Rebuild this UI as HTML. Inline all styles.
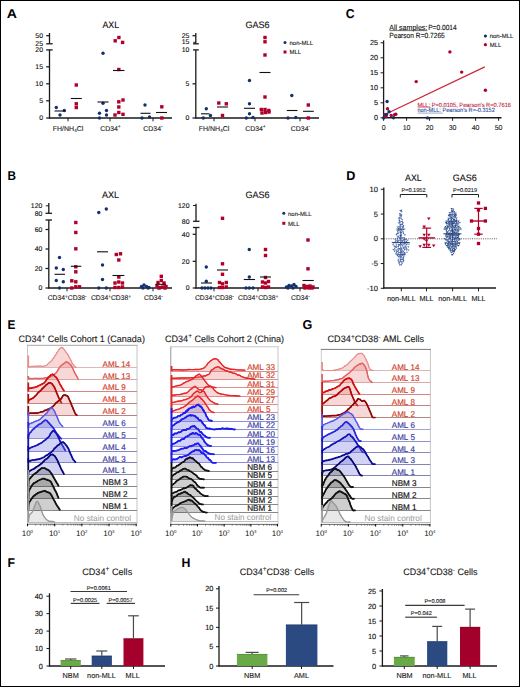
<!DOCTYPE html>
<html><head><meta charset="utf-8"><style>
html,body{margin:0;padding:0;background:#fff;}
body{width:520px;height:687px;overflow:hidden;position:relative;}
svg{position:absolute;left:0;top:0;font-family:"Liberation Sans", sans-serif;text-rendering:geometricPrecision;}
.frame{position:absolute;left:0;top:0;width:520px;height:687px;box-sizing:border-box;border:1px solid #000;border-right-width:1.5px;border-bottom-width:1.5px;}
</style></head><body>
<svg width="520" height="687" viewBox="0 0 520 687">
<text x="6.70" y="18.3" font-size="12.8" font-weight="bold" fill="#000" textLength="10.20" lengthAdjust="spacingAndGlyphs">A</text>
<text x="7.50" y="179.6" font-size="12.8" font-weight="bold" fill="#000" textLength="8.50" lengthAdjust="spacingAndGlyphs">B</text>
<text x="345.75" y="17.9" font-size="12.8" font-weight="bold" fill="#000" textLength="8.85" lengthAdjust="spacingAndGlyphs">C</text>
<text x="346.30" y="179.6" font-size="12.8" font-weight="bold" fill="#000" textLength="9.10" lengthAdjust="spacingAndGlyphs">D</text>
<text x="7.50" y="328.85" font-size="12.8" font-weight="bold" fill="#000" textLength="7.90" lengthAdjust="spacingAndGlyphs">E</text>
<text x="302.40" y="328.9" font-size="12.8" font-weight="bold" fill="#000" textLength="9.85" lengthAdjust="spacingAndGlyphs">G</text>
<text x="7.50" y="566.9" font-size="12.8" font-weight="bold" fill="#000" textLength="7.50" lengthAdjust="spacingAndGlyphs">F</text>
<text x="181.55" y="566.9" font-size="12.8" font-weight="bold" fill="#000" textLength="8.90" lengthAdjust="spacingAndGlyphs">H</text>
<line x1="49.5" y1="33" x2="49.5" y2="43.8" stroke="#1a1a1a" stroke-width="1.3"/>
<line x1="46.2" y1="43.8" x2="52.7" y2="43.8" stroke="#1a1a1a" stroke-width="1.3"/>
<line x1="49.5" y1="49.9" x2="49.5" y2="118.6" stroke="#1a1a1a" stroke-width="1.3"/>
<line x1="46.2" y1="49.9" x2="52.7" y2="49.9" stroke="#1a1a1a" stroke-width="1.3"/>
<line x1="49" y1="118" x2="172" y2="118" stroke="#1a1a1a" stroke-width="1.5"/>
<line x1="46.2" y1="35.7" x2="49.5" y2="35.7" stroke="#1a1a1a" stroke-width="1.25"/>
<text x="43.0" y="38.1" font-size="6.9" text-anchor="end" fill="#111" font-weight="normal" stroke="#111" stroke-width="0.12">50</text>
<line x1="46.2" y1="66.8" x2="49.5" y2="66.8" stroke="#1a1a1a" stroke-width="1.25"/>
<text x="43.0" y="69.2" font-size="6.9" text-anchor="end" fill="#111" font-weight="normal" stroke="#111" stroke-width="0.12">15</text>
<line x1="46.2" y1="83.8" x2="49.5" y2="83.8" stroke="#1a1a1a" stroke-width="1.25"/>
<text x="43.0" y="86.2" font-size="6.9" text-anchor="end" fill="#111" font-weight="normal" stroke="#111" stroke-width="0.12">10</text>
<line x1="46.2" y1="100.8" x2="49.5" y2="100.8" stroke="#1a1a1a" stroke-width="1.25"/>
<text x="43.0" y="103.2" font-size="6.9" text-anchor="end" fill="#111" font-weight="normal" stroke="#111" stroke-width="0.12">5</text>
<line x1="46.2" y1="118" x2="49.5" y2="118" stroke="#1a1a1a" stroke-width="1.25"/>
<text x="43.0" y="120.4" font-size="6.9" text-anchor="end" fill="#111" font-weight="normal" stroke="#111" stroke-width="0.12">0</text>
<text x="43.0" y="45.8" font-size="6.9" text-anchor="end" fill="#111" font-weight="normal" stroke="#111" stroke-width="0.12">25</text>
<text x="43.0" y="52.199999999999996" font-size="6.9" text-anchor="end" fill="#111" font-weight="normal" stroke="#111" stroke-width="0.12">20</text>
<line x1="68" y1="118" x2="68" y2="121.3" stroke="#1a1a1a" stroke-width="1"/>
<line x1="110" y1="118" x2="110" y2="121.3" stroke="#1a1a1a" stroke-width="1"/>
<line x1="153" y1="118" x2="153" y2="121.3" stroke="#1a1a1a" stroke-width="1"/>
<text x="68" y="130.5" font-size="7" text-anchor="middle" fill="#222" font-weight="normal" stroke="#222" stroke-width="0.12">FH/NH<tspan font-size="4.5" dy="1.5">4</tspan><tspan dy="-1.5">Cl</tspan></text>
<text x="100.23" y="130.50" font-size="6.9" fill="#222" stroke="#222" stroke-width="0.12" textLength="17.64" lengthAdjust="spacingAndGlyphs">CD34</text>
<text x="117.87" y="127.81" font-size="4.968" fill="#222" stroke="#222" stroke-width="0.12" textLength="2.90" lengthAdjust="spacingAndGlyphs">+</text>
<text x="143.35" y="130.50" font-size="6.9" fill="#222" stroke="#222" stroke-width="0.12" textLength="17.64" lengthAdjust="spacingAndGlyphs">CD34</text>
<text x="160.99" y="127.95" font-size="4.968" fill="#222" stroke="#222" stroke-width="0.12" textLength="1.65" lengthAdjust="spacingAndGlyphs">-</text>
<text x="102.42" y="27.8" font-size="9.4" fill="#111" font-weight="normal" stroke="#111" stroke-width="0.12" textLength="16.66" lengthAdjust="spacingAndGlyphs">AXL</text>
<circle cx="56.3" cy="107.5" r="1.7" fill="#13306e"/>
<circle cx="60" cy="115" r="1.7" fill="#13306e"/>
<circle cx="64.3" cy="110.5" r="1.7" fill="#13306e"/>
<circle cx="103" cy="53.2" r="1.7" fill="#13306e"/>
<circle cx="103" cy="103.3" r="1.7" fill="#13306e"/>
<circle cx="99.5" cy="113.3" r="1.7" fill="#13306e"/>
<circle cx="106.5" cy="110.5" r="1.7" fill="#13306e"/>
<circle cx="99.5" cy="118" r="1.7" fill="#13306e"/>
<circle cx="106.5" cy="115" r="1.7" fill="#13306e"/>
<circle cx="145" cy="105" r="1.7" fill="#13306e"/>
<circle cx="142" cy="118" r="1.7" fill="#13306e"/>
<circle cx="149.5" cy="117" r="1.7" fill="#13306e"/>
<rect x="74.60" y="83.30" width="3.4" height="3.4" fill="#b0002a"/>
<rect x="74.60" y="102.10" width="3.4" height="3.4" fill="#b0002a"/>
<rect x="74.60" y="105.80" width="3.4" height="3.4" fill="#b0002a"/>
<rect x="113.50" y="39.10" width="3.4" height="3.4" fill="#b0002a"/>
<rect x="117.20" y="35.80" width="3.4" height="3.4" fill="#b0002a"/>
<rect x="120.90" y="40.70" width="3.4" height="3.4" fill="#b0002a"/>
<rect x="117.10" y="67.80" width="3.4" height="3.4" fill="#b0002a"/>
<rect x="117.10" y="100.10" width="3.4" height="3.4" fill="#b0002a"/>
<rect x="121.30" y="98.30" width="3.4" height="3.4" fill="#b0002a"/>
<rect x="117.10" y="105.30" width="3.4" height="3.4" fill="#b0002a"/>
<rect x="113.30" y="113.30" width="3.4" height="3.4" fill="#b0002a"/>
<rect x="117.10" y="110.80" width="3.4" height="3.4" fill="#b0002a"/>
<rect x="121.30" y="112.60" width="3.4" height="3.4" fill="#b0002a"/>
<rect x="160.10" y="105.10" width="3.4" height="3.4" fill="#b0002a"/>
<rect x="160.10" y="116.30" width="3.4" height="3.4" fill="#b0002a"/>
<line x1="54.5" y1="111" x2="65.5" y2="111" stroke="#111" stroke-width="1.1"/>
<line x1="70.8" y1="98.5" x2="81.8" y2="98.5" stroke="#111" stroke-width="1.1"/>
<line x1="97.5" y1="102" x2="108.5" y2="102" stroke="#111" stroke-width="1.1"/>
<line x1="113" y1="70.5" x2="124.5" y2="70.5" stroke="#111" stroke-width="1.1"/>
<line x1="140.5" y1="113.3" x2="150.5" y2="113.3" stroke="#111" stroke-width="1.1"/>
<line x1="156" y1="112.5" x2="167" y2="112.5" stroke="#111" stroke-width="1.1"/>
<line x1="195.8" y1="33" x2="195.8" y2="43.8" stroke="#1a1a1a" stroke-width="1.3"/>
<line x1="193" y1="43.8" x2="198.8" y2="43.8" stroke="#1a1a1a" stroke-width="1.3"/>
<line x1="195.8" y1="49.9" x2="195.8" y2="118.6" stroke="#1a1a1a" stroke-width="1.3"/>
<line x1="193" y1="49.9" x2="198.8" y2="49.9" stroke="#1a1a1a" stroke-width="1.3"/>
<line x1="195.3" y1="118" x2="319" y2="118" stroke="#1a1a1a" stroke-width="1.5"/>
<line x1="192.5" y1="35.7" x2="195.8" y2="35.7" stroke="#1a1a1a" stroke-width="1.25"/>
<text x="189.3" y="38.1" font-size="6.9" text-anchor="end" fill="#111" font-weight="normal" stroke="#111" stroke-width="0.12">25</text>
<line x1="192.5" y1="83.8" x2="195.8" y2="83.8" stroke="#1a1a1a" stroke-width="1.25"/>
<text x="189.3" y="86.2" font-size="6.9" text-anchor="end" fill="#111" font-weight="normal" stroke="#111" stroke-width="0.12">5</text>
<line x1="192.5" y1="118" x2="195.8" y2="118" stroke="#1a1a1a" stroke-width="1.25"/>
<text x="189.3" y="120.4" font-size="6.9" text-anchor="end" fill="#111" font-weight="normal" stroke="#111" stroke-width="0.12">0</text>
<line x1="193.3" y1="42.3" x2="195.8" y2="42.3" stroke="#1a1a1a" stroke-width="1.0"/>
<text x="189.3" y="44.3" font-size="6.9" text-anchor="end" fill="#111" font-weight="normal" stroke="#111" stroke-width="0.12">15</text>
<text x="189.3" y="52.199999999999996" font-size="6.9" text-anchor="end" fill="#111" font-weight="normal" stroke="#111" stroke-width="0.12">10</text>
<line x1="214" y1="118" x2="214" y2="121.3" stroke="#1a1a1a" stroke-width="1"/>
<line x1="255" y1="118" x2="255" y2="121.3" stroke="#1a1a1a" stroke-width="1"/>
<line x1="300" y1="118" x2="300" y2="121.3" stroke="#1a1a1a" stroke-width="1"/>
<text x="214" y="130.5" font-size="7" text-anchor="middle" fill="#222" font-weight="normal" stroke="#222" stroke-width="0.12">FH/NH<tspan font-size="4.5" dy="1.5">4</tspan><tspan dy="-1.5">Cl</tspan></text>
<text x="245.23" y="130.50" font-size="6.9" fill="#222" stroke="#222" stroke-width="0.12" textLength="17.64" lengthAdjust="spacingAndGlyphs">CD34</text>
<text x="262.87" y="127.81" font-size="4.968" fill="#222" stroke="#222" stroke-width="0.12" textLength="2.90" lengthAdjust="spacingAndGlyphs">+</text>
<text x="290.85" y="130.50" font-size="6.9" fill="#222" stroke="#222" stroke-width="0.12" textLength="17.64" lengthAdjust="spacingAndGlyphs">CD34</text>
<text x="308.49" y="127.95" font-size="4.968" fill="#222" stroke="#222" stroke-width="0.12" textLength="1.65" lengthAdjust="spacingAndGlyphs">-</text>
<text x="245.42" y="27.8" font-size="9.4" fill="#111" font-weight="normal" stroke="#111" stroke-width="0.12" textLength="24.16" lengthAdjust="spacingAndGlyphs">GAS6</text>
<circle cx="206.3" cy="108.8" r="1.7" fill="#13306e"/>
<circle cx="203.3" cy="118" r="1.7" fill="#13306e"/>
<circle cx="210.5" cy="115.5" r="1.7" fill="#13306e"/>
<circle cx="249.5" cy="80.5" r="1.7" fill="#13306e"/>
<circle cx="249.5" cy="103.8" r="1.7" fill="#13306e"/>
<circle cx="249.5" cy="113.8" r="1.7" fill="#13306e"/>
<circle cx="246.3" cy="118" r="1.7" fill="#13306e"/>
<circle cx="253" cy="117.5" r="1.7" fill="#13306e"/>
<circle cx="291.8" cy="95.5" r="1.7" fill="#13306e"/>
<circle cx="288" cy="118" r="1.7" fill="#13306e"/>
<circle cx="295.8" cy="117.5" r="1.7" fill="#13306e"/>
<rect x="217.10" y="101.30" width="3.4" height="3.4" fill="#b0002a"/>
<rect x="224.60" y="102.10" width="3.4" height="3.4" fill="#b0002a"/>
<rect x="220.80" y="113.80" width="3.4" height="3.4" fill="#b0002a"/>
<rect x="263.30" y="35.80" width="3.4" height="3.4" fill="#b0002a"/>
<rect x="263.30" y="40.10" width="3.4" height="3.4" fill="#b0002a"/>
<rect x="263.30" y="53.30" width="3.4" height="3.4" fill="#b0002a"/>
<rect x="263.30" y="95.30" width="3.4" height="3.4" fill="#b0002a"/>
<rect x="259.60" y="107.80" width="3.4" height="3.4" fill="#b0002a"/>
<rect x="263.30" y="107.80" width="3.4" height="3.4" fill="#b0002a"/>
<rect x="267.10" y="108.80" width="3.4" height="3.4" fill="#b0002a"/>
<rect x="260.30" y="111.30" width="3.4" height="3.4" fill="#b0002a"/>
<rect x="263.80" y="110.80" width="3.4" height="3.4" fill="#b0002a"/>
<rect x="267.30" y="110.30" width="3.4" height="3.4" fill="#b0002a"/>
<rect x="306.60" y="103.30" width="3.4" height="3.4" fill="#b0002a"/>
<rect x="306.60" y="116.30" width="3.4" height="3.4" fill="#b0002a"/>
<line x1="201" y1="113.8" x2="209.5" y2="113.8" stroke="#111" stroke-width="1.1"/>
<line x1="217" y1="107" x2="228" y2="107" stroke="#111" stroke-width="1.1"/>
<line x1="244" y1="108.3" x2="255" y2="108.3" stroke="#111" stroke-width="1.1"/>
<line x1="259.5" y1="72.5" x2="270.5" y2="72.5" stroke="#111" stroke-width="1.1"/>
<line x1="286.8" y1="110.5" x2="297.5" y2="110.5" stroke="#111" stroke-width="1.1"/>
<line x1="303" y1="111.3" x2="313.8" y2="111.3" stroke="#111" stroke-width="1.1"/>
<circle cx="285" cy="42.5" r="1.5" fill="#13306e"/>
<text x="289.5" y="44.8" font-size="6.0" text-anchor="start" fill="#222" font-weight="normal" stroke="#222" stroke-width="0.12">non-MLL</text>
<rect x="283.50" y="50.50" width="3" height="3" fill="#b0002a"/>
<text x="289.5" y="54.3" font-size="6.0" text-anchor="start" fill="#222" font-weight="normal" stroke="#222" stroke-width="0.12">MLL</text>
<line x1="383.6" y1="40.4" x2="383.6" y2="118.5" stroke="#1a1a1a" stroke-width="1.3"/>
<line x1="383" y1="117.8" x2="501.5" y2="117.8" stroke="#1a1a1a" stroke-width="1.5"/>
<line x1="380.6" y1="117.8" x2="383.6" y2="117.8" stroke="#1a1a1a" stroke-width="1.0"/>
<text x="378.1" y="120.3" font-size="7.3" text-anchor="end" fill="#111" font-weight="normal" stroke="#111" stroke-width="0.12">0</text>
<line x1="380.6" y1="102.8" x2="383.6" y2="102.8" stroke="#1a1a1a" stroke-width="1.0"/>
<text x="378.1" y="105.3" font-size="7.3" text-anchor="end" fill="#111" font-weight="normal" stroke="#111" stroke-width="0.12">5</text>
<line x1="380.6" y1="87.8" x2="383.6" y2="87.8" stroke="#1a1a1a" stroke-width="1.0"/>
<text x="378.1" y="90.3" font-size="7.3" text-anchor="end" fill="#111" font-weight="normal" stroke="#111" stroke-width="0.12">10</text>
<line x1="380.6" y1="72.8" x2="383.6" y2="72.8" stroke="#1a1a1a" stroke-width="1.0"/>
<text x="378.1" y="75.3" font-size="7.3" text-anchor="end" fill="#111" font-weight="normal" stroke="#111" stroke-width="0.12">15</text>
<line x1="380.6" y1="57.8" x2="383.6" y2="57.8" stroke="#1a1a1a" stroke-width="1.0"/>
<text x="378.1" y="60.3" font-size="7.3" text-anchor="end" fill="#111" font-weight="normal" stroke="#111" stroke-width="0.12">20</text>
<line x1="380.6" y1="42.8" x2="383.6" y2="42.8" stroke="#1a1a1a" stroke-width="1.0"/>
<text x="378.1" y="45.3" font-size="7.3" text-anchor="end" fill="#111" font-weight="normal" stroke="#111" stroke-width="0.12">25</text>
<line x1="383.6" y1="117.8" x2="383.6" y2="120.8" stroke="#1a1a1a" stroke-width="1.0"/>
<text x="383.6" y="130.1" font-size="7" text-anchor="middle" fill="#222" font-weight="normal" stroke="#222" stroke-width="0.12">0</text>
<line x1="406.6" y1="117.8" x2="406.6" y2="120.8" stroke="#1a1a1a" stroke-width="1.0"/>
<text x="406.6" y="130.1" font-size="7" text-anchor="middle" fill="#222" font-weight="normal" stroke="#222" stroke-width="0.12">10</text>
<line x1="429.6" y1="117.8" x2="429.6" y2="120.8" stroke="#1a1a1a" stroke-width="1.0"/>
<text x="429.6" y="130.1" font-size="7" text-anchor="middle" fill="#222" font-weight="normal" stroke="#222" stroke-width="0.12">20</text>
<line x1="452.6" y1="117.8" x2="452.6" y2="120.8" stroke="#1a1a1a" stroke-width="1.0"/>
<text x="452.6" y="130.1" font-size="7" text-anchor="middle" fill="#222" font-weight="normal" stroke="#222" stroke-width="0.12">30</text>
<line x1="475.6" y1="117.8" x2="475.6" y2="120.8" stroke="#1a1a1a" stroke-width="1.0"/>
<text x="475.6" y="130.1" font-size="7" text-anchor="middle" fill="#222" font-weight="normal" stroke="#222" stroke-width="0.12">40</text>
<line x1="498.6" y1="117.8" x2="498.6" y2="120.8" stroke="#1a1a1a" stroke-width="1.0"/>
<text x="498.6" y="130.1" font-size="7" text-anchor="middle" fill="#222" font-weight="normal" stroke="#222" stroke-width="0.12">50</text>
<text x="389.3" y="29.7" font-size="7.4" text-anchor="start" fill="#111" font-weight="normal" stroke="#111" stroke-width="0.12" textLength="38" lengthAdjust="spacingAndGlyphs">All samples:</text>
<line x1="389.6" y1="30.6" x2="427.3" y2="30.6" stroke="#111" stroke-width="0.6"/>
<text x="428.2" y="29.7" font-size="7.4" text-anchor="start" fill="#111" font-weight="normal" stroke="#111" stroke-width="0.12" textLength="28.5" lengthAdjust="spacingAndGlyphs">P=0.0014</text>
<text x="389.3" y="37.6" font-size="7.4" text-anchor="start" fill="#111" font-weight="normal" stroke="#111" stroke-width="0.12" textLength="55.5" lengthAdjust="spacingAndGlyphs">Pearson R=0.7265</text>
<circle cx="485.4" cy="36" r="1.6" fill="#13306e"/>
<text x="489.7" y="38.3" font-size="6.0" text-anchor="start" fill="#222" font-weight="normal" stroke="#222" stroke-width="0.12">non-MLL</text>
<circle cx="485.4" cy="44.7" r="1.6" fill="#b0002a"/>
<text x="489.7" y="47" font-size="6.0" text-anchor="start" fill="#222" font-weight="normal" stroke="#222" stroke-width="0.12">MLL</text>
<line x1="385.4" y1="114.2" x2="484.8" y2="66.9" stroke="#c8283a" stroke-width="1.2"/>
<circle cx="449.9" cy="51.9" r="1.7" fill="#b0002a"/>
<circle cx="461.7" cy="72.1" r="1.7" fill="#b0002a"/>
<circle cx="416.2" cy="81.6" r="1.7" fill="#b0002a"/>
<circle cx="485.4" cy="90.3" r="1.7" fill="#b0002a"/>
<circle cx="387.5" cy="108.8" r="1.7" fill="#b0002a"/>
<circle cx="384.8" cy="114.8" r="1.7" fill="#b0002a"/>
<circle cx="386" cy="116.5" r="1.7" fill="#b0002a"/>
<circle cx="391.2" cy="115.4" r="1.7" fill="#b0002a"/>
<circle cx="394.6" cy="114.8" r="1.7" fill="#b0002a"/>
<circle cx="395.8" cy="114.2" r="1.7" fill="#b0002a"/>
<circle cx="387.1" cy="101.5" r="1.7" fill="#13306e"/>
<circle cx="389.1" cy="111.7" r="1.7" fill="#13306e"/>
<circle cx="383.65" cy="117.9" r="1.7" fill="#13306e"/>
<circle cx="393.5" cy="117.7" r="1.7" fill="#13306e"/>
<circle cx="427.5" cy="117.9" r="1.7" fill="#13306e"/>
<circle cx="386.5" cy="114.5" r="1.7" fill="#13306e"/>
<text x="417.4" y="106.6" font-size="6.0" text-anchor="start" fill="#c0283f" font-weight="normal" stroke="#c0283f" stroke-width="0.12" textLength="93.6" lengthAdjust="spacingAndGlyphs">MLL: P=0.0105,  Pearson's R=0.7616</text>
<line x1="417.7" y1="107.3" x2="431.2" y2="107.3" stroke="#c0283f" stroke-width="0.5"/>
<text x="417.4" y="112.4" font-size="6.0" text-anchor="start" fill="#3050a0" font-weight="normal" stroke="#3050a0" stroke-width="0.12" textLength="77.4" lengthAdjust="spacingAndGlyphs">non-MLL: Pearson's R=-0.3152</text>
<line x1="417.7" y1="113.1" x2="442.7" y2="113.1" stroke="#3050a0" stroke-width="0.5"/>
<line x1="48.8" y1="203" x2="48.8" y2="213.3" stroke="#1a1a1a" stroke-width="1.3"/>
<line x1="45.5" y1="213.3" x2="52" y2="213.3" stroke="#1a1a1a" stroke-width="1.3"/>
<line x1="48.8" y1="220" x2="48.8" y2="288.6" stroke="#1a1a1a" stroke-width="1.3"/>
<line x1="45.5" y1="220" x2="52" y2="220" stroke="#1a1a1a" stroke-width="1.3"/>
<line x1="48.3" y1="288" x2="172" y2="288" stroke="#1a1a1a" stroke-width="1.5"/>
<line x1="45.8" y1="205.8" x2="48.8" y2="205.8" stroke="#1a1a1a" stroke-width="1.0"/>
<text x="42.3" y="208.10000000000002" font-size="6.9" text-anchor="end" fill="#111" font-weight="normal" stroke="#111" stroke-width="0.12">120</text>
<text x="42.3" y="215.60000000000002" font-size="6.9" text-anchor="end" fill="#111" font-weight="normal" stroke="#111" stroke-width="0.12">80</text>
<line x1="45.5" y1="229.5" x2="48.8" y2="229.5" stroke="#1a1a1a" stroke-width="1.25"/>
<text x="42.3" y="231.9" font-size="6.9" text-anchor="end" fill="#111" font-weight="normal" stroke="#111" stroke-width="0.12">60</text>
<line x1="45.5" y1="249" x2="48.8" y2="249" stroke="#1a1a1a" stroke-width="1.25"/>
<text x="42.3" y="251.4" font-size="6.9" text-anchor="end" fill="#111" font-weight="normal" stroke="#111" stroke-width="0.12">40</text>
<line x1="45.5" y1="268.5" x2="48.8" y2="268.5" stroke="#1a1a1a" stroke-width="1.25"/>
<text x="42.3" y="270.9" font-size="6.9" text-anchor="end" fill="#111" font-weight="normal" stroke="#111" stroke-width="0.12">20</text>
<line x1="45.5" y1="288" x2="48.8" y2="288" stroke="#1a1a1a" stroke-width="1.25"/>
<text x="42.3" y="290.4" font-size="6.9" text-anchor="end" fill="#111" font-weight="normal" stroke="#111" stroke-width="0.12">0</text>
<line x1="67" y1="288" x2="67" y2="291.3" stroke="#1a1a1a" stroke-width="1"/>
<line x1="110" y1="288" x2="110" y2="291.3" stroke="#1a1a1a" stroke-width="1"/>
<line x1="153" y1="288" x2="153" y2="291.3" stroke="#1a1a1a" stroke-width="1"/>
<text x="47.71" y="300.30" font-size="6.75" fill="#222" stroke="#222" stroke-width="0.12" textLength="17.26" lengthAdjust="spacingAndGlyphs">CD34</text>
<text x="64.97" y="297.67" font-size="4.859999999999999" fill="#222" stroke="#222" stroke-width="0.12" textLength="2.84" lengthAdjust="spacingAndGlyphs">+</text>
<text x="67.81" y="300.30" font-size="6.75" fill="#222" stroke="#222" stroke-width="0.12" textLength="17.26" lengthAdjust="spacingAndGlyphs">CD38</text>
<text x="85.07" y="297.80" font-size="4.859999999999999" fill="#222" stroke="#222" stroke-width="0.12" textLength="1.62" lengthAdjust="spacingAndGlyphs">-</text>
<text x="90.90" y="300.30" font-size="6.75" fill="#222" stroke="#222" stroke-width="0.12" textLength="17.26" lengthAdjust="spacingAndGlyphs">CD34</text>
<text x="108.16" y="297.67" font-size="4.859999999999999" fill="#222" stroke="#222" stroke-width="0.12" textLength="2.84" lengthAdjust="spacingAndGlyphs">+</text>
<text x="111.00" y="300.30" font-size="6.75" fill="#222" stroke="#222" stroke-width="0.12" textLength="17.26" lengthAdjust="spacingAndGlyphs">CD38</text>
<text x="128.26" y="297.67" font-size="4.859999999999999" fill="#222" stroke="#222" stroke-width="0.12" textLength="2.84" lengthAdjust="spacingAndGlyphs">+</text>
<text x="144.06" y="300.30" font-size="6.75" fill="#222" stroke="#222" stroke-width="0.12" textLength="17.26" lengthAdjust="spacingAndGlyphs">CD34</text>
<text x="161.32" y="297.80" font-size="4.859999999999999" fill="#222" stroke="#222" stroke-width="0.12" textLength="1.62" lengthAdjust="spacingAndGlyphs">-</text>
<text x="102.02" y="197.8" font-size="9.4" fill="#111" font-weight="normal" stroke="#111" stroke-width="0.12" textLength="17.16" lengthAdjust="spacingAndGlyphs">AXL</text>
<circle cx="59.5" cy="257.5" r="1.7" fill="#13306e"/>
<circle cx="56.3" cy="268" r="1.7" fill="#13306e"/>
<circle cx="63.3" cy="269.5" r="1.7" fill="#13306e"/>
<circle cx="56.3" cy="280.5" r="1.7" fill="#13306e"/>
<circle cx="63.3" cy="281.8" r="1.7" fill="#13306e"/>
<circle cx="59.5" cy="288" r="1.7" fill="#13306e"/>
<circle cx="98.8" cy="212.5" r="1.7" fill="#13306e"/>
<circle cx="106.3" cy="209" r="1.7" fill="#13306e"/>
<circle cx="102.5" cy="265" r="1.7" fill="#13306e"/>
<circle cx="102.5" cy="279.5" r="1.7" fill="#13306e"/>
<circle cx="98.8" cy="288" r="1.7" fill="#13306e"/>
<circle cx="106.3" cy="288" r="1.7" fill="#13306e"/>
<circle cx="141.5" cy="286.5" r="1.7" fill="#13306e"/>
<circle cx="144" cy="285" r="1.7" fill="#13306e"/>
<circle cx="146.5" cy="286.5" r="1.7" fill="#13306e"/>
<circle cx="149" cy="287.5" r="1.7" fill="#13306e"/>
<circle cx="143" cy="288" r="1.7" fill="#13306e"/>
<circle cx="148" cy="288" r="1.7" fill="#13306e"/>
<rect x="74.10" y="220.80" width="3.4" height="3.4" fill="#b0002a"/>
<rect x="74.10" y="230.80" width="3.4" height="3.4" fill="#b0002a"/>
<rect x="74.10" y="247.10" width="3.4" height="3.4" fill="#b0002a"/>
<rect x="74.10" y="265.10" width="3.4" height="3.4" fill="#b0002a"/>
<rect x="74.10" y="270.10" width="3.4" height="3.4" fill="#b0002a"/>
<rect x="70.10" y="279.10" width="3.4" height="3.4" fill="#b0002a"/>
<rect x="74.10" y="280.10" width="3.4" height="3.4" fill="#b0002a"/>
<rect x="70.10" y="286.30" width="3.4" height="3.4" fill="#b0002a"/>
<rect x="74.10" y="285.10" width="3.4" height="3.4" fill="#b0002a"/>
<rect x="77.80" y="285.10" width="3.4" height="3.4" fill="#b0002a"/>
<rect x="114.60" y="252.80" width="3.4" height="3.4" fill="#b0002a"/>
<rect x="118.80" y="252.10" width="3.4" height="3.4" fill="#b0002a"/>
<rect x="117.10" y="258.30" width="3.4" height="3.4" fill="#b0002a"/>
<rect x="117.10" y="275.30" width="3.4" height="3.4" fill="#b0002a"/>
<rect x="113.30" y="281.30" width="3.4" height="3.4" fill="#b0002a"/>
<rect x="117.10" y="280.30" width="3.4" height="3.4" fill="#b0002a"/>
<rect x="120.80" y="281.30" width="3.4" height="3.4" fill="#b0002a"/>
<rect x="113.30" y="285.80" width="3.4" height="3.4" fill="#b0002a"/>
<rect x="117.10" y="285.80" width="3.4" height="3.4" fill="#b0002a"/>
<rect x="120.80" y="285.30" width="3.4" height="3.4" fill="#b0002a"/>
<rect x="159.60" y="274.60" width="3.4" height="3.4" fill="#b0002a"/>
<rect x="159.60" y="278.80" width="3.4" height="3.4" fill="#b0002a"/>
<rect x="156.30" y="280.80" width="3.4" height="3.4" fill="#b0002a"/>
<rect x="162.30" y="281.30" width="3.4" height="3.4" fill="#b0002a"/>
<rect x="155.30" y="284.30" width="3.4" height="3.4" fill="#b0002a"/>
<rect x="158.30" y="285.80" width="3.4" height="3.4" fill="#b0002a"/>
<rect x="161.30" y="285.30" width="3.4" height="3.4" fill="#b0002a"/>
<rect x="164.30" y="284.80" width="3.4" height="3.4" fill="#b0002a"/>
<rect x="157.30" y="286.30" width="3.4" height="3.4" fill="#b0002a"/>
<rect x="163.30" y="286.30" width="3.4" height="3.4" fill="#b0002a"/>
<line x1="54.5" y1="274.3" x2="65" y2="274.3" stroke="#111" stroke-width="1.1"/>
<line x1="70.8" y1="266.3" x2="81.3" y2="266.3" stroke="#111" stroke-width="1.1"/>
<line x1="97" y1="251.8" x2="108" y2="251.8" stroke="#111" stroke-width="1.1"/>
<line x1="112.5" y1="275.5" x2="124.3" y2="275.5" stroke="#111" stroke-width="1.1"/>
<line x1="155.5" y1="284.3" x2="166" y2="284.3" stroke="#111" stroke-width="1.1"/>
<line x1="196" y1="203.8" x2="196" y2="221.3" stroke="#1a1a1a" stroke-width="1.3"/>
<line x1="193" y1="221.3" x2="199.5" y2="221.3" stroke="#1a1a1a" stroke-width="1.3"/>
<line x1="196" y1="227.5" x2="196" y2="288.6" stroke="#1a1a1a" stroke-width="1.3"/>
<line x1="193" y1="227.5" x2="199.5" y2="227.5" stroke="#1a1a1a" stroke-width="1.3"/>
<line x1="195.5" y1="288" x2="319" y2="288" stroke="#1a1a1a" stroke-width="1.5"/>
<line x1="193" y1="205.5" x2="196" y2="205.5" stroke="#1a1a1a" stroke-width="1.0"/>
<text x="189.5" y="207.8" font-size="6.9" text-anchor="end" fill="#111" font-weight="normal" stroke="#111" stroke-width="0.12">120</text>
<text x="189.5" y="223.60000000000002" font-size="6.9" text-anchor="end" fill="#111" font-weight="normal" stroke="#111" stroke-width="0.12">80</text>
<line x1="192.7" y1="234.3" x2="196" y2="234.3" stroke="#1a1a1a" stroke-width="1.25"/>
<text x="189.5" y="236.70000000000002" font-size="6.9" text-anchor="end" fill="#111" font-weight="normal" stroke="#111" stroke-width="0.12">40</text>
<line x1="192.7" y1="261.3" x2="196" y2="261.3" stroke="#1a1a1a" stroke-width="1.25"/>
<text x="189.5" y="263.7" font-size="6.9" text-anchor="end" fill="#111" font-weight="normal" stroke="#111" stroke-width="0.12">20</text>
<line x1="192.7" y1="288" x2="196" y2="288" stroke="#1a1a1a" stroke-width="1.25"/>
<text x="189.5" y="290.4" font-size="6.9" text-anchor="end" fill="#111" font-weight="normal" stroke="#111" stroke-width="0.12">0</text>
<line x1="214" y1="288" x2="214" y2="291.3" stroke="#1a1a1a" stroke-width="1"/>
<line x1="258" y1="288" x2="258" y2="291.3" stroke="#1a1a1a" stroke-width="1"/>
<line x1="300" y1="288" x2="300" y2="291.3" stroke="#1a1a1a" stroke-width="1"/>
<text x="195.01" y="300.30" font-size="6.75" fill="#222" stroke="#222" stroke-width="0.12" textLength="17.26" lengthAdjust="spacingAndGlyphs">CD34</text>
<text x="212.27" y="297.67" font-size="4.859999999999999" fill="#222" stroke="#222" stroke-width="0.12" textLength="2.84" lengthAdjust="spacingAndGlyphs">+</text>
<text x="215.11" y="300.30" font-size="6.75" fill="#222" stroke="#222" stroke-width="0.12" textLength="17.26" lengthAdjust="spacingAndGlyphs">CD38</text>
<text x="232.37" y="297.80" font-size="4.859999999999999" fill="#222" stroke="#222" stroke-width="0.12" textLength="1.62" lengthAdjust="spacingAndGlyphs">-</text>
<text x="238.10" y="300.30" font-size="6.75" fill="#222" stroke="#222" stroke-width="0.12" textLength="17.26" lengthAdjust="spacingAndGlyphs">CD34</text>
<text x="255.36" y="297.67" font-size="4.859999999999999" fill="#222" stroke="#222" stroke-width="0.12" textLength="2.84" lengthAdjust="spacingAndGlyphs">+</text>
<text x="258.20" y="300.30" font-size="6.75" fill="#222" stroke="#222" stroke-width="0.12" textLength="17.26" lengthAdjust="spacingAndGlyphs">CD38</text>
<text x="275.46" y="297.67" font-size="4.859999999999999" fill="#222" stroke="#222" stroke-width="0.12" textLength="2.84" lengthAdjust="spacingAndGlyphs">+</text>
<text x="291.06" y="300.30" font-size="6.75" fill="#222" stroke="#222" stroke-width="0.12" textLength="17.26" lengthAdjust="spacingAndGlyphs">CD34</text>
<text x="308.32" y="297.80" font-size="4.859999999999999" fill="#222" stroke="#222" stroke-width="0.12" textLength="1.62" lengthAdjust="spacingAndGlyphs">-</text>
<text x="245.42" y="197.8" font-size="9.4" fill="#111" font-weight="normal" stroke="#111" stroke-width="0.12" textLength="24.16" lengthAdjust="spacingAndGlyphs">GAS6</text>
<circle cx="206.3" cy="267" r="1.7" fill="#13306e"/>
<circle cx="206.3" cy="281.3" r="1.7" fill="#13306e"/>
<circle cx="202" cy="288" r="1.7" fill="#13306e"/>
<circle cx="205" cy="288" r="1.7" fill="#13306e"/>
<circle cx="208" cy="288" r="1.7" fill="#13306e"/>
<circle cx="211" cy="288" r="1.7" fill="#13306e"/>
<circle cx="249.3" cy="249.5" r="1.7" fill="#13306e"/>
<circle cx="249.3" cy="277" r="1.7" fill="#13306e"/>
<circle cx="246" cy="288" r="1.7" fill="#13306e"/>
<circle cx="249.3" cy="288" r="1.7" fill="#13306e"/>
<circle cx="253" cy="288" r="1.7" fill="#13306e"/>
<circle cx="286.5" cy="287" r="1.7" fill="#13306e"/>
<circle cx="289" cy="285.5" r="1.7" fill="#13306e"/>
<circle cx="291.5" cy="286" r="1.7" fill="#13306e"/>
<circle cx="294" cy="284.5" r="1.7" fill="#13306e"/>
<circle cx="296" cy="286.5" r="1.7" fill="#13306e"/>
<circle cx="288" cy="288" r="1.7" fill="#13306e"/>
<circle cx="293" cy="288" r="1.7" fill="#13306e"/>
<rect x="220.80" y="216.60" width="3.4" height="3.4" fill="#b0002a"/>
<rect x="220.80" y="262.10" width="3.4" height="3.4" fill="#b0002a"/>
<rect x="220.80" y="272.60" width="3.4" height="3.4" fill="#b0002a"/>
<rect x="217.80" y="280.80" width="3.4" height="3.4" fill="#b0002a"/>
<rect x="220.80" y="282.10" width="3.4" height="3.4" fill="#b0002a"/>
<rect x="224.60" y="280.80" width="3.4" height="3.4" fill="#b0002a"/>
<rect x="217.80" y="285.80" width="3.4" height="3.4" fill="#b0002a"/>
<rect x="220.80" y="285.80" width="3.4" height="3.4" fill="#b0002a"/>
<rect x="224.60" y="285.30" width="3.4" height="3.4" fill="#b0002a"/>
<rect x="263.80" y="247.80" width="3.4" height="3.4" fill="#b0002a"/>
<rect x="263.80" y="253.80" width="3.4" height="3.4" fill="#b0002a"/>
<rect x="263.80" y="275.80" width="3.4" height="3.4" fill="#b0002a"/>
<rect x="260.80" y="280.30" width="3.4" height="3.4" fill="#b0002a"/>
<rect x="263.80" y="281.30" width="3.4" height="3.4" fill="#b0002a"/>
<rect x="266.80" y="279.80" width="3.4" height="3.4" fill="#b0002a"/>
<rect x="260.80" y="285.30" width="3.4" height="3.4" fill="#b0002a"/>
<rect x="263.80" y="285.80" width="3.4" height="3.4" fill="#b0002a"/>
<rect x="266.80" y="285.30" width="3.4" height="3.4" fill="#b0002a"/>
<rect x="306.30" y="238.30" width="3.4" height="3.4" fill="#b0002a"/>
<rect x="306.30" y="267.10" width="3.4" height="3.4" fill="#b0002a"/>
<rect x="302.30" y="283.80" width="3.4" height="3.4" fill="#b0002a"/>
<rect x="305.30" y="284.80" width="3.4" height="3.4" fill="#b0002a"/>
<rect x="308.30" y="284.30" width="3.4" height="3.4" fill="#b0002a"/>
<rect x="311.30" y="285.30" width="3.4" height="3.4" fill="#b0002a"/>
<rect x="303.30" y="286.30" width="3.4" height="3.4" fill="#b0002a"/>
<rect x="307.30" y="286.30" width="3.4" height="3.4" fill="#b0002a"/>
<rect x="310.30" y="286.30" width="3.4" height="3.4" fill="#b0002a"/>
<line x1="201" y1="283" x2="212" y2="283" stroke="#111" stroke-width="1.1"/>
<line x1="217" y1="270" x2="228" y2="270" stroke="#111" stroke-width="1.1"/>
<line x1="243.8" y1="279.5" x2="255" y2="279.5" stroke="#111" stroke-width="1.1"/>
<line x1="260" y1="277" x2="271" y2="277" stroke="#111" stroke-width="1.1"/>
<line x1="302.5" y1="280.5" x2="313.8" y2="280.5" stroke="#111" stroke-width="1.1"/>
<circle cx="283.8" cy="213.3" r="1.5" fill="#13306e"/>
<text x="288" y="215.6" font-size="6.0" text-anchor="start" fill="#222" font-weight="normal" stroke="#222" stroke-width="0.12">non-MLL</text>
<rect x="282.30" y="221.80" width="3" height="3" fill="#b0002a"/>
<text x="288" y="225.6" font-size="6.0" text-anchor="start" fill="#222" font-weight="normal" stroke="#222" stroke-width="0.12">MLL</text>
<line x1="383.8" y1="187.5" x2="383.8" y2="288.6" stroke="#1a1a1a" stroke-width="1.3"/>
<line x1="383.2" y1="288" x2="496" y2="288" stroke="#1a1a1a" stroke-width="1.5"/>
<line x1="380.8" y1="189.3" x2="383.8" y2="189.3" stroke="#1a1a1a" stroke-width="1.0"/>
<text x="378.0" y="191.9" font-size="7.6" text-anchor="end" fill="#111" font-weight="normal" stroke="#111" stroke-width="0.12">10</text>
<line x1="380.8" y1="214.05" x2="383.8" y2="214.05" stroke="#1a1a1a" stroke-width="1.0"/>
<text x="378.0" y="216.65" font-size="7.6" text-anchor="end" fill="#111" font-weight="normal" stroke="#111" stroke-width="0.12">5</text>
<line x1="380.8" y1="238.8" x2="383.8" y2="238.8" stroke="#1a1a1a" stroke-width="1.0"/>
<text x="378.0" y="241.4" font-size="7.6" text-anchor="end" fill="#111" font-weight="normal" stroke="#111" stroke-width="0.12">0</text>
<line x1="380.8" y1="263.55" x2="383.8" y2="263.55" stroke="#1a1a1a" stroke-width="1.0"/>
<text x="378.0" y="266.15000000000003" font-size="7.6" text-anchor="end" fill="#111" font-weight="normal" stroke="#111" stroke-width="0.12">-5</text>
<line x1="380.8" y1="288.3" x2="383.8" y2="288.3" stroke="#1a1a1a" stroke-width="1.0"/>
<text x="378.0" y="290.90000000000003" font-size="7.6" text-anchor="end" fill="#111" font-weight="normal" stroke="#111" stroke-width="0.12">-10</text>
<line x1="401.3" y1="288" x2="401.3" y2="291.3" stroke="#1a1a1a" stroke-width="1"/>
<line x1="426.5" y1="288" x2="426.5" y2="291.3" stroke="#1a1a1a" stroke-width="1"/>
<line x1="452.6" y1="288" x2="452.6" y2="291.3" stroke="#1a1a1a" stroke-width="1"/>
<line x1="478.5" y1="288" x2="478.5" y2="291.3" stroke="#1a1a1a" stroke-width="1"/>
<text x="401.3" y="300.8" font-size="7.3" text-anchor="middle" fill="#222" font-weight="normal" stroke="#222" stroke-width="0.12">non-MLL</text>
<text x="426.5" y="300.8" font-size="7.3" text-anchor="middle" fill="#222" font-weight="normal" stroke="#222" stroke-width="0.12">MLL</text>
<text x="452.6" y="300.8" font-size="7.3" text-anchor="middle" fill="#222" font-weight="normal" stroke="#222" stroke-width="0.12">non-MLL</text>
<text x="478.5" y="300.8" font-size="7.3" text-anchor="middle" fill="#222" font-weight="normal" stroke="#222" stroke-width="0.12">MLL</text>
<text x="405.12" y="180.6" font-size="9.4" fill="#111" font-weight="normal" stroke="#111" stroke-width="0.12" textLength="16.66" lengthAdjust="spacingAndGlyphs">AXL</text>
<text x="452.82" y="180.6" font-size="9.4" fill="#111" font-weight="normal" stroke="#111" stroke-width="0.12" textLength="23.96" lengthAdjust="spacingAndGlyphs">GAS6</text>
<line x1="384" y1="238.8" x2="497" y2="238.8" stroke="#555" stroke-width="0.9" stroke-dasharray="1.1,1.1"/>
<path d="M400.3 197.5 V194.5 H426.8 V197.5" fill="none" stroke="#222" stroke-width="1"/>
<text x="413.5" y="192.0" font-size="5.6" text-anchor="middle" fill="#222" font-weight="normal" stroke="#222" stroke-width="0.12">P=0.1952</text>
<path d="M452 197.5 V194.5 H478.5 V197.5" fill="none" stroke="#222" stroke-width="1"/>
<text x="465" y="192.0" font-size="5.6" text-anchor="middle" fill="#222" font-weight="normal" stroke="#222" stroke-width="0.12">P=0.0219</text>
<path d="M399.31 210.07h2.0l-1.0 1.6z M400.52 209.86h2.0l-1.0 1.6z M400.49 211.15h2.0l-1.0 1.6z M398.84 213.07h2.0l-1.0 1.6z M399.13 214.41h2.0l-1.0 1.6z M400.28 214.10h2.0l-1.0 1.6z M399.03 215.50h2.0l-1.0 1.6z M400.31 215.33h2.0l-1.0 1.6z M398.19 217.05h2.0l-1.0 1.6z M399.91 216.66h2.0l-1.0 1.6z M398.18 218.33h2.0l-1.0 1.6z M400.15 218.15h2.0l-1.0 1.6z M398.38 219.78h2.0l-1.0 1.6z M401.36 219.27h2.0l-1.0 1.6z M398.39 220.70h2.0l-1.0 1.6z M399.96 221.00h2.0l-1.0 1.6z M401.09 220.91h2.0l-1.0 1.6z M397.65 222.24h2.0l-1.0 1.6z M398.75 222.37h2.0l-1.0 1.6z M401.78 222.05h2.0l-1.0 1.6z M399.15 223.82h2.0l-1.0 1.6z M400.49 223.87h2.0l-1.0 1.6z M401.80 223.46h2.0l-1.0 1.6z M399.24 225.14h2.0l-1.0 1.6z M402.42 224.96h2.0l-1.0 1.6z M396.59 226.52h2.0l-1.0 1.6z M398.13 226.30h2.0l-1.0 1.6z M399.69 226.21h2.0l-1.0 1.6z M401.33 226.37h2.0l-1.0 1.6z M402.28 226.14h2.0l-1.0 1.6z M397.59 227.83h2.0l-1.0 1.6z M399.22 227.50h2.0l-1.0 1.6z M401.96 227.36h2.0l-1.0 1.6z M397.22 228.77h2.0l-1.0 1.6z M398.88 228.74h2.0l-1.0 1.6z M400.61 228.80h2.0l-1.0 1.6z M402.35 228.97h2.0l-1.0 1.6z M396.40 230.28h2.0l-1.0 1.6z M398.04 230.12h2.0l-1.0 1.6z M401.08 230.41h2.0l-1.0 1.6z M397.04 231.83h2.0l-1.0 1.6z M399.14 231.81h2.0l-1.0 1.6z M400.40 231.99h2.0l-1.0 1.6z M402.29 231.53h2.0l-1.0 1.6z M396.06 232.94h2.0l-1.0 1.6z M397.17 232.93h2.0l-1.0 1.6z M402.36 232.94h2.0l-1.0 1.6z M395.51 234.11h2.0l-1.0 1.6z M399.24 234.68h2.0l-1.0 1.6z M400.36 234.62h2.0l-1.0 1.6z M403.90 234.33h2.0l-1.0 1.6z M396.51 235.71h2.0l-1.0 1.6z M397.77 235.85h2.0l-1.0 1.6z M399.80 235.65h2.0l-1.0 1.6z M396.66 237.39h2.0l-1.0 1.6z M398.17 236.93h2.0l-1.0 1.6z M400.07 237.36h2.0l-1.0 1.6z M401.61 237.21h2.0l-1.0 1.6z M403.20 236.94h2.0l-1.0 1.6z M394.17 238.70h2.0l-1.0 1.6z M396.17 238.51h2.0l-1.0 1.6z M398.91 238.32h2.0l-1.0 1.6z M402.46 238.68h2.0l-1.0 1.6z M403.67 238.21h2.0l-1.0 1.6z M404.83 238.67h2.0l-1.0 1.6z M394.96 239.97h2.0l-1.0 1.6z M396.57 239.63h2.0l-1.0 1.6z M397.97 240.03h2.0l-1.0 1.6z M400.14 239.77h2.0l-1.0 1.6z M401.67 240.00h2.0l-1.0 1.6z M403.22 239.56h2.0l-1.0 1.6z M405.04 239.52h2.0l-1.0 1.6z M406.76 239.75h2.0l-1.0 1.6z M394.46 241.30h2.0l-1.0 1.6z M396.70 241.08h2.0l-1.0 1.6z M401.32 241.14h2.0l-1.0 1.6z M403.35 240.87h2.0l-1.0 1.6z M405.32 241.03h2.0l-1.0 1.6z M392.89 242.24h2.0l-1.0 1.6z M399.57 242.57h2.0l-1.0 1.6z M403.33 242.60h2.0l-1.0 1.6z M404.90 242.38h2.0l-1.0 1.6z M406.23 242.37h2.0l-1.0 1.6z M392.08 243.94h2.0l-1.0 1.6z M395.29 243.75h2.0l-1.0 1.6z M397.46 244.09h2.0l-1.0 1.6z M398.80 243.88h2.0l-1.0 1.6z M400.75 243.70h2.0l-1.0 1.6z M402.21 243.59h2.0l-1.0 1.6z M403.82 243.60h2.0l-1.0 1.6z M405.74 244.03h2.0l-1.0 1.6z M407.94 243.64h2.0l-1.0 1.6z M393.14 245.47h2.0l-1.0 1.6z M395.28 245.49h2.0l-1.0 1.6z M397.90 245.21h2.0l-1.0 1.6z M401.70 244.99h2.0l-1.0 1.6z M404.39 245.44h2.0l-1.0 1.6z M394.17 246.36h2.0l-1.0 1.6z M395.40 246.68h2.0l-1.0 1.6z M397.13 246.29h2.0l-1.0 1.6z M402.31 246.76h2.0l-1.0 1.6z M403.84 246.45h2.0l-1.0 1.6z M405.20 246.64h2.0l-1.0 1.6z M407.29 246.29h2.0l-1.0 1.6z M393.70 247.76h2.0l-1.0 1.6z M397.24 247.97h2.0l-1.0 1.6z M398.58 247.92h2.0l-1.0 1.6z M400.75 247.86h2.0l-1.0 1.6z M402.47 247.74h2.0l-1.0 1.6z M403.93 247.74h2.0l-1.0 1.6z M405.65 248.14h2.0l-1.0 1.6z M392.28 248.98h2.0l-1.0 1.6z M393.87 249.48h2.0l-1.0 1.6z M395.77 249.48h2.0l-1.0 1.6z M397.41 249.46h2.0l-1.0 1.6z M399.11 249.39h2.0l-1.0 1.6z M400.93 249.49h2.0l-1.0 1.6z M403.78 249.10h2.0l-1.0 1.6z M405.79 249.40h2.0l-1.0 1.6z M407.58 249.38h2.0l-1.0 1.6z M393.58 250.74h2.0l-1.0 1.6z M395.93 250.78h2.0l-1.0 1.6z M397.06 250.85h2.0l-1.0 1.6z M400.87 250.81h2.0l-1.0 1.6z M402.51 250.57h2.0l-1.0 1.6z M395.35 251.85h2.0l-1.0 1.6z M397.62 252.23h2.0l-1.0 1.6z M399.04 251.89h2.0l-1.0 1.6z M400.47 251.80h2.0l-1.0 1.6z M401.91 251.76h2.0l-1.0 1.6z M403.60 252.03h2.0l-1.0 1.6z M405.92 251.77h2.0l-1.0 1.6z M394.94 253.35h2.0l-1.0 1.6z M396.83 253.47h2.0l-1.0 1.6z M401.35 253.51h2.0l-1.0 1.6z M402.97 253.23h2.0l-1.0 1.6z M404.16 253.48h2.0l-1.0 1.6z M396.56 254.93h2.0l-1.0 1.6z M398.54 254.43h2.0l-1.0 1.6z M399.86 254.54h2.0l-1.0 1.6z M401.32 254.67h2.0l-1.0 1.6z M403.03 254.62h2.0l-1.0 1.6z M397.48 256.11h2.0l-1.0 1.6z M399.07 255.93h2.0l-1.0 1.6z M400.25 255.87h2.0l-1.0 1.6z M402.66 256.20h2.0l-1.0 1.6z M399.22 257.30h2.0l-1.0 1.6z M401.04 257.23h2.0l-1.0 1.6z M402.45 257.37h2.0l-1.0 1.6z M397.41 258.66h2.0l-1.0 1.6z M399.32 258.75h2.0l-1.0 1.6z M400.88 258.85h2.0l-1.0 1.6z M402.29 258.78h2.0l-1.0 1.6z M397.22 260.13h2.0l-1.0 1.6z M399.32 260.22h2.0l-1.0 1.6z M402.55 260.11h2.0l-1.0 1.6z M397.97 261.62h2.0l-1.0 1.6z M398.86 261.60h2.0l-1.0 1.6z M400.44 261.13h2.0l-1.0 1.6z M402.00 261.35h2.0l-1.0 1.6z M398.07 262.75h2.0l-1.0 1.6z M401.06 262.86h2.0l-1.0 1.6z M398.81 264.33h2.0l-1.0 1.6z M400.21 264.30h2.0l-1.0 1.6z" fill="#4d6aa8"/>
<path d="M450.49 208.10h2.0l-1.0 1.6z M452.14 208.45h2.0l-1.0 1.6z M450.71 209.75h2.0l-1.0 1.6z M452.12 209.64h2.0l-1.0 1.6z M450.76 211.02h2.0l-1.0 1.6z M451.70 210.77h2.0l-1.0 1.6z M453.28 210.98h2.0l-1.0 1.6z M448.42 212.24h2.0l-1.0 1.6z M449.75 212.18h2.0l-1.0 1.6z M451.80 212.50h2.0l-1.0 1.6z M453.23 212.58h2.0l-1.0 1.6z M454.75 212.56h2.0l-1.0 1.6z M448.23 214.03h2.0l-1.0 1.6z M449.47 213.88h2.0l-1.0 1.6z M450.71 213.74h2.0l-1.0 1.6z M452.11 213.95h2.0l-1.0 1.6z M453.84 213.99h2.0l-1.0 1.6z M455.00 214.00h2.0l-1.0 1.6z M447.68 214.99h2.0l-1.0 1.6z M449.04 215.34h2.0l-1.0 1.6z M451.03 214.99h2.0l-1.0 1.6z M453.50 215.11h2.0l-1.0 1.6z M454.96 214.99h2.0l-1.0 1.6z M449.05 216.52h2.0l-1.0 1.6z M450.31 216.59h2.0l-1.0 1.6z M451.15 216.60h2.0l-1.0 1.6z M452.87 216.31h2.0l-1.0 1.6z M454.40 216.21h2.0l-1.0 1.6z M447.32 217.63h2.0l-1.0 1.6z M449.01 217.93h2.0l-1.0 1.6z M450.51 217.60h2.0l-1.0 1.6z M451.84 218.07h2.0l-1.0 1.6z M453.91 217.51h2.0l-1.0 1.6z M455.53 217.59h2.0l-1.0 1.6z M447.36 218.88h2.0l-1.0 1.6z M450.24 219.06h2.0l-1.0 1.6z M452.38 218.92h2.0l-1.0 1.6z M453.39 219.12h2.0l-1.0 1.6z M455.54 219.39h2.0l-1.0 1.6z M445.45 220.48h2.0l-1.0 1.6z M446.94 220.39h2.0l-1.0 1.6z M448.30 220.72h2.0l-1.0 1.6z M449.94 220.44h2.0l-1.0 1.6z M451.12 220.78h2.0l-1.0 1.6z M453.01 220.45h2.0l-1.0 1.6z M454.50 220.28h2.0l-1.0 1.6z M455.61 220.30h2.0l-1.0 1.6z M457.63 220.50h2.0l-1.0 1.6z M444.65 221.69h2.0l-1.0 1.6z M445.65 221.90h2.0l-1.0 1.6z M447.67 221.98h2.0l-1.0 1.6z M448.96 221.87h2.0l-1.0 1.6z M450.23 221.80h2.0l-1.0 1.6z M452.37 221.69h2.0l-1.0 1.6z M453.53 221.69h2.0l-1.0 1.6z M455.38 221.83h2.0l-1.0 1.6z M457.07 221.68h2.0l-1.0 1.6z M458.91 221.99h2.0l-1.0 1.6z M445.49 222.93h2.0l-1.0 1.6z M446.94 223.01h2.0l-1.0 1.6z M448.65 223.12h2.0l-1.0 1.6z M450.24 223.27h2.0l-1.0 1.6z M451.79 223.12h2.0l-1.0 1.6z M453.04 222.96h2.0l-1.0 1.6z M454.66 223.30h2.0l-1.0 1.6z M455.84 223.15h2.0l-1.0 1.6z M457.14 223.25h2.0l-1.0 1.6z M446.10 224.81h2.0l-1.0 1.6z M447.89 224.37h2.0l-1.0 1.6z M449.09 224.53h2.0l-1.0 1.6z M450.57 224.32h2.0l-1.0 1.6z M451.81 224.76h2.0l-1.0 1.6z M453.99 224.67h2.0l-1.0 1.6z M455.24 224.72h2.0l-1.0 1.6z M456.59 224.46h2.0l-1.0 1.6z M444.47 225.92h2.0l-1.0 1.6z M446.52 226.08h2.0l-1.0 1.6z M447.92 225.78h2.0l-1.0 1.6z M449.14 225.76h2.0l-1.0 1.6z M450.79 226.15h2.0l-1.0 1.6z M452.40 225.66h2.0l-1.0 1.6z M454.05 225.69h2.0l-1.0 1.6z M454.80 225.65h2.0l-1.0 1.6z M457.04 225.99h2.0l-1.0 1.6z M457.98 225.74h2.0l-1.0 1.6z M443.89 227.26h2.0l-1.0 1.6z M445.47 227.52h2.0l-1.0 1.6z M446.60 227.26h2.0l-1.0 1.6z M448.22 227.49h2.0l-1.0 1.6z M450.07 227.19h2.0l-1.0 1.6z M452.95 227.04h2.0l-1.0 1.6z M454.01 227.31h2.0l-1.0 1.6z M455.62 227.26h2.0l-1.0 1.6z M457.29 227.38h2.0l-1.0 1.6z M459.02 227.23h2.0l-1.0 1.6z M443.19 228.70h2.0l-1.0 1.6z M444.80 228.43h2.0l-1.0 1.6z M445.97 228.70h2.0l-1.0 1.6z M448.72 228.58h2.0l-1.0 1.6z M450.94 228.69h2.0l-1.0 1.6z M451.78 228.87h2.0l-1.0 1.6z M453.78 228.84h2.0l-1.0 1.6z M454.90 228.79h2.0l-1.0 1.6z M456.51 228.75h2.0l-1.0 1.6z M458.03 228.78h2.0l-1.0 1.6z M459.90 228.56h2.0l-1.0 1.6z M445.31 229.77h2.0l-1.0 1.6z M447.97 229.94h2.0l-1.0 1.6z M450.01 230.10h2.0l-1.0 1.6z M451.54 229.85h2.0l-1.0 1.6z M452.92 229.67h2.0l-1.0 1.6z M454.63 229.75h2.0l-1.0 1.6z M456.17 229.89h2.0l-1.0 1.6z M457.69 230.17h2.0l-1.0 1.6z M445.60 231.28h2.0l-1.0 1.6z M446.73 231.33h2.0l-1.0 1.6z M450.00 231.23h2.0l-1.0 1.6z M451.70 231.19h2.0l-1.0 1.6z M452.81 231.32h2.0l-1.0 1.6z M453.92 231.49h2.0l-1.0 1.6z M455.80 231.48h2.0l-1.0 1.6z M457.02 231.50h2.0l-1.0 1.6z M445.81 232.67h2.0l-1.0 1.6z M447.71 232.73h2.0l-1.0 1.6z M448.83 232.62h2.0l-1.0 1.6z M450.44 232.92h2.0l-1.0 1.6z M452.44 232.58h2.0l-1.0 1.6z M453.61 232.40h2.0l-1.0 1.6z M455.06 232.62h2.0l-1.0 1.6z M457.21 232.90h2.0l-1.0 1.6z M445.09 233.90h2.0l-1.0 1.6z M446.01 233.81h2.0l-1.0 1.6z M447.60 233.91h2.0l-1.0 1.6z M448.97 234.19h2.0l-1.0 1.6z M450.58 234.19h2.0l-1.0 1.6z M452.44 234.26h2.0l-1.0 1.6z M453.77 234.27h2.0l-1.0 1.6z M455.30 234.22h2.0l-1.0 1.6z M456.78 234.29h2.0l-1.0 1.6z M458.16 234.10h2.0l-1.0 1.6z M444.85 235.62h2.0l-1.0 1.6z M446.67 235.59h2.0l-1.0 1.6z M448.63 235.13h2.0l-1.0 1.6z M449.71 235.27h2.0l-1.0 1.6z M451.71 235.51h2.0l-1.0 1.6z M453.01 235.19h2.0l-1.0 1.6z M454.46 235.22h2.0l-1.0 1.6z M455.84 235.24h2.0l-1.0 1.6z M457.36 235.14h2.0l-1.0 1.6z M445.59 236.55h2.0l-1.0 1.6z M446.89 236.54h2.0l-1.0 1.6z M448.39 236.62h2.0l-1.0 1.6z M449.61 236.49h2.0l-1.0 1.6z M451.34 236.87h2.0l-1.0 1.6z M452.86 236.91h2.0l-1.0 1.6z M454.49 236.77h2.0l-1.0 1.6z M456.11 236.64h2.0l-1.0 1.6z M457.24 236.59h2.0l-1.0 1.6z M443.82 238.07h2.0l-1.0 1.6z M448.30 238.00h2.0l-1.0 1.6z M449.51 237.81h2.0l-1.0 1.6z M453.28 238.16h2.0l-1.0 1.6z M454.12 237.93h2.0l-1.0 1.6z M455.60 237.81h2.0l-1.0 1.6z M457.26 237.84h2.0l-1.0 1.6z M458.72 238.33h2.0l-1.0 1.6z M444.73 239.24h2.0l-1.0 1.6z M446.01 239.18h2.0l-1.0 1.6z M447.17 239.22h2.0l-1.0 1.6z M449.33 239.41h2.0l-1.0 1.6z M450.92 239.18h2.0l-1.0 1.6z M451.88 239.17h2.0l-1.0 1.6z M453.50 239.13h2.0l-1.0 1.6z M455.19 239.47h2.0l-1.0 1.6z M457.16 239.53h2.0l-1.0 1.6z M458.72 239.20h2.0l-1.0 1.6z M446.13 240.58h2.0l-1.0 1.6z M447.40 240.71h2.0l-1.0 1.6z M449.02 240.93h2.0l-1.0 1.6z M450.68 240.73h2.0l-1.0 1.6z M452.38 241.04h2.0l-1.0 1.6z M453.87 240.87h2.0l-1.0 1.6z M454.86 240.78h2.0l-1.0 1.6z M456.53 240.80h2.0l-1.0 1.6z M444.31 242.22h2.0l-1.0 1.6z M445.21 242.26h2.0l-1.0 1.6z M447.30 242.16h2.0l-1.0 1.6z M448.24 241.87h2.0l-1.0 1.6z M449.98 241.91h2.0l-1.0 1.6z M454.28 241.98h2.0l-1.0 1.6z M456.03 242.22h2.0l-1.0 1.6z M457.55 242.14h2.0l-1.0 1.6z M458.61 242.23h2.0l-1.0 1.6z M444.49 243.57h2.0l-1.0 1.6z M446.59 243.28h2.0l-1.0 1.6z M447.76 243.39h2.0l-1.0 1.6z M449.54 243.27h2.0l-1.0 1.6z M450.82 243.62h2.0l-1.0 1.6z M452.10 243.36h2.0l-1.0 1.6z M453.41 243.26h2.0l-1.0 1.6z M454.83 243.43h2.0l-1.0 1.6z M456.39 243.25h2.0l-1.0 1.6z M458.30 243.28h2.0l-1.0 1.6z M445.62 244.91h2.0l-1.0 1.6z M446.60 245.00h2.0l-1.0 1.6z M447.97 245.02h2.0l-1.0 1.6z M449.73 244.69h2.0l-1.0 1.6z M451.58 244.71h2.0l-1.0 1.6z M452.86 245.00h2.0l-1.0 1.6z M454.51 244.58h2.0l-1.0 1.6z M456.05 244.73h2.0l-1.0 1.6z M457.55 245.05h2.0l-1.0 1.6z M446.49 246.40h2.0l-1.0 1.6z M447.56 246.43h2.0l-1.0 1.6z M448.95 246.27h2.0l-1.0 1.6z M450.74 246.27h2.0l-1.0 1.6z M451.92 245.98h2.0l-1.0 1.6z M453.74 245.93h2.0l-1.0 1.6z M454.99 246.11h2.0l-1.0 1.6z M447.68 247.33h2.0l-1.0 1.6z M449.25 247.69h2.0l-1.0 1.6z M451.03 247.60h2.0l-1.0 1.6z M452.29 247.44h2.0l-1.0 1.6z M453.26 247.51h2.0l-1.0 1.6z M455.25 247.55h2.0l-1.0 1.6z M447.99 248.56h2.0l-1.0 1.6z M449.51 248.64h2.0l-1.0 1.6z M451.43 248.92h2.0l-1.0 1.6z M453.35 248.61h2.0l-1.0 1.6z M454.26 248.95h2.0l-1.0 1.6z M449.24 250.30h2.0l-1.0 1.6z M451.09 250.11h2.0l-1.0 1.6z M452.41 250.26h2.0l-1.0 1.6z M453.63 250.12h2.0l-1.0 1.6z M450.18 251.79h2.0l-1.0 1.6z M451.77 251.27h2.0l-1.0 1.6z M453.14 251.25h2.0l-1.0 1.6z M452.46 252.65h2.0l-1.0 1.6z M450.83 254.20h2.0l-1.0 1.6z M451.64 253.98h2.0l-1.0 1.6z" fill="#2f4f8c"/>
<line x1="391.8" y1="242.6" x2="409.8" y2="242.6" stroke="#1f3c78" stroke-width="1.0"/>
<line x1="400.8" y1="229.1" x2="400.8" y2="254.7" stroke="#1f3c78" stroke-width="0.8"/>
<line x1="396.3" y1="229.1" x2="405.3" y2="229.1" stroke="#1f3c78" stroke-width="0.8"/>
<line x1="396.3" y1="254.7" x2="405.3" y2="254.7" stroke="#1f3c78" stroke-width="0.8"/>
<line x1="443.4" y1="233.8" x2="461.4" y2="233.8" stroke="#1f3c78" stroke-width="1.0"/>
<line x1="452.4" y1="221.2" x2="452.4" y2="244.1" stroke="#1f3c78" stroke-width="0.8"/>
<line x1="447.4" y1="221.2" x2="457.4" y2="221.2" stroke="#1f3c78" stroke-width="0.8"/>
<line x1="447.4" y1="244.1" x2="457.4" y2="244.1" stroke="#1f3c78" stroke-width="0.8"/>
<path d="M427.00 217.40 h3.6 l-1.8 2.9z" fill="#b0002a"/>
<path d="M422.40 225.60 h3.6 l-1.8 2.9z" fill="#b0002a"/>
<path d="M422.40 233.70 h3.6 l-1.8 2.9z" fill="#b0002a"/>
<path d="M427.00 233.70 h3.6 l-1.8 2.9z" fill="#b0002a"/>
<path d="M422.40 237.80 h3.6 l-1.8 2.9z" fill="#b0002a"/>
<path d="M418.30 245.20 h3.6 l-1.8 2.9z" fill="#b0002a"/>
<path d="M422.40 243.80 h3.6 l-1.8 2.9z" fill="#b0002a"/>
<path d="M427.00 243.80 h3.6 l-1.8 2.9z" fill="#b0002a"/>
<path d="M431.90 244.40 h3.6 l-1.8 2.9z" fill="#b0002a"/>
<path d="M424.70 239.60 h3.6 l-1.8 2.9z" fill="#b0002a"/>
<line x1="418.5" y1="237.9" x2="434.9" y2="237.9" stroke="#b0002a" stroke-width="1.4"/>
<line x1="426.7" y1="228.1" x2="426.7" y2="247.4" stroke="#b0002a" stroke-width="1.2"/>
<line x1="422.3" y1="228.1" x2="431.09999999999997" y2="228.1" stroke="#b0002a" stroke-width="1.2"/>
<line x1="422.3" y1="247.4" x2="431.09999999999997" y2="247.4" stroke="#b0002a" stroke-width="1.2"/>
<rect x="476.85" y="201.35" width="3.3" height="3.3" fill="#b0002a"/>
<rect x="483.75" y="206.75" width="3.3" height="3.3" fill="#b0002a"/>
<rect x="476.85" y="208.35" width="3.3" height="3.3" fill="#b0002a"/>
<rect x="469.85" y="219.35" width="3.3" height="3.3" fill="#b0002a"/>
<rect x="483.75" y="219.35" width="3.3" height="3.3" fill="#b0002a"/>
<rect x="476.85" y="226.85" width="3.3" height="3.3" fill="#b0002a"/>
<rect x="476.85" y="232.55" width="3.3" height="3.3" fill="#b0002a"/>
<rect x="476.85" y="241.85" width="3.3" height="3.3" fill="#b0002a"/>
<line x1="470.0" y1="221" x2="487.0" y2="221" stroke="#b0002a" stroke-width="1.4"/>
<line x1="478.5" y1="208.4" x2="478.5" y2="234.2" stroke="#b0002a" stroke-width="1.2"/>
<line x1="474.3" y1="208.4" x2="482.7" y2="208.4" stroke="#b0002a" stroke-width="1.2"/>
<line x1="474.3" y1="234.2" x2="482.7" y2="234.2" stroke="#b0002a" stroke-width="1.2"/>
<text x="18.60" y="342.20" font-size="9.3" fill="#1a1a1a" stroke="#1a1a1a" stroke-width="0.12" textLength="23.00" lengthAdjust="spacingAndGlyphs">CD34</text>
<text x="41.60" y="338.57" font-size="6.696000000000001" fill="#1a1a1a" stroke="#1a1a1a" stroke-width="0.12" textLength="3.78" lengthAdjust="spacingAndGlyphs">+</text>
<text x="45.39" y="342.20" font-size="9.3" fill="#1a1a1a" stroke="#1a1a1a" stroke-width="0.12" textLength="99.51" lengthAdjust="spacingAndGlyphs">&#160;Cells&#160;Cohort&#160;1&#160;(Canada)</text>
<line x1="27.5" y1="344.90000000000003" x2="27.5" y2="524.2" stroke="#bdbdbd" stroke-width="0.9"/>
<line x1="137" y1="344.90000000000003" x2="137" y2="524.2" stroke="#bdbdbd" stroke-width="0.9"/>
<line x1="27.1" y1="345.3" x2="137.4" y2="345.3" stroke="#a8a8a8" stroke-width="1.0"/>
<path d="M27.5 367.5 L28.5 366.5 L29.8 366.6 L31.7 366.4 L33.9 366.3 L36.1 366.2 L38.0 366.1 L39.6 366.2 L41.1 366.2 L42.5 366.3 L43.8 366.3 L45.2 365.8 L46.6 365.3 L48.0 363.8 L49.4 362.6 L50.7 361.6 L51.9 360.3 L53.0 358.6 L54.1 357.3 L55.1 355.6 L56.1 354.1 L57.0 352.6 L57.9 351.2 L58.8 349.7 L59.7 349.0 L60.5 347.8 L61.3 347.6 L62.1 347.4 L62.8 347.8 L63.5 348.8 L64.2 349.5 L65.0 350.7 L65.8 351.9 L66.7 353.1 L67.7 354.4 L68.6 356.0 L69.4 357.7 L70.2 358.8 L70.9 360.3 L71.6 362.1 L72.3 363.4 L73.0 364.4 L73.7 365.2 L74.4 366.2 L75.0 366.6 L75.6 366.9 L76.0 367.3 L76.0 367.5 Z" fill="#e77a7a" fill-opacity="0.3"/>
<line x1="27.5" y1="367.5" x2="137" y2="367.5" stroke="#ddb8b8" stroke-width="1.0"/>
<path d="M28.3 367.5 L28.3 355.5 M28.3 366.0 L28.50 366.50" fill="none" stroke="#e98d8d" stroke-width="1.7" stroke-linejoin="round"/>
<path d="M28.5 366.5 L29.8 366.6 L31.7 366.4 L33.9 366.3 L36.1 366.2 L38.0 366.1 L39.6 366.2 L41.1 366.2 L42.5 366.3 L43.8 366.3 L45.2 365.8 L46.6 365.3 L48.0 363.8 L49.4 362.6 L50.7 361.6 L51.9 360.3 L53.0 358.6 L54.1 357.3 L55.1 355.6 L56.1 354.1 L57.0 352.6 L57.9 351.2 L58.8 349.7 L59.7 349.0 L60.5 347.8 L61.3 347.6 L62.1 347.4 L62.8 347.8 L63.5 348.8 L64.2 349.5 L65.0 350.7 L65.8 351.9 L66.7 353.1 L67.7 354.4 L68.6 356.0 L69.4 357.7 L70.2 358.8 L70.9 360.3 L71.6 362.1 L72.3 363.4 L73.0 364.4 L73.7 365.2 L74.4 366.2 L75.0 366.6 L75.6 366.9 L76.0 367.3" fill="none" stroke="#e98d8d" stroke-width="0.72" stroke-linejoin="round"/>
<path d="M28.5 366.5 L29.8 366.6 M29.8 366.6 L31.7 366.4 M31.7 366.4 L33.9 366.3 M33.9 366.3 L36.1 366.2 M36.1 366.2 L38.0 366.1 M38.0 366.1 L39.6 366.2 M39.6 366.2 L41.1 366.2 M41.1 366.2 L42.5 366.3 M42.5 366.3 L43.8 366.3 M43.8 366.3 L45.2 365.8 M45.2 365.8 L46.6 365.3 L48.0 363.8 L49.4 362.6 L50.7 361.6 L51.9 360.3 L53.0 358.6 L54.1 357.3 L55.1 355.6 L56.1 354.1 L57.0 352.6 L57.9 351.2 L58.8 349.7 L59.7 349.0 L60.5 347.8 L61.3 347.6 L62.1 347.4 L62.8 347.8 L63.5 348.8 L64.2 349.5 L65.0 350.7 L65.8 351.9 L66.7 353.1 L67.7 354.4 L68.6 356.0 L69.4 357.7 L70.2 358.8 L70.9 360.3 L71.6 362.1 L72.3 363.4 L73.0 364.4 L73.7 365.2 L74.4 366.2 M74.4 366.2 L75.0 366.6 M75.0 366.6 L75.6 366.9 M75.6 366.9 L76.0 367.3" fill="none" stroke="#e98d8d" stroke-width="1.2" stroke-linejoin="round" stroke-linecap="round"/>
<path d="M27.5 379.5 L29.0 378.5 L30.3 378.5 L32.0 378.6 L34.1 378.4 L36.2 378.4 L38.0 378.5 L39.6 378.4 L41.0 378.5 L42.4 378.4 L43.8 378.3 L45.2 377.9 L46.6 377.8 L48.1 377.1 L49.5 377.1 L50.8 376.5 L52.0 376.0 L53.1 375.1 L54.1 374.6 L55.0 373.9 L55.8 373.2 L56.6 372.2 L57.2 371.5 L57.7 370.6 L58.2 369.5 L58.7 368.6 L59.3 367.8 L60.1 366.5 L61.1 365.7 L62.2 364.8 L63.2 364.0 L64.0 363.6 L64.6 363.0 L65.2 362.5 L65.6 362.2 L66.1 361.9 L66.7 362.2 L67.4 362.3 L68.3 362.7 L69.2 363.4 L70.0 364.3 L70.8 364.8 L71.5 366.1 L72.1 367.0 L72.7 368.4 L73.3 369.8 L74.0 371.2 L74.8 372.9 L75.8 374.7 L76.8 376.3 L77.6 378.0 L78.2 379.2 L78.2 379.5 Z" fill="#e77a7a" fill-opacity="0.3"/>
<line x1="27.5" y1="379.5" x2="137" y2="379.5" stroke="#daa6a6" stroke-width="1.0"/>
<path d="M28.3 379.5 L28.3 376 M28.3 378.0 L29.00 378.50" fill="none" stroke="#e26060" stroke-width="1.7" stroke-linejoin="round"/>
<path d="M29.0 378.5 L30.3 378.5 L32.0 378.6 L34.1 378.4 L36.2 378.4 L38.0 378.5 L39.6 378.4 L41.0 378.5 L42.4 378.4 L43.8 378.3 L45.2 377.9 L46.6 377.8 L48.1 377.1 L49.5 377.1 L50.8 376.5 L52.0 376.0 L53.1 375.1 L54.1 374.6 L55.0 373.9 L55.8 373.2 L56.6 372.2 L57.2 371.5 L57.7 370.6 L58.2 369.5 L58.7 368.6 L59.3 367.8 L60.1 366.5 L61.1 365.7 L62.2 364.8 L63.2 364.0 L64.0 363.6 L64.6 363.0 L65.2 362.5 L65.6 362.2 L66.1 361.9 L66.7 362.2 L67.4 362.3 L68.3 362.7 L69.2 363.4 L70.0 364.3 L70.8 364.8 L71.5 366.1 L72.1 367.0 L72.7 368.4 L73.3 369.8 L74.0 371.2 L74.8 372.9 L75.8 374.7 L76.8 376.3 L77.6 378.0 L78.2 379.2" fill="none" stroke="#e26060" stroke-width="0.84" stroke-linejoin="round"/>
<path d="M29.0 378.5 L30.3 378.5 M30.3 378.5 L32.0 378.6 M32.0 378.6 L34.1 378.4 M34.1 378.4 L36.2 378.4 M36.2 378.4 L38.0 378.5 M38.0 378.5 L39.6 378.4 M39.6 378.4 L41.0 378.5 M41.0 378.5 L42.4 378.4 M42.4 378.4 L43.8 378.3 M43.8 378.3 L45.2 377.9 M45.2 377.9 L46.6 377.8 M46.6 377.8 L48.1 377.1 L49.5 377.1 L50.8 376.5 L52.0 376.0 L53.1 375.1 L54.1 374.6 L55.0 373.9 L55.8 373.2 L56.6 372.2 L57.2 371.5 L57.7 370.6 L58.2 369.5 L58.7 368.6 L59.3 367.8 L60.1 366.5 L61.1 365.7 L62.2 364.8 L63.2 364.0 L64.0 363.6 L64.6 363.0 L65.2 362.5 L65.6 362.2 L66.1 361.9 L66.7 362.2 L67.4 362.3 L68.3 362.7 L69.2 363.4 L70.0 364.3 L70.8 364.8 L71.5 366.1 L72.1 367.0 L72.7 368.4 L73.3 369.8 L74.0 371.2 L74.8 372.9 L75.8 374.7 L76.8 376.3 L77.6 378.0 M77.6 378.0 L78.2 379.2" fill="none" stroke="#e26060" stroke-width="1.4" stroke-linejoin="round" stroke-linecap="round"/>
<path d="M27.5 391.4 L29.0 388.0 L29.5 388.2 L30.3 388.0 L31.1 388.2 L32.1 387.8 L33.0 387.7 L33.9 387.6 L34.9 387.2 L35.9 386.8 L36.9 386.7 L38.0 386.0 L39.1 385.5 L40.3 385.0 L41.6 384.3 L42.7 383.7 L43.8 383.2 L44.7 382.3 L45.6 381.3 L46.4 379.9 L47.2 378.9 L48.0 377.9 L48.8 377.1 L49.6 376.2 L50.4 375.5 L51.2 374.7 L51.9 374.5 L52.5 374.2 L53.0 374.4 L53.5 374.7 L54.0 375.4 L54.5 376.0 L55.0 376.4 L55.6 376.7 L56.1 377.4 L56.7 378.0 L57.3 379.0 L57.9 380.1 L58.5 381.0 L59.2 382.6 L59.8 383.9 L60.5 385.0 L61.2 386.2 L62.0 387.6 L62.8 388.9 L63.5 390.0 L64.0 390.8 L64.0 391.4 Z" fill="#e77a7a" fill-opacity="0.3"/>
<line x1="27.5" y1="391.5" x2="137" y2="391.5" stroke="#d58686" stroke-width="1.0"/>
<path d="M28.3 391.4 L28.3 382.4 M28.3 389.9 L29.00 388.00" fill="none" stroke="#d41010" stroke-width="1.7" stroke-linejoin="round"/>
<path d="M29.0 388.0 L29.5 388.2 L30.3 388.0 L31.1 388.2 L32.1 387.8 L33.0 387.7 L33.9 387.6 L34.9 387.2 L35.9 386.8 L36.9 386.7 L38.0 386.0 L39.1 385.5 L40.3 385.0 L41.6 384.3 L42.7 383.7 L43.8 383.2 L44.7 382.3 L45.6 381.3 L46.4 379.9 L47.2 378.9 L48.0 377.9 L48.8 377.1 L49.6 376.2 L50.4 375.5 L51.2 374.7 L51.9 374.5 L52.5 374.2 L53.0 374.4 L53.5 374.7 L54.0 375.4 L54.5 376.0 L55.0 376.4 L55.6 376.7 L56.1 377.4 L56.7 378.0 L57.3 379.0 L57.9 380.1 L58.5 381.0 L59.2 382.6 L59.8 383.9 L60.5 385.0 L61.2 386.2 L62.0 387.6 L62.8 388.9 L63.5 390.0 L64.0 390.8" fill="none" stroke="#d41010" stroke-width="1.02" stroke-linejoin="round"/>
<path d="M29.0 388.0 L29.5 388.2 L30.3 388.0 L31.1 388.2 L32.1 387.8 L33.0 387.7 L33.9 387.6 L34.9 387.2 L35.9 386.8 L36.9 386.7 L38.0 386.0 L39.1 385.5 L40.3 385.0 L41.6 384.3 L42.7 383.7 L43.8 383.2 L44.7 382.3 L45.6 381.3 L46.4 379.9 L47.2 378.9 L48.0 377.9 L48.8 377.1 L49.6 376.2 L50.4 375.5 L51.2 374.7 L51.9 374.5 L52.5 374.2 L53.0 374.4 L53.5 374.7 L54.0 375.4 L54.5 376.0 L55.0 376.4 L55.6 376.7 L56.1 377.4 L56.7 378.0 L57.3 379.0 L57.9 380.1 L58.5 381.0 L59.2 382.6 L59.8 383.9 L60.5 385.0 L61.2 386.2 L62.0 387.6 L62.8 388.9 L63.5 390.0 M63.5 390.0 L64.0 390.8" fill="none" stroke="#d41010" stroke-width="1.7" stroke-linejoin="round" stroke-linecap="round"/>
<path d="M27.5 403.2 L29.0 400.0 L29.5 399.5 L30.3 399.5 L31.1 398.9 L32.1 398.4 L33.0 398.0 L33.9 397.3 L35.0 396.1 L36.0 395.3 L37.0 394.1 L38.0 392.8 L38.9 391.9 L39.9 391.3 L40.8 390.4 L41.7 389.5 L42.5 388.3 L43.3 388.0 L44.0 387.1 L44.6 386.5 L45.3 385.8 L46.0 385.0 L46.8 384.6 L47.6 383.8 L48.4 383.1 L49.1 382.8 L49.9 382.8 L50.6 382.8 L51.3 383.4 L52.0 383.8 L52.7 384.8 L53.3 385.6 L53.9 386.4 L54.4 387.2 L55.0 388.5 L55.5 389.8 L56.0 391.1 L56.5 392.4 L57.0 393.7 L57.5 394.7 L58.1 396.1 L58.6 397.3 L59.2 398.7 L59.9 399.9 L60.5 401.2 L61.1 402.1 L61.5 402.8 L61.5 403.2 Z" fill="#e77a7a" fill-opacity="0.3"/>
<line x1="27.5" y1="403.5" x2="137" y2="403.5" stroke="#c68282" stroke-width="1.0"/>
<path d="M28.3 403.2 L28.3 394 M28.3 401.7 L29.00 400.00" fill="none" stroke="#b00606" stroke-width="1.7" stroke-linejoin="round"/>
<path d="M29.0 400.0 L29.5 399.5 L30.3 399.5 L31.1 398.9 L32.1 398.4 L33.0 398.0 L33.9 397.3 L35.0 396.1 L36.0 395.3 L37.0 394.1 L38.0 392.8 L38.9 391.9 L39.9 391.3 L40.8 390.4 L41.7 389.5 L42.5 388.3 L43.3 388.0 L44.0 387.1 L44.6 386.5 L45.3 385.8 L46.0 385.0 L46.8 384.6 L47.6 383.8 L48.4 383.1 L49.1 382.8 L49.9 382.8 L50.6 382.8 L51.3 383.4 L52.0 383.8 L52.7 384.8 L53.3 385.6 L53.9 386.4 L54.4 387.2 L55.0 388.5 L55.5 389.8 L56.0 391.1 L56.5 392.4 L57.0 393.7 L57.5 394.7 L58.1 396.1 L58.6 397.3 L59.2 398.7 L59.9 399.9 L60.5 401.2 L61.1 402.1 L61.5 402.8" fill="none" stroke="#b00606" stroke-width="1.02" stroke-linejoin="round"/>
<path d="M29.0 400.0 L29.5 399.5 L30.3 399.5 L31.1 398.9 L32.1 398.4 L33.0 398.0 L33.9 397.3 L35.0 396.1 L36.0 395.3 L37.0 394.1 L38.0 392.8 L38.9 391.9 L39.9 391.3 L40.8 390.4 L41.7 389.5 L42.5 388.3 L43.3 388.0 L44.0 387.1 L44.6 386.5 L45.3 385.8 L46.0 385.0 L46.8 384.6 L47.6 383.8 L48.4 383.1 L49.1 382.8 L49.9 382.8 L50.6 382.8 L51.3 383.4 L52.0 383.8 L52.7 384.8 L53.3 385.6 L53.9 386.4 L54.4 387.2 L55.0 388.5 L55.5 389.8 L56.0 391.1 L56.5 392.4 L57.0 393.7 L57.5 394.7 L58.1 396.1 L58.6 397.3 L59.2 398.7 L59.9 399.9 L60.5 401.2 M60.5 401.2 L61.1 402.1 M61.1 402.1 L61.5 402.8" fill="none" stroke="#b00606" stroke-width="1.7" stroke-linejoin="round" stroke-linecap="round"/>
<path d="M27.5 415.2 L29.0 413.5 L30.3 413.2 L32.3 413.2 L34.5 413.1 L36.6 413.1 L38.5 412.8 L40.0 412.3 L41.3 411.8 L42.5 411.8 L43.7 411.2 L45.0 410.3 L46.4 410.1 L47.9 409.3 L49.3 408.8 L50.7 408.0 L51.9 407.1 L52.9 406.5 L53.7 405.7 L54.5 404.8 L55.2 403.8 L56.0 402.9 L56.9 402.3 L57.9 401.5 L58.9 400.7 L59.9 400.1 L60.7 399.4 L61.4 398.3 L61.9 397.7 L62.4 396.6 L62.9 395.8 L63.4 395.2 L63.9 395.3 L64.5 395.1 L65.0 395.0 L65.5 395.4 L66.0 395.3 L66.4 395.7 L66.8 395.5 L67.2 396.0 L67.6 396.1 L68.1 396.8 L68.8 398.3 L69.5 400.1 L70.4 401.9 L71.2 403.9 L72.0 406.2 L72.8 407.7 L73.5 409.7 L74.3 411.3 L74.9 412.8 L75.5 413.9 L76.0 414.5 L76.3 414.9 L76.6 415.0 L76.8 415.1 L77.0 415.1 L77.0 415.2 Z" fill="#e77a7a" fill-opacity="0.3"/>
<line x1="27.5" y1="415.5" x2="137" y2="415.5" stroke="#b78383" stroke-width="1.0"/>
<path d="M28.3 415.2 L28.3 406 M28.3 413.7 L29.00 413.50" fill="none" stroke="#8a0808" stroke-width="1.7" stroke-linejoin="round"/>
<path d="M29.0 413.5 L30.3 413.2 L32.3 413.2 L34.5 413.1 L36.6 413.1 L38.5 412.8 L40.0 412.3 L41.3 411.8 L42.5 411.8 L43.7 411.2 L45.0 410.3 L46.4 410.1 L47.9 409.3 L49.3 408.8 L50.7 408.0 L51.9 407.1 L52.9 406.5 L53.7 405.7 L54.5 404.8 L55.2 403.8 L56.0 402.9 L56.9 402.3 L57.9 401.5 L58.9 400.7 L59.9 400.1 L60.7 399.4 L61.4 398.3 L61.9 397.7 L62.4 396.6 L62.9 395.8 L63.4 395.2 L63.9 395.3 L64.5 395.1 L65.0 395.0 L65.5 395.4 L66.0 395.3 L66.4 395.7 L66.8 395.5 L67.2 396.0 L67.6 396.1 L68.1 396.8 L68.8 398.3 L69.5 400.1 L70.4 401.9 L71.2 403.9 L72.0 406.2 L72.8 407.7 L73.5 409.7 L74.3 411.3 L74.9 412.8 L75.5 413.9 L76.0 414.5 L76.3 414.9 L76.6 415.0 L76.8 415.1 L77.0 415.1" fill="none" stroke="#8a0808" stroke-width="1.02" stroke-linejoin="round"/>
<path d="M29.0 413.5 L30.3 413.2 M30.3 413.2 L32.3 413.2 L34.5 413.1 L36.6 413.1 L38.5 412.8 L40.0 412.3 L41.3 411.8 L42.5 411.8 L43.7 411.2 L45.0 410.3 L46.4 410.1 L47.9 409.3 L49.3 408.8 L50.7 408.0 L51.9 407.1 L52.9 406.5 L53.7 405.7 L54.5 404.8 L55.2 403.8 L56.0 402.9 L56.9 402.3 L57.9 401.5 L58.9 400.7 L59.9 400.1 L60.7 399.4 L61.4 398.3 L61.9 397.7 L62.4 396.6 L62.9 395.8 L63.4 395.2 L63.9 395.3 L64.5 395.1 L65.0 395.0 L65.5 395.4 L66.0 395.3 L66.4 395.7 L66.8 395.5 L67.2 396.0 L67.6 396.1 L68.1 396.8 L68.8 398.3 L69.5 400.1 L70.4 401.9 L71.2 403.9 L72.0 406.2 L72.8 407.7 L73.5 409.7 L74.3 411.3 L74.9 412.8 L75.5 413.9 M75.5 413.9 L76.0 414.5 M76.0 414.5 L76.3 414.9 M76.3 414.9 L76.6 415.0 M76.6 415.0 L76.8 415.1 M76.8 415.1 L77.0 415.1" fill="none" stroke="#8a0808" stroke-width="1.7" stroke-linejoin="round" stroke-linecap="round"/>
<path d="M27.5 427.0 L29.0 424.5 L29.1 424.2 L29.3 424.3 L29.5 423.9 L29.9 423.6 L30.4 423.6 L31.1 423.0 L32.0 422.9 L33.0 422.5 L34.0 422.0 L35.0 421.4 L36.0 421.3 L37.0 420.6 L38.0 420.4 L38.9 420.0 L39.8 419.4 L40.5 418.9 L41.2 418.3 L41.8 417.5 L42.4 416.9 L43.0 416.6 L43.7 415.7 L44.4 415.2 L45.2 414.4 L45.9 413.9 L46.5 413.4 L47.1 412.8 L47.6 411.8 L48.0 411.0 L48.5 410.5 L49.0 410.2 L49.5 409.3 L50.0 408.8 L50.5 408.2 L51.0 407.9 L51.5 407.8 L52.0 408.0 L52.5 408.6 L53.0 409.1 L53.5 409.7 L54.0 410.4 L54.5 411.3 L55.0 412.3 L55.5 413.6 L56.0 414.7 L56.5 415.8 L57.1 417.1 L57.7 418.4 L58.3 419.9 L58.9 421.5 L59.5 422.5 L60.2 423.6 L60.9 424.6 L61.6 425.4 L62.3 426.1 L62.7 426.5 L62.7 427.0 Z" fill="#7b7be0" fill-opacity="0.34"/>
<line x1="27.5" y1="427.5" x2="137" y2="427.5" stroke="#a2a2df" stroke-width="1.0"/>
<path d="M28.3 427.0 L28.3 412 M28.3 425.5 L29.00 424.50" fill="none" stroke="#5656ee" stroke-width="1.7" stroke-linejoin="round"/>
<path d="M29.0 424.5 L29.1 424.2 L29.3 424.3 L29.5 423.9 L29.9 423.6 L30.4 423.6 L31.1 423.0 L32.0 422.9 L33.0 422.5 L34.0 422.0 L35.0 421.4 L36.0 421.3 L37.0 420.6 L38.0 420.4 L38.9 420.0 L39.8 419.4 L40.5 418.9 L41.2 418.3 L41.8 417.5 L42.4 416.9 L43.0 416.6 L43.7 415.7 L44.4 415.2 L45.2 414.4 L45.9 413.9 L46.5 413.4 L47.1 412.8 L47.6 411.8 L48.0 411.0 L48.5 410.5 L49.0 410.2 L49.5 409.3 L50.0 408.8 L50.5 408.2 L51.0 407.9 L51.5 407.8 L52.0 408.0 L52.5 408.6 L53.0 409.1 L53.5 409.7 L54.0 410.4 L54.5 411.3 L55.0 412.3 L55.5 413.6 L56.0 414.7 L56.5 415.8 L57.1 417.1 L57.7 418.4 L58.3 419.9 L58.9 421.5 L59.5 422.5 L60.2 423.6 L60.9 424.6 L61.6 425.4 L62.3 426.1 L62.7 426.5" fill="none" stroke="#5656ee" stroke-width="0.84" stroke-linejoin="round"/>
<path d="M29.0 424.5 L29.1 424.2 L29.3 424.3 L29.5 423.9 L29.9 423.6 L30.4 423.6 L31.1 423.0 L32.0 422.9 L33.0 422.5 L34.0 422.0 L35.0 421.4 L36.0 421.3 L37.0 420.6 L38.0 420.4 L38.9 420.0 L39.8 419.4 L40.5 418.9 L41.2 418.3 L41.8 417.5 L42.4 416.9 L43.0 416.6 L43.7 415.7 L44.4 415.2 L45.2 414.4 L45.9 413.9 L46.5 413.4 L47.1 412.8 L47.6 411.8 L48.0 411.0 L48.5 410.5 L49.0 410.2 L49.5 409.3 L50.0 408.8 L50.5 408.2 L51.0 407.9 L51.5 407.8 L52.0 408.0 L52.5 408.6 L53.0 409.1 L53.5 409.7 L54.0 410.4 L54.5 411.3 L55.0 412.3 L55.5 413.6 L56.0 414.7 L56.5 415.8 L57.1 417.1 L57.7 418.4 L58.3 419.9 L58.9 421.5 L59.5 422.5 L60.2 423.6 L60.9 424.6 L61.6 425.4 M61.6 425.4 L62.3 426.1 M62.3 426.1 L62.7 426.5" fill="none" stroke="#5656ee" stroke-width="1.4" stroke-linejoin="round" stroke-linecap="round"/>
<path d="M27.5 438.9 L29.0 434.2 L29.5 433.5 L30.2 432.5 L31.1 431.8 L32.0 430.3 L33.0 429.3 L34.1 428.7 L35.2 427.3 L36.4 426.3 L37.6 425.7 L38.5 424.6 L39.2 424.4 L39.6 424.2 L40.0 423.9 L40.4 423.7 L41.0 423.4 L41.8 423.0 L42.6 422.0 L43.5 421.4 L44.4 420.6 L45.2 420.1 L45.9 420.3 L46.4 420.5 L47.0 420.8 L47.5 421.6 L48.0 422.0 L48.5 422.7 L49.0 422.9 L49.5 423.7 L50.0 424.3 L50.6 424.7 L51.2 425.6 L51.9 426.3 L52.6 427.1 L53.3 428.1 L54.0 429.0 L54.7 430.2 L55.3 431.2 L55.9 432.3 L56.6 433.3 L57.3 434.3 L58.1 435.0 L59.0 436.4 L60.0 437.3 L60.7 438.1 L61.3 438.6 L61.3 438.9 Z" fill="#7b7be0" fill-opacity="0.34"/>
<line x1="27.5" y1="438.5" x2="137" y2="438.5" stroke="#9191d6" stroke-width="1.0"/>
<path d="M28.3 438.9 L28.3 422 M28.3 437.4 L29.00 434.20" fill="none" stroke="#2a2ad8" stroke-width="1.7" stroke-linejoin="round"/>
<path d="M29.0 434.2 L29.5 433.5 L30.2 432.5 L31.1 431.8 L32.0 430.3 L33.0 429.3 L34.1 428.7 L35.2 427.3 L36.4 426.3 L37.6 425.7 L38.5 424.6 L39.2 424.4 L39.6 424.2 L40.0 423.9 L40.4 423.7 L41.0 423.4 L41.8 423.0 L42.6 422.0 L43.5 421.4 L44.4 420.6 L45.2 420.1 L45.9 420.3 L46.4 420.5 L47.0 420.8 L47.5 421.6 L48.0 422.0 L48.5 422.7 L49.0 422.9 L49.5 423.7 L50.0 424.3 L50.6 424.7 L51.2 425.6 L51.9 426.3 L52.6 427.1 L53.3 428.1 L54.0 429.0 L54.7 430.2 L55.3 431.2 L55.9 432.3 L56.6 433.3 L57.3 434.3 L58.1 435.0 L59.0 436.4 L60.0 437.3 L60.7 438.1 L61.3 438.6" fill="none" stroke="#2a2ad8" stroke-width="1.02" stroke-linejoin="round"/>
<path d="M29.0 434.2 L29.5 433.5 L30.2 432.5 L31.1 431.8 L32.0 430.3 L33.0 429.3 L34.1 428.7 L35.2 427.3 L36.4 426.3 L37.6 425.7 L38.5 424.6 L39.2 424.4 L39.6 424.2 L40.0 423.9 L40.4 423.7 L41.0 423.4 L41.8 423.0 L42.6 422.0 L43.5 421.4 L44.4 420.6 L45.2 420.1 L45.9 420.3 L46.4 420.5 L47.0 420.8 L47.5 421.6 L48.0 422.0 L48.5 422.7 L49.0 422.9 L49.5 423.7 L50.0 424.3 L50.6 424.7 L51.2 425.6 L51.9 426.3 L52.6 427.1 L53.3 428.1 L54.0 429.0 L54.7 430.2 L55.3 431.2 L55.9 432.3 L56.6 433.3 L57.3 434.3 L58.1 435.0 L59.0 436.4 L60.0 437.3 M60.0 437.3 L60.7 438.1 M60.7 438.1 L61.3 438.6" fill="none" stroke="#2a2ad8" stroke-width="1.7" stroke-linejoin="round" stroke-linecap="round"/>
<path d="M27.5 451.0 L29.0 448.4 L29.8 448.2 L31.0 447.6 L32.3 446.9 L33.7 446.5 L35.0 446.0 L36.3 445.5 L37.6 445.0 L38.9 444.0 L40.1 443.5 L41.2 443.1 L42.1 442.4 L42.9 441.7 L43.6 441.0 L44.3 440.7 L45.0 440.1 L45.8 439.6 L46.5 438.8 L47.3 438.0 L48.0 437.5 L48.6 437.1 L49.2 436.2 L49.7 435.5 L50.1 434.6 L50.5 433.7 L51.0 433.2 L51.5 432.5 L51.9 432.0 L52.4 431.4 L52.8 430.9 L53.3 431.0 L53.7 430.9 L54.2 431.2 L54.6 431.6 L55.0 432.1 L55.5 432.4 L56.0 432.9 L56.4 433.7 L56.9 434.4 L57.4 435.3 L58.0 436.6 L58.6 437.9 L59.2 439.1 L59.9 440.6 L60.6 442.0 L61.3 443.4 L62.1 445.0 L63.1 446.5 L64.0 448.2 L64.8 449.6 L65.4 450.6 L65.4 451.0 Z" fill="#7b7be0" fill-opacity="0.34"/>
<line x1="27.5" y1="451.5" x2="137" y2="451.5" stroke="#8888ca" stroke-width="1.0"/>
<path d="M28.3 451.0 L28.3 434 M28.3 449.5 L29.00 448.40" fill="none" stroke="#1414b8" stroke-width="1.7" stroke-linejoin="round"/>
<path d="M29.0 448.4 L29.8 448.2 L31.0 447.6 L32.3 446.9 L33.7 446.5 L35.0 446.0 L36.3 445.5 L37.6 445.0 L38.9 444.0 L40.1 443.5 L41.2 443.1 L42.1 442.4 L42.9 441.7 L43.6 441.0 L44.3 440.7 L45.0 440.1 L45.8 439.6 L46.5 438.8 L47.3 438.0 L48.0 437.5 L48.6 437.1 L49.2 436.2 L49.7 435.5 L50.1 434.6 L50.5 433.7 L51.0 433.2 L51.5 432.5 L51.9 432.0 L52.4 431.4 L52.8 430.9 L53.3 431.0 L53.7 430.9 L54.2 431.2 L54.6 431.6 L55.0 432.1 L55.5 432.4 L56.0 432.9 L56.4 433.7 L56.9 434.4 L57.4 435.3 L58.0 436.6 L58.6 437.9 L59.2 439.1 L59.9 440.6 L60.6 442.0 L61.3 443.4 L62.1 445.0 L63.1 446.5 L64.0 448.2 L64.8 449.6 L65.4 450.6" fill="none" stroke="#1414b8" stroke-width="1.02" stroke-linejoin="round"/>
<path d="M29.0 448.4 L29.8 448.2 L31.0 447.6 L32.3 446.9 L33.7 446.5 L35.0 446.0 L36.3 445.5 L37.6 445.0 L38.9 444.0 L40.1 443.5 L41.2 443.1 L42.1 442.4 L42.9 441.7 L43.6 441.0 L44.3 440.7 L45.0 440.1 L45.8 439.6 L46.5 438.8 L47.3 438.0 L48.0 437.5 L48.6 437.1 L49.2 436.2 L49.7 435.5 L50.1 434.6 L50.5 433.7 L51.0 433.2 L51.5 432.5 L51.9 432.0 L52.4 431.4 L52.8 430.9 L53.3 431.0 L53.7 430.9 L54.2 431.2 L54.6 431.6 L55.0 432.1 L55.5 432.4 L56.0 432.9 L56.4 433.7 L56.9 434.4 L57.4 435.3 L58.0 436.6 L58.6 437.9 L59.2 439.1 L59.9 440.6 L60.6 442.0 L61.3 443.4 L62.1 445.0 L63.1 446.5 L64.0 448.2 L64.8 449.6 M64.8 449.6 L65.4 450.6" fill="none" stroke="#1414b8" stroke-width="1.7" stroke-linejoin="round" stroke-linecap="round"/>
<path d="M27.5 462.5 L29.0 461.0 L30.0 460.9 L31.3 460.4 L32.9 460.0 L34.5 459.9 L36.0 459.6 L37.4 459.3 L38.7 459.1 L40.1 458.7 L41.3 458.4 L42.5 457.6 L43.5 457.5 L44.4 456.9 L45.3 456.0 L46.1 455.4 L47.0 455.2 L48.0 454.5 L49.0 453.5 L50.1 453.1 L51.0 452.3 L51.9 451.6 L52.6 450.9 L53.2 450.4 L53.8 449.3 L54.4 448.5 L55.0 448.0 L55.7 447.4 L56.5 446.6 L57.2 445.8 L57.9 445.3 L58.6 445.1 L59.2 444.4 L59.6 444.1 L60.1 443.4 L60.5 443.1 L61.0 443.0 L61.5 442.5 L62.0 442.3 L62.5 442.5 L62.9 442.3 L63.4 442.1 L63.8 442.7 L64.2 442.9 L64.6 443.3 L65.1 444.0 L65.5 444.4 L66.0 445.2 L66.5 445.6 L67.0 446.3 L67.5 447.3 L68.0 447.9 L68.6 449.0 L69.1 450.3 L69.7 452.0 L70.3 453.2 L70.8 454.6 L71.3 455.3 L71.7 456.4 L72.1 457.2 L72.6 458.4 L73.0 459.1 L73.5 460.0 L74.1 460.4 L74.7 461.2 L75.2 461.9 L75.5 462.2 L75.5 462.5 Z" fill="#7b7be0" fill-opacity="0.34"/>
<line x1="27.5" y1="462.5" x2="137" y2="462.5" stroke="#8484bd" stroke-width="1.0"/>
<path d="M28.3 462.5 L28.3 446 M28.3 461.0 L29.00 461.00" fill="none" stroke="#0a0a98" stroke-width="1.7" stroke-linejoin="round"/>
<path d="M29.0 461.0 L30.0 460.9 L31.3 460.4 L32.9 460.0 L34.5 459.9 L36.0 459.6 L37.4 459.3 L38.7 459.1 L40.1 458.7 L41.3 458.4 L42.5 457.6 L43.5 457.5 L44.4 456.9 L45.3 456.0 L46.1 455.4 L47.0 455.2 L48.0 454.5 L49.0 453.5 L50.1 453.1 L51.0 452.3 L51.9 451.6 L52.6 450.9 L53.2 450.4 L53.8 449.3 L54.4 448.5 L55.0 448.0 L55.7 447.4 L56.5 446.6 L57.2 445.8 L57.9 445.3 L58.6 445.1 L59.2 444.4 L59.6 444.1 L60.1 443.4 L60.5 443.1 L61.0 443.0 L61.5 442.5 L62.0 442.3 L62.5 442.5 L62.9 442.3 L63.4 442.1 L63.8 442.7 L64.2 442.9 L64.6 443.3 L65.1 444.0 L65.5 444.4 L66.0 445.2 L66.5 445.6 L67.0 446.3 L67.5 447.3 L68.0 447.9 L68.6 449.0 L69.1 450.3 L69.7 452.0 L70.3 453.2 L70.8 454.6 L71.3 455.3 L71.7 456.4 L72.1 457.2 L72.6 458.4 L73.0 459.1 L73.5 460.0 L74.1 460.4 L74.7 461.2 L75.2 461.9 L75.5 462.2" fill="none" stroke="#0a0a98" stroke-width="1.02" stroke-linejoin="round"/>
<path d="M29.0 461.0 L30.0 460.9 M30.0 460.9 L31.3 460.4 L32.9 460.0 L34.5 459.9 L36.0 459.6 L37.4 459.3 L38.7 459.1 L40.1 458.7 L41.3 458.4 L42.5 457.6 L43.5 457.5 L44.4 456.9 L45.3 456.0 L46.1 455.4 L47.0 455.2 L48.0 454.5 L49.0 453.5 L50.1 453.1 L51.0 452.3 L51.9 451.6 L52.6 450.9 L53.2 450.4 L53.8 449.3 L54.4 448.5 L55.0 448.0 L55.7 447.4 L56.5 446.6 L57.2 445.8 L57.9 445.3 L58.6 445.1 L59.2 444.4 L59.6 444.1 L60.1 443.4 L60.5 443.1 L61.0 443.0 L61.5 442.5 L62.0 442.3 L62.5 442.5 L62.9 442.3 L63.4 442.1 L63.8 442.7 L64.2 442.9 L64.6 443.3 L65.1 444.0 L65.5 444.4 L66.0 445.2 L66.5 445.6 L67.0 446.3 L67.5 447.3 L68.0 447.9 L68.6 449.0 L69.1 450.3 L69.7 452.0 L70.3 453.2 L70.8 454.6 L71.3 455.3 L71.7 456.4 L72.1 457.2 L72.6 458.4 L73.0 459.1 L73.5 460.0 L74.1 460.4 L74.7 461.2 M74.7 461.2 L75.2 461.9 M75.2 461.9 L75.5 462.2" fill="none" stroke="#0a0a98" stroke-width="1.7" stroke-linejoin="round" stroke-linecap="round"/>
<path d="M27.5 474.3 L29.0 471.2 L29.8 470.9 L31.0 470.2 L32.3 469.5 L33.7 469.0 L35.0 468.0 L36.3 467.0 L37.6 466.3 L38.9 465.5 L40.1 464.5 L41.2 463.8 L42.1 463.1 L42.9 462.0 L43.7 461.6 L44.3 460.5 L45.0 459.8 L45.7 459.4 L46.3 459.0 L46.8 458.8 L47.4 458.4 L47.9 457.7 L48.4 457.2 L48.8 456.8 L49.2 456.5 L49.6 455.8 L50.0 455.3 L50.4 455.0 L50.8 454.8 L51.1 454.7 L51.5 454.5 L51.9 454.6 L52.3 454.7 L52.7 454.3 L53.1 454.8 L53.5 455.1 L54.0 455.5 L54.5 455.8 L55.0 456.4 L55.6 457.3 L56.1 458.0 L56.6 459.0 L57.1 459.8 L57.6 460.7 L58.1 461.8 L58.5 463.2 L59.0 464.0 L59.5 465.0 L59.9 466.0 L60.4 466.9 L60.8 468.0 L61.3 469.2 L61.9 470.3 L62.5 471.2 L63.1 472.3 L63.6 473.4 L64.0 474.0 L64.0 474.3 Z" fill="#7b7be0" fill-opacity="0.34"/>
<line x1="27.5" y1="474.5" x2="137" y2="474.5" stroke="#8282ad" stroke-width="1.0"/>
<path d="M28.3 474.3 L28.3 458 M28.3 472.8 L29.00 471.20" fill="none" stroke="#060670" stroke-width="1.7" stroke-linejoin="round"/>
<path d="M29.0 471.2 L29.8 470.9 L31.0 470.2 L32.3 469.5 L33.7 469.0 L35.0 468.0 L36.3 467.0 L37.6 466.3 L38.9 465.5 L40.1 464.5 L41.2 463.8 L42.1 463.1 L42.9 462.0 L43.7 461.6 L44.3 460.5 L45.0 459.8 L45.7 459.4 L46.3 459.0 L46.8 458.8 L47.4 458.4 L47.9 457.7 L48.4 457.2 L48.8 456.8 L49.2 456.5 L49.6 455.8 L50.0 455.3 L50.4 455.0 L50.8 454.8 L51.1 454.7 L51.5 454.5 L51.9 454.6 L52.3 454.7 L52.7 454.3 L53.1 454.8 L53.5 455.1 L54.0 455.5 L54.5 455.8 L55.0 456.4 L55.6 457.3 L56.1 458.0 L56.6 459.0 L57.1 459.8 L57.6 460.7 L58.1 461.8 L58.5 463.2 L59.0 464.0 L59.5 465.0 L59.9 466.0 L60.4 466.9 L60.8 468.0 L61.3 469.2 L61.9 470.3 L62.5 471.2 L63.1 472.3 L63.6 473.4 L64.0 474.0" fill="none" stroke="#060670" stroke-width="1.02" stroke-linejoin="round"/>
<path d="M29.0 471.2 L29.8 470.9 L31.0 470.2 L32.3 469.5 L33.7 469.0 L35.0 468.0 L36.3 467.0 L37.6 466.3 L38.9 465.5 L40.1 464.5 L41.2 463.8 L42.1 463.1 L42.9 462.0 L43.7 461.6 L44.3 460.5 L45.0 459.8 L45.7 459.4 L46.3 459.0 L46.8 458.8 L47.4 458.4 L47.9 457.7 L48.4 457.2 L48.8 456.8 L49.2 456.5 L49.6 455.8 L50.0 455.3 L50.4 455.0 L50.8 454.8 L51.1 454.7 L51.5 454.5 L51.9 454.6 L52.3 454.7 L52.7 454.3 L53.1 454.8 L53.5 455.1 L54.0 455.5 L54.5 455.8 L55.0 456.4 L55.6 457.3 L56.1 458.0 L56.6 459.0 L57.1 459.8 L57.6 460.7 L58.1 461.8 L58.5 463.2 L59.0 464.0 L59.5 465.0 L59.9 466.0 L60.4 466.9 L60.8 468.0 L61.3 469.2 L61.9 470.3 L62.5 471.2 L63.1 472.3 M63.1 472.3 L63.6 473.4 M63.6 473.4 L64.0 474.0" fill="none" stroke="#060670" stroke-width="1.7" stroke-linejoin="round" stroke-linecap="round"/>
<path d="M27.5 486.2 L28.8 480.2 L29.4 479.2 L30.2 478.4 L31.1 477.0 L32.1 476.1 L33.0 475.0 L33.8 474.4 L34.6 473.6 L35.4 473.3 L36.2 472.7 L36.9 472.2 L37.6 471.8 L38.2 470.8 L38.9 470.2 L39.4 470.1 L40.0 469.4 L40.5 469.1 L40.9 468.8 L41.3 468.4 L41.8 468.1 L42.3 468.2 L42.9 468.2 L43.6 468.2 L44.4 468.1 L45.2 468.4 L46.0 468.9 L46.8 469.5 L47.7 469.7 L48.7 470.3 L49.6 471.1 L50.4 472.3 L51.2 473.1 L51.9 474.3 L52.5 475.4 L53.2 476.5 L54.0 478.0 L54.9 479.6 L56.0 481.5 L57.0 483.3 L57.9 484.6 L58.5 485.8 L58.5 486.2 Z" fill="#000" fill-opacity="0.19"/>
<line x1="27.5" y1="486.5" x2="137" y2="486.5" stroke="#878787" stroke-width="1.0"/>
<path d="M28.3 486.2 L28.3 470 M28.3 484.7 L28.80 480.20" fill="none" stroke="#111" stroke-width="1.8" stroke-linejoin="round"/>
<path d="M28.8 480.2 L29.4 479.2 L30.2 478.4 L31.1 477.0 L32.1 476.1 L33.0 475.0 L33.8 474.4 L34.6 473.6 L35.4 473.3 L36.2 472.7 L36.9 472.2 L37.6 471.8 L38.2 470.8 L38.9 470.2 L39.4 470.1 L40.0 469.4 L40.5 469.1 L40.9 468.8 L41.3 468.4 L41.8 468.1 L42.3 468.2 L42.9 468.2 L43.6 468.2 L44.4 468.1 L45.2 468.4 L46.0 468.9 L46.8 469.5 L47.7 469.7 L48.7 470.3 L49.6 471.1 L50.4 472.3 L51.2 473.1 L51.9 474.3 L52.5 475.4 L53.2 476.5 L54.0 478.0 L54.9 479.6 L56.0 481.5 L57.0 483.3 L57.9 484.6 L58.5 485.8" fill="none" stroke="#111" stroke-width="1.08" stroke-linejoin="round"/>
<path d="M28.8 480.2 L29.4 479.2 L30.2 478.4 L31.1 477.0 L32.1 476.1 L33.0 475.0 L33.8 474.4 L34.6 473.6 L35.4 473.3 L36.2 472.7 L36.9 472.2 L37.6 471.8 L38.2 470.8 L38.9 470.2 L39.4 470.1 L40.0 469.4 L40.5 469.1 L40.9 468.8 L41.3 468.4 L41.8 468.1 L42.3 468.2 L42.9 468.2 L43.6 468.2 L44.4 468.1 L45.2 468.4 L46.0 468.9 L46.8 469.5 L47.7 469.7 L48.7 470.3 L49.6 471.1 L50.4 472.3 L51.2 473.1 L51.9 474.3 L52.5 475.4 L53.2 476.5 L54.0 478.0 L54.9 479.6 L56.0 481.5 L57.0 483.3 L57.9 484.6 M57.9 484.6 L58.5 485.8" fill="none" stroke="#111" stroke-width="1.8" stroke-linejoin="round" stroke-linecap="round"/>
<path d="M27.5 498.2 L28.8 491.0 L29.4 489.8 L30.2 488.6 L31.1 486.6 L32.1 485.2 L33.0 484.1 L33.8 483.2 L34.5 482.9 L35.2 482.5 L36.0 482.0 L36.9 481.6 L37.9 480.8 L39.0 480.3 L40.2 479.7 L41.3 479.2 L42.3 478.9 L43.1 478.6 L43.9 478.6 L44.6 479.0 L45.2 479.1 L46.0 479.6 L46.8 479.6 L47.7 480.1 L48.7 480.3 L49.6 480.8 L50.4 481.3 L51.2 482.3 L51.9 483.8 L52.5 485.1 L53.2 486.4 L54.0 488.1 L54.9 490.0 L56.0 491.9 L57.0 494.2 L57.9 496.6 L58.5 497.8 L58.5 498.2 Z" fill="#000" fill-opacity="0.19"/>
<line x1="27.5" y1="498.5" x2="137" y2="498.5" stroke="#878787" stroke-width="1.0"/>
<path d="M28.3 498.2 L28.3 482 M28.3 496.7 L28.80 491.00" fill="none" stroke="#111" stroke-width="1.8" stroke-linejoin="round"/>
<path d="M28.8 491.0 L29.4 489.8 L30.2 488.6 L31.1 486.6 L32.1 485.2 L33.0 484.1 L33.8 483.2 L34.5 482.9 L35.2 482.5 L36.0 482.0 L36.9 481.6 L37.9 480.8 L39.0 480.3 L40.2 479.7 L41.3 479.2 L42.3 478.9 L43.1 478.6 L43.9 478.6 L44.6 479.0 L45.2 479.1 L46.0 479.6 L46.8 479.6 L47.7 480.1 L48.7 480.3 L49.6 480.8 L50.4 481.3 L51.2 482.3 L51.9 483.8 L52.5 485.1 L53.2 486.4 L54.0 488.1 L54.9 490.0 L56.0 491.9 L57.0 494.2 L57.9 496.6 L58.5 497.8" fill="none" stroke="#111" stroke-width="1.08" stroke-linejoin="round"/>
<path d="M28.8 491.0 L29.4 489.8 L30.2 488.6 L31.1 486.6 L32.1 485.2 L33.0 484.1 L33.8 483.2 L34.5 482.9 L35.2 482.5 L36.0 482.0 L36.9 481.6 L37.9 480.8 L39.0 480.3 L40.2 479.7 L41.3 479.2 L42.3 478.9 L43.1 478.6 L43.9 478.6 L44.6 479.0 L45.2 479.1 L46.0 479.6 L46.8 479.6 L47.7 480.1 L48.7 480.3 L49.6 480.8 L50.4 481.3 L51.2 482.3 L51.9 483.8 L52.5 485.1 L53.2 486.4 L54.0 488.1 L54.9 490.0 L56.0 491.9 L57.0 494.2 L57.9 496.6 M57.9 496.6 L58.5 497.8" fill="none" stroke="#111" stroke-width="1.8" stroke-linejoin="round" stroke-linecap="round"/>
<path d="M27.5 510.2 L28.8 503.1 L29.4 502.2 L30.2 500.9 L31.1 499.5 L32.1 498.0 L33.0 496.8 L33.8 496.0 L34.4 495.6 L35.1 495.0 L35.9 494.3 L36.9 493.8 L38.1 492.8 L39.6 492.3 L41.1 491.8 L42.5 491.4 L43.7 491.1 L44.6 490.9 L45.3 490.9 L45.8 491.5 L46.4 491.7 L47.0 492.1 L47.7 492.1 L48.3 492.4 L48.9 492.7 L49.6 492.8 L50.4 493.8 L51.2 494.9 L52.1 496.4 L53.1 498.4 L54.0 500.1 L55.0 501.8 L56.0 503.9 L57.1 505.7 L58.2 507.2 L59.1 508.8 L59.8 509.8 L59.8 510.2 Z" fill="#000" fill-opacity="0.19"/>
<line x1="27.5" y1="510.5" x2="137" y2="510.5" stroke="#878787" stroke-width="1.0"/>
<path d="M28.3 510.2 L28.3 494 M28.3 508.7 L28.80 503.10" fill="none" stroke="#111" stroke-width="1.8" stroke-linejoin="round"/>
<path d="M28.8 503.1 L29.4 502.2 L30.2 500.9 L31.1 499.5 L32.1 498.0 L33.0 496.8 L33.8 496.0 L34.4 495.6 L35.1 495.0 L35.9 494.3 L36.9 493.8 L38.1 492.8 L39.6 492.3 L41.1 491.8 L42.5 491.4 L43.7 491.1 L44.6 490.9 L45.3 490.9 L45.8 491.5 L46.4 491.7 L47.0 492.1 L47.7 492.1 L48.3 492.4 L48.9 492.7 L49.6 492.8 L50.4 493.8 L51.2 494.9 L52.1 496.4 L53.1 498.4 L54.0 500.1 L55.0 501.8 L56.0 503.9 L57.1 505.7 L58.2 507.2 L59.1 508.8 L59.8 509.8" fill="none" stroke="#111" stroke-width="1.08" stroke-linejoin="round"/>
<path d="M28.8 503.1 L29.4 502.2 L30.2 500.9 L31.1 499.5 L32.1 498.0 L33.0 496.8 L33.8 496.0 L34.4 495.6 L35.1 495.0 L35.9 494.3 L36.9 493.8 L38.1 492.8 L39.6 492.3 L41.1 491.8 L42.5 491.4 L43.7 491.1 L44.6 490.9 L45.3 490.9 L45.8 491.5 L46.4 491.7 L47.0 492.1 L47.7 492.1 L48.3 492.4 L48.9 492.7 L49.6 492.8 L50.4 493.8 L51.2 494.9 L52.1 496.4 L53.1 498.4 L54.0 500.1 L55.0 501.8 L56.0 503.9 L57.1 505.7 L58.2 507.2 L59.1 508.8 M59.1 508.8 L59.8 509.8" fill="none" stroke="#111" stroke-width="1.8" stroke-linejoin="round" stroke-linecap="round"/>
<path d="M27.5 522.1 L29.2 515.2 L29.7 514.9 L30.4 513.8 L31.2 513.0 L32.0 512.4 L32.7 511.1 L33.2 510.1 L33.7 508.5 L34.1 507.2 L34.6 506.2 L35.0 505.0 L35.5 504.0 L35.9 503.0 L36.3 502.1 L36.8 501.5 L37.3 501.3 L37.8 501.5 L38.4 502.5 L39.0 504.0 L39.6 505.2 L40.2 506.3 L40.7 507.8 L41.2 509.6 L41.7 511.3 L42.3 513.0 L43.0 514.8 L43.8 516.0 L44.6 517.4 L45.6 518.7 L46.6 519.5 L47.7 520.6 L49.0 521.1 L50.6 521.3 L52.2 521.5 L53.6 521.7 L54.6 521.8 L54.6 522.1 Z" fill="#000" fill-opacity="0.09"/>
<line x1="27.5" y1="522.5" x2="137" y2="522.5" stroke="#bdbdbd" stroke-width="1.0"/>
<path d="M28.3 522.1 L28.3 470 M28.3 520.6 L29.20 515.20" fill="none" stroke="#999" stroke-width="1.7" stroke-linejoin="round"/>
<path d="M29.2 515.2 L29.7 514.9 L30.4 513.8 L31.2 513.0 L32.0 512.4 L32.7 511.1 L33.2 510.1 L33.7 508.5 L34.1 507.2 L34.6 506.2 L35.0 505.0 L35.5 504.0 L35.9 503.0 L36.3 502.1 L36.8 501.5 L37.3 501.3 L37.8 501.5 L38.4 502.5 L39.0 504.0 L39.6 505.2 L40.2 506.3 L40.7 507.8 L41.2 509.6 L41.7 511.3 L42.3 513.0 L43.0 514.8 L43.8 516.0 L44.6 517.4 L45.6 518.7 L46.6 519.5 L47.7 520.6 L49.0 521.1 L50.6 521.3 L52.2 521.5 L53.6 521.7 L54.6 521.8" fill="none" stroke="#999" stroke-width="0.78" stroke-linejoin="round"/>
<path d="M29.2 515.2 L29.7 514.9 L30.4 513.8 L31.2 513.0 L32.0 512.4 L32.7 511.1 L33.2 510.1 L33.7 508.5 L34.1 507.2 L34.6 506.2 L35.0 505.0 L35.5 504.0 L35.9 503.0 L36.3 502.1 L36.8 501.5 L37.3 501.3 L37.8 501.5 L38.4 502.5 L39.0 504.0 L39.6 505.2 L40.2 506.3 L40.7 507.8 L41.2 509.6 L41.7 511.3 L42.3 513.0 L43.0 514.8 L43.8 516.0 L44.6 517.4 L45.6 518.7 L46.6 519.5 L47.7 520.6 M47.7 520.6 L49.0 521.1 M49.0 521.1 L50.6 521.3 M50.6 521.3 L52.2 521.5 M52.2 521.5 L53.6 521.7 M53.6 521.7 L54.6 521.8" fill="none" stroke="#999" stroke-width="1.3" stroke-linejoin="round" stroke-linecap="round"/>
<text x="102.60" y="366.50" font-size="8.36" fill="#cf4229" stroke="#cf4229" stroke-width="0.18" textLength="27.72" lengthAdjust="spacingAndGlyphs">AML&#160;14</text>
<text x="102.60" y="378.50" font-size="8.36" fill="#cf4229" stroke="#cf4229" stroke-width="0.18" textLength="27.72" lengthAdjust="spacingAndGlyphs">AML&#160;13</text>
<text x="102.60" y="390.40" font-size="8.36" fill="#cf4229" stroke="#cf4229" stroke-width="0.18" textLength="23.20" lengthAdjust="spacingAndGlyphs">AML&#160;9</text>
<text x="102.60" y="402.20" font-size="8.36" fill="#cf4229" stroke="#cf4229" stroke-width="0.18" textLength="23.20" lengthAdjust="spacingAndGlyphs">AML&#160;8</text>
<text x="102.60" y="414.20" font-size="8.36" fill="#cf4229" stroke="#cf4229" stroke-width="0.18" textLength="23.20" lengthAdjust="spacingAndGlyphs">AML&#160;2</text>
<text x="102.60" y="426.00" font-size="8.36" fill="#40409e" stroke="#40409e" stroke-width="0.18" textLength="23.20" lengthAdjust="spacingAndGlyphs">AML&#160;6</text>
<text x="102.60" y="437.90" font-size="8.36" fill="#40409e" stroke="#40409e" stroke-width="0.18" textLength="23.20" lengthAdjust="spacingAndGlyphs">AML&#160;5</text>
<text x="102.60" y="450.00" font-size="8.36" fill="#40409e" stroke="#40409e" stroke-width="0.18" textLength="23.20" lengthAdjust="spacingAndGlyphs">AML&#160;4</text>
<text x="102.60" y="461.50" font-size="8.36" fill="#40409e" stroke="#40409e" stroke-width="0.18" textLength="23.20" lengthAdjust="spacingAndGlyphs">AML&#160;3</text>
<text x="102.60" y="473.30" font-size="8.36" fill="#40409e" stroke="#40409e" stroke-width="0.18" textLength="23.20" lengthAdjust="spacingAndGlyphs">AML&#160;1</text>
<text x="102.60" y="485.20" font-size="8.36" fill="#111" stroke="#111" stroke-width="0.18" textLength="24.85" lengthAdjust="spacingAndGlyphs">NBM&#160;3</text>
<text x="102.60" y="497.20" font-size="8.36" fill="#111" stroke="#111" stroke-width="0.18" textLength="24.85" lengthAdjust="spacingAndGlyphs">NBM&#160;2</text>
<text x="102.60" y="509.20" font-size="8.36" fill="#111" stroke="#111" stroke-width="0.18" textLength="24.85" lengthAdjust="spacingAndGlyphs">NBM&#160;1</text>
<text x="73.80" y="521.00" font-size="8.36" fill="#9a9a9a" textLength="57.40" lengthAdjust="spacingAndGlyphs">No&#160;stain&#160;control</text>
<line x1="27.5" y1="524.2" x2="136.2" y2="524.2" stroke="#444" stroke-width="0.8"/>
<line x1="27.5" y1="523.8000000000001" x2="27.5" y2="526.2" stroke="#111" stroke-width="1.1"/>
<line x1="35.680490132168686" y1="524.2" x2="35.680490132168686" y2="525.5" stroke="#444" stroke-width="0.7"/>
<line x1="40.465770097006825" y1="524.2" x2="40.465770097006825" y2="525.5" stroke="#444" stroke-width="0.7"/>
<line x1="43.86098026433737" y1="524.2" x2="43.86098026433737" y2="525.5" stroke="#444" stroke-width="0.7"/>
<line x1="46.49450986783131" y1="524.2" x2="46.49450986783131" y2="525.5" stroke="#444" stroke-width="0.7"/>
<line x1="48.64626022917551" y1="524.2" x2="48.64626022917551" y2="525.5" stroke="#444" stroke-width="0.7"/>
<line x1="50.465539237387425" y1="524.2" x2="50.465539237387425" y2="525.5" stroke="#444" stroke-width="0.7"/>
<line x1="52.041470396506064" y1="524.2" x2="52.041470396506064" y2="525.5" stroke="#444" stroke-width="0.7"/>
<line x1="53.43154019401365" y1="524.2" x2="53.43154019401365" y2="525.5" stroke="#444" stroke-width="0.7"/>
<line x1="54.675" y1="523.8000000000001" x2="54.675" y2="526.2" stroke="#111" stroke-width="1.1"/>
<line x1="62.85549013216869" y1="524.2" x2="62.85549013216869" y2="525.5" stroke="#444" stroke-width="0.7"/>
<line x1="67.64077009700682" y1="524.2" x2="67.64077009700682" y2="525.5" stroke="#444" stroke-width="0.7"/>
<line x1="71.03598026433738" y1="524.2" x2="71.03598026433738" y2="525.5" stroke="#444" stroke-width="0.7"/>
<line x1="73.6695098678313" y1="524.2" x2="73.6695098678313" y2="525.5" stroke="#444" stroke-width="0.7"/>
<line x1="75.82126022917551" y1="524.2" x2="75.82126022917551" y2="525.5" stroke="#444" stroke-width="0.7"/>
<line x1="77.64053923738743" y1="524.2" x2="77.64053923738743" y2="525.5" stroke="#444" stroke-width="0.7"/>
<line x1="79.21647039650605" y1="524.2" x2="79.21647039650605" y2="525.5" stroke="#444" stroke-width="0.7"/>
<line x1="80.60654019401365" y1="524.2" x2="80.60654019401365" y2="525.5" stroke="#444" stroke-width="0.7"/>
<line x1="81.85" y1="523.8000000000001" x2="81.85" y2="526.2" stroke="#111" stroke-width="1.1"/>
<line x1="90.0304901321687" y1="524.2" x2="90.0304901321687" y2="525.5" stroke="#444" stroke-width="0.7"/>
<line x1="94.81577009700682" y1="524.2" x2="94.81577009700682" y2="525.5" stroke="#444" stroke-width="0.7"/>
<line x1="98.21098026433738" y1="524.2" x2="98.21098026433738" y2="525.5" stroke="#444" stroke-width="0.7"/>
<line x1="100.8445098678313" y1="524.2" x2="100.8445098678313" y2="525.5" stroke="#444" stroke-width="0.7"/>
<line x1="102.99626022917552" y1="524.2" x2="102.99626022917552" y2="525.5" stroke="#444" stroke-width="0.7"/>
<line x1="104.81553923738743" y1="524.2" x2="104.81553923738743" y2="525.5" stroke="#444" stroke-width="0.7"/>
<line x1="106.39147039650607" y1="524.2" x2="106.39147039650607" y2="525.5" stroke="#444" stroke-width="0.7"/>
<line x1="107.78154019401364" y1="524.2" x2="107.78154019401364" y2="525.5" stroke="#444" stroke-width="0.7"/>
<line x1="109.02499999999999" y1="523.8000000000001" x2="109.02499999999999" y2="526.2" stroke="#111" stroke-width="1.1"/>
<line x1="117.20549013216868" y1="524.2" x2="117.20549013216868" y2="525.5" stroke="#444" stroke-width="0.7"/>
<line x1="121.99077009700682" y1="524.2" x2="121.99077009700682" y2="525.5" stroke="#444" stroke-width="0.7"/>
<line x1="125.38598026433738" y1="524.2" x2="125.38598026433738" y2="525.5" stroke="#444" stroke-width="0.7"/>
<line x1="128.0195098678313" y1="524.2" x2="128.0195098678313" y2="525.5" stroke="#444" stroke-width="0.7"/>
<line x1="130.17126022917552" y1="524.2" x2="130.17126022917552" y2="525.5" stroke="#444" stroke-width="0.7"/>
<line x1="131.99053923738742" y1="524.2" x2="131.99053923738742" y2="525.5" stroke="#444" stroke-width="0.7"/>
<line x1="133.56647039650608" y1="524.2" x2="133.56647039650608" y2="525.5" stroke="#444" stroke-width="0.7"/>
<line x1="134.95654019401366" y1="524.2" x2="134.95654019401366" y2="525.5" stroke="#444" stroke-width="0.7"/>
<line x1="136.2" y1="523.8000000000001" x2="136.2" y2="526.2" stroke="#111" stroke-width="1.1"/>
<text x="26.20" y="535.6" font-size="8.0" text-anchor="middle" fill="#111">10</text>
<text x="30.60" y="532.70" font-size="4.4" text-anchor="start" fill="#222">0</text>
<text x="53.38" y="535.6" font-size="8.0" text-anchor="middle" fill="#111">10</text>
<text x="57.77" y="532.70" font-size="4.4" text-anchor="start" fill="#222">1</text>
<text x="80.55" y="535.6" font-size="8.0" text-anchor="middle" fill="#111">10</text>
<text x="84.95" y="532.70" font-size="4.4" text-anchor="start" fill="#222">2</text>
<text x="107.72" y="535.6" font-size="8.0" text-anchor="middle" fill="#111">10</text>
<text x="112.12" y="532.70" font-size="4.4" text-anchor="start" fill="#222">3</text>
<text x="134.90" y="535.6" font-size="8.0" text-anchor="middle" fill="#111">10</text>
<text x="139.30" y="532.70" font-size="4.4" text-anchor="start" fill="#222">4</text>
<text x="165.00" y="341.80" font-size="9.3" fill="#1a1a1a" stroke="#1a1a1a" stroke-width="0.12" textLength="23.14" lengthAdjust="spacingAndGlyphs">CD34</text>
<text x="188.14" y="338.17" font-size="6.696000000000001" fill="#1a1a1a" stroke="#1a1a1a" stroke-width="0.12" textLength="3.81" lengthAdjust="spacingAndGlyphs">+</text>
<text x="191.95" y="341.80" font-size="9.3" fill="#1a1a1a" stroke="#1a1a1a" stroke-width="0.12" textLength="92.05" lengthAdjust="spacingAndGlyphs">&#160;Cells&#160;Cohort&#160;2&#160;(China)</text>
<line x1="170.8" y1="346.40000000000003" x2="170.8" y2="524.4" stroke="#8a8a8a" stroke-width="0.9"/>
<line x1="278" y1="346.40000000000003" x2="278" y2="524.4" stroke="#c0c0c0" stroke-width="0.9"/>
<line x1="170.4" y1="346.8" x2="278.4" y2="346.8" stroke="#c8c8c8" stroke-width="1.0"/>
<path d="M170.8 371.3 L172.0 369.8 L174.5 369.7 L178.2 369.8 L182.3 370.0 L186.5 369.8 L190.0 369.5 L193.0 369.6 L195.7 369.4 L198.2 369.5 L200.5 369.1 L202.5 368.6 L204.2 367.8 L205.6 366.4 L206.8 365.1 L207.8 363.3 L208.8 362.5 L209.6 361.7 L210.3 361.0 L210.9 360.6 L211.4 360.5 L212.0 359.8 L212.6 359.6 L213.2 359.0 L213.8 359.1 L214.4 358.9 L215.0 359.0 L215.6 358.6 L216.2 358.9 L216.9 359.1 L217.5 359.7 L218.0 359.7 L218.4 360.2 L218.7 360.6 L219.0 361.6 L219.4 361.6 L220.0 362.2 L220.8 363.2 L221.7 364.4 L222.7 365.4 L223.8 366.6 L225.0 367.5 L226.2 367.7 L227.4 368.3 L228.7 368.5 L230.2 369.2 L232.0 369.3 L234.4 369.4 L237.4 369.9 L240.4 369.9 L243.1 370.1 L245.0 370.2 L245.0 371.3 Z" fill="#e77a7a" fill-opacity="0.3"/>
<line x1="170.8" y1="371.5" x2="278" y2="371.5" stroke="#dd8f91" stroke-width="1.0"/>
<path d="M171.60000000000002 371.3 L171.60000000000002 366 M171.60000000000002 369.8 L172.00 369.80" fill="none" stroke="#e8262a" stroke-width="1.7" stroke-linejoin="round"/>
<path d="M172.0 369.8 L174.5 369.7 L178.2 369.8 L182.3 370.0 L186.5 369.8 L190.0 369.5 L193.0 369.6 L195.7 369.4 L198.2 369.5 L200.5 369.1 L202.5 368.6 L204.2 367.8 L205.6 366.4 L206.8 365.1 L207.8 363.3 L208.8 362.5 L209.6 361.7 L210.3 361.0 L210.9 360.6 L211.4 360.5 L212.0 359.8 L212.6 359.6 L213.2 359.0 L213.8 359.1 L214.4 358.9 L215.0 359.0 L215.6 358.6 L216.2 358.9 L216.9 359.1 L217.5 359.7 L218.0 359.7 L218.4 360.2 L218.7 360.6 L219.0 361.6 L219.4 361.6 L220.0 362.2 L220.8 363.2 L221.7 364.4 L222.7 365.4 L223.8 366.6 L225.0 367.5 L226.2 367.7 L227.4 368.3 L228.7 368.5 L230.2 369.2 L232.0 369.3 L234.4 369.4 L237.4 369.9 L240.4 369.9 L243.1 370.1 L245.0 370.2" fill="none" stroke="#e8262a" stroke-width="0.84" stroke-linejoin="round"/>
<path d="M172.0 369.8 L174.5 369.7 M174.5 369.7 L178.2 369.8 M178.2 369.8 L182.3 370.0 M182.3 370.0 L186.5 369.8 M186.5 369.8 L190.0 369.5 M190.0 369.5 L193.0 369.6 M193.0 369.6 L195.7 369.4 M195.7 369.4 L198.2 369.5 M198.2 369.5 L200.5 369.1 L202.5 368.6 L204.2 367.8 L205.6 366.4 L206.8 365.1 L207.8 363.3 L208.8 362.5 L209.6 361.7 L210.3 361.0 L210.9 360.6 L211.4 360.5 L212.0 359.8 L212.6 359.6 L213.2 359.0 L213.8 359.1 L214.4 358.9 L215.0 359.0 L215.6 358.6 L216.2 358.9 L216.9 359.1 L217.5 359.7 L218.0 359.7 L218.4 360.2 L218.7 360.6 L219.0 361.6 L219.4 361.6 L220.0 362.2 L220.8 363.2 L221.7 364.4 L222.7 365.4 L223.8 366.6 L225.0 367.5 L226.2 367.7 L227.4 368.3 L228.7 368.5 L230.2 369.2 L232.0 369.3 M232.0 369.3 L234.4 369.4 M234.4 369.4 L237.4 369.9 M237.4 369.9 L240.4 369.9 M240.4 369.9 L243.1 370.1 M243.1 370.1 L245.0 370.2" fill="none" stroke="#e8262a" stroke-width="1.4" stroke-linejoin="round" stroke-linecap="round"/>
<path d="M170.8 379.617 L172.0 378.3 L175.3 378.3 L180.0 378.0 L185.5 378.0 L190.7 377.8 L195.0 377.6 L198.3 377.1 L201.1 376.9 L203.6 376.0 L205.7 375.8 L207.5 374.7 L208.9 374.4 L209.8 373.1 L210.5 371.9 L211.2 370.6 L212.0 369.8 L213.1 369.3 L214.2 368.3 L215.3 367.5 L216.4 367.4 L217.5 366.8 L218.4 366.9 L219.3 367.1 L220.1 368.1 L221.0 368.3 L222.0 369.0 L223.1 369.2 L224.2 369.8 L225.4 370.8 L226.6 370.7 L228.0 371.3 L229.5 372.1 L231.0 372.2 L232.6 373.1 L234.3 373.2 L236.0 373.9 L237.7 375.0 L239.5 375.2 L241.3 376.3 L243.1 377.2 L245.0 377.7 L247.1 378.2 L249.4 378.4 L251.7 378.8 L253.6 378.9 L255.0 379.2 L255.0 379.617 Z" fill="#e77a7a" fill-opacity="0.3"/>
<line x1="170.8" y1="379.5" x2="278" y2="379.5" stroke="#dd8f91" stroke-width="1.0"/>
<path d="M171.60000000000002 379.617 L171.60000000000002 375 M171.60000000000002 378.117 L172.00 378.30" fill="none" stroke="#e8262a" stroke-width="1.7" stroke-linejoin="round"/>
<path d="M172.0 378.3 L175.3 378.3 L180.0 378.0 L185.5 378.0 L190.7 377.8 L195.0 377.6 L198.3 377.1 L201.1 376.9 L203.6 376.0 L205.7 375.8 L207.5 374.7 L208.9 374.4 L209.8 373.1 L210.5 371.9 L211.2 370.6 L212.0 369.8 L213.1 369.3 L214.2 368.3 L215.3 367.5 L216.4 367.4 L217.5 366.8 L218.4 366.9 L219.3 367.1 L220.1 368.1 L221.0 368.3 L222.0 369.0 L223.1 369.2 L224.2 369.8 L225.4 370.8 L226.6 370.7 L228.0 371.3 L229.5 372.1 L231.0 372.2 L232.6 373.1 L234.3 373.2 L236.0 373.9 L237.7 375.0 L239.5 375.2 L241.3 376.3 L243.1 377.2 L245.0 377.7 L247.1 378.2 L249.4 378.4 L251.7 378.8 L253.6 378.9 L255.0 379.2" fill="none" stroke="#e8262a" stroke-width="0.84" stroke-linejoin="round"/>
<path d="M172.0 378.3 L175.3 378.3 M175.3 378.3 L180.0 378.0 M180.0 378.0 L185.5 378.0 M185.5 378.0 L190.7 377.8 M190.7 377.8 L195.0 377.6 M195.0 377.6 L198.3 377.1 L201.1 376.9 L203.6 376.0 L205.7 375.8 L207.5 374.7 L208.9 374.4 L209.8 373.1 L210.5 371.9 L211.2 370.6 L212.0 369.8 L213.1 369.3 L214.2 368.3 L215.3 367.5 L216.4 367.4 L217.5 366.8 L218.4 366.9 L219.3 367.1 L220.1 368.1 L221.0 368.3 L222.0 369.0 L223.1 369.2 L224.2 369.8 L225.4 370.8 L226.6 370.7 L228.0 371.3 L229.5 372.1 L231.0 372.2 L232.6 373.1 L234.3 373.2 L236.0 373.9 L237.7 375.0 L239.5 375.2 L241.3 376.3 L243.1 377.2 L245.0 377.7 M245.0 377.7 L247.1 378.2 M247.1 378.2 L249.4 378.4 M249.4 378.4 L251.7 378.8 M251.7 378.8 L253.6 378.9 M253.6 378.9 L255.0 379.2" fill="none" stroke="#e8262a" stroke-width="1.4" stroke-linejoin="round" stroke-linecap="round"/>
<path d="M170.8 387.934 L172.0 387.0 L173.1 386.6 L174.8 386.4 L176.6 385.9 L178.5 385.5 L180.0 385.2 L181.2 384.8 L182.1 384.2 L183.0 383.6 L183.9 382.9 L185.0 382.6 L186.4 381.6 L187.9 381.3 L189.5 380.3 L191.0 379.8 L192.5 378.9 L193.9 378.0 L195.2 376.5 L196.5 375.6 L197.7 374.9 L198.8 374.3 L199.6 374.3 L200.3 375.0 L200.9 375.4 L201.4 376.4 L202.0 376.9 L202.6 377.5 L203.1 378.5 L203.7 379.1 L204.3 380.0 L205.0 381.2 L205.9 381.9 L206.8 383.4 L207.8 384.5 L208.9 385.6 L210.0 386.3 L211.2 386.6 L212.6 387.2 L214.0 387.2 L215.2 387.6 L216.0 387.6 L216.0 387.934 Z" fill="#e77a7a" fill-opacity="0.3"/>
<line x1="170.8" y1="387.5" x2="278" y2="387.5" stroke="#dd8f91" stroke-width="1.0"/>
<path d="M171.60000000000002 387.934 L171.60000000000002 378 M171.60000000000002 386.434 L172.00 387.00" fill="none" stroke="#e8262a" stroke-width="1.7" stroke-linejoin="round"/>
<path d="M172.0 387.0 L173.1 386.6 L174.8 386.4 L176.6 385.9 L178.5 385.5 L180.0 385.2 L181.2 384.8 L182.1 384.2 L183.0 383.6 L183.9 382.9 L185.0 382.6 L186.4 381.6 L187.9 381.3 L189.5 380.3 L191.0 379.8 L192.5 378.9 L193.9 378.0 L195.2 376.5 L196.5 375.6 L197.7 374.9 L198.8 374.3 L199.6 374.3 L200.3 375.0 L200.9 375.4 L201.4 376.4 L202.0 376.9 L202.6 377.5 L203.1 378.5 L203.7 379.1 L204.3 380.0 L205.0 381.2 L205.9 381.9 L206.8 383.4 L207.8 384.5 L208.9 385.6 L210.0 386.3 L211.2 386.6 L212.6 387.2 L214.0 387.2 L215.2 387.6 L216.0 387.6" fill="none" stroke="#e8262a" stroke-width="0.84" stroke-linejoin="round"/>
<path d="M172.0 387.0 L173.1 386.6 M173.1 386.6 L174.8 386.4 M174.8 386.4 L176.6 385.9 L178.5 385.5 L180.0 385.2 L181.2 384.8 L182.1 384.2 L183.0 383.6 L183.9 382.9 L185.0 382.6 L186.4 381.6 L187.9 381.3 L189.5 380.3 L191.0 379.8 L192.5 378.9 L193.9 378.0 L195.2 376.5 L196.5 375.6 L197.7 374.9 L198.8 374.3 L199.6 374.3 L200.3 375.0 L200.9 375.4 L201.4 376.4 L202.0 376.9 L202.6 377.5 L203.1 378.5 L203.7 379.1 L204.3 380.0 L205.0 381.2 L205.9 381.9 L206.8 383.4 L207.8 384.5 L208.9 385.6 L210.0 386.3 M210.0 386.3 L211.2 386.6 M211.2 386.6 L212.6 387.2 M212.6 387.2 L214.0 387.2 M214.0 387.2 L215.2 387.6 M215.2 387.6 L216.0 387.6" fill="none" stroke="#e8262a" stroke-width="1.4" stroke-linejoin="round" stroke-linecap="round"/>
<path d="M170.8 396.25100000000003 L172.0 395.3 L173.9 395.2 L176.6 394.6 L179.8 394.6 L182.7 393.7 L185.0 393.2 L186.5 393.1 L187.6 392.2 L188.4 391.5 L189.1 390.8 L190.0 389.8 L191.0 389.0 L192.1 388.5 L193.1 387.4 L194.1 386.7 L195.0 386.4 L195.7 386.9 L196.3 387.2 L196.8 387.8 L197.3 388.2 L198.0 388.8 L198.8 389.3 L199.7 389.8 L200.7 389.7 L201.6 390.2 L202.5 390.1 L203.2 389.8 L203.9 388.9 L204.5 388.0 L205.2 387.4 L206.0 386.8 L207.0 386.6 L208.0 386.4 L209.2 386.5 L210.3 386.2 L211.2 386.5 L212.1 387.2 L212.8 387.9 L213.5 389.0 L214.2 389.9 L215.0 390.8 L215.8 391.5 L216.7 392.1 L217.6 393.0 L218.7 393.1 L220.0 393.8 L221.7 394.1 L223.6 394.4 L225.8 394.9 L227.9 395.3 L230.0 395.5 L232.2 395.6 L234.5 395.8 L236.7 395.8 L238.6 396.0 L240.0 396.1 L240.0 396.25100000000003 Z" fill="#e77a7a" fill-opacity="0.3"/>
<line x1="170.8" y1="396.5" x2="278" y2="396.5" stroke="#dd8f91" stroke-width="1.0"/>
<path d="M171.60000000000002 396.25100000000003 L171.60000000000002 388 M171.60000000000002 394.75100000000003 L172.00 395.30" fill="none" stroke="#e8262a" stroke-width="1.7" stroke-linejoin="round"/>
<path d="M172.0 395.3 L173.9 395.2 L176.6 394.6 L179.8 394.6 L182.7 393.7 L185.0 393.2 L186.5 393.1 L187.6 392.2 L188.4 391.5 L189.1 390.8 L190.0 389.8 L191.0 389.0 L192.1 388.5 L193.1 387.4 L194.1 386.7 L195.0 386.4 L195.7 386.9 L196.3 387.2 L196.8 387.8 L197.3 388.2 L198.0 388.8 L198.8 389.3 L199.7 389.8 L200.7 389.7 L201.6 390.2 L202.5 390.1 L203.2 389.8 L203.9 388.9 L204.5 388.0 L205.2 387.4 L206.0 386.8 L207.0 386.6 L208.0 386.4 L209.2 386.5 L210.3 386.2 L211.2 386.5 L212.1 387.2 L212.8 387.9 L213.5 389.0 L214.2 389.9 L215.0 390.8 L215.8 391.5 L216.7 392.1 L217.6 393.0 L218.7 393.1 L220.0 393.8 L221.7 394.1 L223.6 394.4 L225.8 394.9 L227.9 395.3 L230.0 395.5 L232.2 395.6 L234.5 395.8 L236.7 395.8 L238.6 396.0 L240.0 396.1" fill="none" stroke="#e8262a" stroke-width="0.84" stroke-linejoin="round"/>
<path d="M172.0 395.3 L173.9 395.2 M173.9 395.2 L176.6 394.6 M176.6 394.6 L179.8 394.6 M179.8 394.6 L182.7 393.7 L185.0 393.2 L186.5 393.1 L187.6 392.2 L188.4 391.5 L189.1 390.8 L190.0 389.8 L191.0 389.0 L192.1 388.5 L193.1 387.4 L194.1 386.7 L195.0 386.4 L195.7 386.9 L196.3 387.2 L196.8 387.8 L197.3 388.2 L198.0 388.8 L198.8 389.3 L199.7 389.8 L200.7 389.7 L201.6 390.2 L202.5 390.1 L203.2 389.8 L203.9 388.9 L204.5 388.0 L205.2 387.4 L206.0 386.8 L207.0 386.6 L208.0 386.4 L209.2 386.5 L210.3 386.2 L211.2 386.5 L212.1 387.2 L212.8 387.9 L213.5 389.0 L214.2 389.9 L215.0 390.8 L215.8 391.5 L216.7 392.1 L217.6 393.0 L218.7 393.1 L220.0 393.8 L221.7 394.1 L223.6 394.4 M223.6 394.4 L225.8 394.9 M225.8 394.9 L227.9 395.3 M227.9 395.3 L230.0 395.5 M230.0 395.5 L232.2 395.6 M232.2 395.6 L234.5 395.8 M234.5 395.8 L236.7 395.8 M236.7 395.8 L238.6 396.0 M238.6 396.0 L240.0 396.1" fill="none" stroke="#e8262a" stroke-width="1.4" stroke-linejoin="round" stroke-linecap="round"/>
<path d="M170.8 404.568 L172.0 402.5 L173.4 402.4 L175.4 401.9 L177.7 401.3 L180.0 401.0 L182.0 400.7 L183.8 399.9 L185.5 399.6 L187.2 398.8 L188.7 398.4 L190.0 397.3 L191.1 396.9 L191.9 395.8 L192.6 394.4 L193.3 394.0 L194.0 393.1 L194.7 392.6 L195.5 392.0 L196.2 391.6 L196.9 391.1 L197.5 391.0 L198.0 391.5 L198.5 391.5 L199.0 392.1 L199.4 392.6 L200.0 392.6 L200.7 392.4 L201.5 392.0 L202.3 391.2 L203.1 391.0 L203.8 391.5 L204.3 391.6 L204.7 392.5 L205.1 393.4 L205.5 393.9 L206.0 395.3 L206.5 395.6 L207.0 396.3 L207.5 397.5 L208.1 398.1 L208.8 398.6 L209.5 399.8 L210.3 400.4 L211.2 401.3 L212.1 401.6 L213.0 402.3 L214.0 402.9 L215.2 403.5 L216.3 403.9 L217.3 404.0 L218.0 404.3 L218.0 404.568 Z" fill="#e77a7a" fill-opacity="0.3"/>
<line x1="170.8" y1="404.5" x2="278" y2="404.5" stroke="#dd8f91" stroke-width="1.0"/>
<path d="M171.60000000000002 404.568 L171.60000000000002 396 M171.60000000000002 403.068 L172.00 402.50" fill="none" stroke="#e8262a" stroke-width="1.7" stroke-linejoin="round"/>
<path d="M172.0 402.5 L173.4 402.4 L175.4 401.9 L177.7 401.3 L180.0 401.0 L182.0 400.7 L183.8 399.9 L185.5 399.6 L187.2 398.8 L188.7 398.4 L190.0 397.3 L191.1 396.9 L191.9 395.8 L192.6 394.4 L193.3 394.0 L194.0 393.1 L194.7 392.6 L195.5 392.0 L196.2 391.6 L196.9 391.1 L197.5 391.0 L198.0 391.5 L198.5 391.5 L199.0 392.1 L199.4 392.6 L200.0 392.6 L200.7 392.4 L201.5 392.0 L202.3 391.2 L203.1 391.0 L203.8 391.5 L204.3 391.6 L204.7 392.5 L205.1 393.4 L205.5 393.9 L206.0 395.3 L206.5 395.6 L207.0 396.3 L207.5 397.5 L208.1 398.1 L208.8 398.6 L209.5 399.8 L210.3 400.4 L211.2 401.3 L212.1 401.6 L213.0 402.3 L214.0 402.9 L215.2 403.5 L216.3 403.9 L217.3 404.0 L218.0 404.3" fill="none" stroke="#e8262a" stroke-width="0.84" stroke-linejoin="round"/>
<path d="M172.0 402.5 L173.4 402.4 L175.4 401.9 L177.7 401.3 L180.0 401.0 L182.0 400.7 L183.8 399.9 L185.5 399.6 L187.2 398.8 L188.7 398.4 L190.0 397.3 L191.1 396.9 L191.9 395.8 L192.6 394.4 L193.3 394.0 L194.0 393.1 L194.7 392.6 L195.5 392.0 L196.2 391.6 L196.9 391.1 L197.5 391.0 L198.0 391.5 L198.5 391.5 L199.0 392.1 L199.4 392.6 L200.0 392.6 L200.7 392.4 L201.5 392.0 L202.3 391.2 L203.1 391.0 L203.8 391.5 L204.3 391.6 L204.7 392.5 L205.1 393.4 L205.5 393.9 L206.0 395.3 L206.5 395.6 L207.0 396.3 L207.5 397.5 L208.1 398.1 L208.8 398.6 L209.5 399.8 L210.3 400.4 L211.2 401.3 L212.1 401.6 L213.0 402.3 L214.0 402.9 M214.0 402.9 L215.2 403.5 M215.2 403.5 L216.3 403.9 M216.3 403.9 L217.3 404.0 M217.3 404.0 L218.0 404.3" fill="none" stroke="#e8262a" stroke-width="1.4" stroke-linejoin="round" stroke-linecap="round"/>
<path d="M170.8 412.885 L172.0 411.2 L173.1 411.0 L174.8 410.3 L176.6 409.6 L178.5 409.2 L180.0 408.7 L181.2 407.9 L182.2 407.6 L183.1 407.5 L184.0 406.8 L185.0 406.1 L186.0 405.4 L187.1 404.4 L188.2 403.4 L189.2 402.6 L190.0 401.7 L190.6 401.5 L191.1 401.3 L191.4 400.6 L191.9 400.6 L192.5 400.2 L193.4 399.5 L194.4 398.4 L195.6 397.2 L196.6 396.8 L197.5 396.0 L198.1 395.9 L198.6 396.4 L199.0 396.6 L199.5 397.0 L200.0 397.4 L200.7 398.0 L201.4 399.0 L202.2 399.4 L203.0 400.6 L203.8 401.3 L204.4 402.1 L205.1 403.3 L205.7 404.0 L206.4 405.0 L207.0 406.2 L207.6 406.8 L208.2 408.1 L208.7 408.6 L209.3 410.0 L210.0 410.3 L210.8 411.1 L211.7 411.8 L212.6 412.2 L213.4 412.3 L214.0 412.7 L214.0 412.885 Z" fill="#e77a7a" fill-opacity="0.3"/>
<line x1="170.8" y1="412.5" x2="278" y2="412.5" stroke="#dd8f91" stroke-width="1.0"/>
<path d="M171.60000000000002 412.885 L171.60000000000002 404 M171.60000000000002 411.385 L172.00 411.25" fill="none" stroke="#e8262a" stroke-width="1.7" stroke-linejoin="round"/>
<path d="M172.0 411.2 L173.1 411.0 L174.8 410.3 L176.6 409.6 L178.5 409.2 L180.0 408.7 L181.2 407.9 L182.2 407.6 L183.1 407.5 L184.0 406.8 L185.0 406.1 L186.0 405.4 L187.1 404.4 L188.2 403.4 L189.2 402.6 L190.0 401.7 L190.6 401.5 L191.1 401.3 L191.4 400.6 L191.9 400.6 L192.5 400.2 L193.4 399.5 L194.4 398.4 L195.6 397.2 L196.6 396.8 L197.5 396.0 L198.1 395.9 L198.6 396.4 L199.0 396.6 L199.5 397.0 L200.0 397.4 L200.7 398.0 L201.4 399.0 L202.2 399.4 L203.0 400.6 L203.8 401.3 L204.4 402.1 L205.1 403.3 L205.7 404.0 L206.4 405.0 L207.0 406.2 L207.6 406.8 L208.2 408.1 L208.7 408.6 L209.3 410.0 L210.0 410.3 L210.8 411.1 L211.7 411.8 L212.6 412.2 L213.4 412.3 L214.0 412.7" fill="none" stroke="#e8262a" stroke-width="0.84" stroke-linejoin="round"/>
<path d="M172.0 411.2 L173.1 411.0 M173.1 411.0 L174.8 410.3 L176.6 409.6 L178.5 409.2 L180.0 408.7 L181.2 407.9 L182.2 407.6 L183.1 407.5 L184.0 406.8 L185.0 406.1 L186.0 405.4 L187.1 404.4 L188.2 403.4 L189.2 402.6 L190.0 401.7 L190.6 401.5 L191.1 401.3 L191.4 400.6 L191.9 400.6 L192.5 400.2 L193.4 399.5 L194.4 398.4 L195.6 397.2 L196.6 396.8 L197.5 396.0 L198.1 395.9 L198.6 396.4 L199.0 396.6 L199.5 397.0 L200.0 397.4 L200.7 398.0 L201.4 399.0 L202.2 399.4 L203.0 400.6 L203.8 401.3 L204.4 402.1 L205.1 403.3 L205.7 404.0 L206.4 405.0 L207.0 406.2 L207.6 406.8 L208.2 408.1 L208.7 408.6 L209.3 410.0 L210.0 410.3 L210.8 411.1 M210.8 411.1 L211.7 411.8 M211.7 411.8 L212.6 412.2 M212.6 412.2 L213.4 412.3 M213.4 412.3 L214.0 412.7" fill="none" stroke="#e8262a" stroke-width="1.4" stroke-linejoin="round" stroke-linecap="round"/>
<path d="M170.8 421.202 L172.0 418.8 L173.1 418.4 L174.8 417.6 L176.6 417.4 L178.5 415.8 L180.0 415.9 L181.2 414.6 L182.3 414.5 L183.2 413.5 L184.1 412.7 L185.0 413.1 L185.9 411.2 L186.7 411.7 L187.5 409.7 L188.2 410.2 L189.0 408.5 L189.7 408.5 L190.4 408.2 L191.0 407.9 L191.7 407.2 L192.5 407.6 L193.4 406.4 L194.5 407.0 L195.6 406.1 L196.6 405.1 L197.5 404.8 L198.2 404.5 L198.7 404.7 L199.1 405.6 L199.5 405.9 L200.0 406.1 L200.5 406.8 L201.0 406.4 L201.5 406.9 L202.0 408.0 L202.5 408.7 L203.0 410.2 L203.4 409.8 L203.9 411.0 L204.4 412.4 L205.0 412.6 L205.7 414.2 L206.4 416.3 L207.2 417.1 L208.0 418.9 L208.8 420.0 L209.5 420.3 L210.2 420.5 L211.0 420.5 L211.6 421.1 L212.0 421.0 L212.0 421.202 Z" fill="#7b7be0" fill-opacity="0.34"/>
<line x1="170.8" y1="421.5" x2="278" y2="421.5" stroke="#8b8be0" stroke-width="1.0"/>
<path d="M171.60000000000002 421.202 L171.60000000000002 408 M171.60000000000002 419.702 L172.00 418.75" fill="none" stroke="#1c1cf0" stroke-width="1.8" stroke-linejoin="round"/>
<path d="M172.0 418.8 L173.1 418.4 L174.8 417.6 L176.6 417.4 L178.5 415.8 L180.0 415.9 L181.2 414.6 L182.3 414.5 L183.2 413.5 L184.1 412.7 L185.0 413.1 L185.9 411.2 L186.7 411.7 L187.5 409.7 L188.2 410.2 L189.0 408.5 L189.7 408.5 L190.4 408.2 L191.0 407.9 L191.7 407.2 L192.5 407.6 L193.4 406.4 L194.5 407.0 L195.6 406.1 L196.6 405.1 L197.5 404.8 L198.2 404.5 L198.7 404.7 L199.1 405.6 L199.5 405.9 L200.0 406.1 L200.5 406.8 L201.0 406.4 L201.5 406.9 L202.0 408.0 L202.5 408.7 L203.0 410.2 L203.4 409.8 L203.9 411.0 L204.4 412.4 L205.0 412.6 L205.7 414.2 L206.4 416.3 L207.2 417.1 L208.0 418.9 L208.8 420.0 L209.5 420.3 L210.2 420.5 L211.0 420.5 L211.6 421.1 L212.0 421.0" fill="none" stroke="#1c1cf0" stroke-width="1.08" stroke-linejoin="round"/>
<path d="M172.0 418.8 L173.1 418.4 L174.8 417.6 L176.6 417.4 L178.5 415.8 L180.0 415.9 L181.2 414.6 L182.3 414.5 L183.2 413.5 L184.1 412.7 L185.0 413.1 L185.9 411.2 L186.7 411.7 L187.5 409.7 L188.2 410.2 L189.0 408.5 L189.7 408.5 L190.4 408.2 L191.0 407.9 L191.7 407.2 L192.5 407.6 L193.4 406.4 L194.5 407.0 L195.6 406.1 L196.6 405.1 L197.5 404.8 L198.2 404.5 L198.7 404.7 L199.1 405.6 L199.5 405.9 L200.0 406.1 L200.5 406.8 L201.0 406.4 L201.5 406.9 L202.0 408.0 L202.5 408.7 L203.0 410.2 L203.4 409.8 L203.9 411.0 L204.4 412.4 L205.0 412.6 L205.7 414.2 L206.4 416.3 L207.2 417.1 L208.0 418.9 L208.8 420.0 M208.8 420.0 L209.5 420.3 M209.5 420.3 L210.2 420.5 M210.2 420.5 L211.0 420.5 M211.0 420.5 L211.6 421.1 M211.6 421.1 L212.0 421.0" fill="none" stroke="#1c1cf0" stroke-width="1.8" stroke-linejoin="round" stroke-linecap="round"/>
<path d="M170.8 429.519 L172.0 426.2 L172.8 425.5 L173.9 425.1 L175.2 423.7 L176.6 422.9 L178.0 422.1 L179.4 421.7 L180.9 420.2 L182.4 418.9 L183.8 418.6 L185.0 417.7 L186.0 417.4 L186.8 416.3 L187.6 416.1 L188.3 415.8 L189.0 415.4 L189.7 415.4 L190.4 414.9 L191.1 415.8 L191.8 415.2 L192.5 415.4 L193.2 415.5 L193.9 415.7 L194.6 416.0 L195.3 416.0 L196.0 417.3 L196.8 417.7 L197.6 417.6 L198.4 419.4 L199.3 420.0 L200.0 420.7 L200.7 420.3 L201.3 421.0 L201.8 421.9 L202.4 423.2 L203.0 423.2 L203.6 424.8 L204.2 424.8 L204.8 425.3 L205.4 426.4 L206.2 427.9 L207.2 428.2 L208.3 428.6 L209.5 428.5 L210.7 428.9 L212.0 429.2 L213.3 429.4 L214.8 429.5 L216.2 429.1 L217.6 429.2 L219.0 428.9 L220.3 428.9 L221.5 428.7 L222.7 428.2 L223.9 428.8 L225.0 428.7 L226.1 428.4 L227.1 428.9 L228.0 428.4 L229.0 429.1 L230.0 428.7 L231.1 429.0 L232.2 429.0 L233.4 429.4 L234.3 429.5 L235.0 429.4 L235.0 429.519 Z" fill="#7b7be0" fill-opacity="0.34"/>
<line x1="170.8" y1="429.5" x2="278" y2="429.5" stroke="#8b8be0" stroke-width="1.0"/>
<path d="M171.60000000000002 429.519 L171.60000000000002 420 M171.60000000000002 428.019 L172.00 426.25" fill="none" stroke="#1c1cf0" stroke-width="1.8" stroke-linejoin="round"/>
<path d="M172.0 426.2 L172.8 425.5 L173.9 425.1 L175.2 423.7 L176.6 422.9 L178.0 422.1 L179.4 421.7 L180.9 420.2 L182.4 418.9 L183.8 418.6 L185.0 417.7 L186.0 417.4 L186.8 416.3 L187.6 416.1 L188.3 415.8 L189.0 415.4 L189.7 415.4 L190.4 414.9 L191.1 415.8 L191.8 415.2 L192.5 415.4 L193.2 415.5 L193.9 415.7 L194.6 416.0 L195.3 416.0 L196.0 417.3 L196.8 417.7 L197.6 417.6 L198.4 419.4 L199.3 420.0 L200.0 420.7 L200.7 420.3 L201.3 421.0 L201.8 421.9 L202.4 423.2 L203.0 423.2 L203.6 424.8 L204.2 424.8 L204.8 425.3 L205.4 426.4 L206.2 427.9 L207.2 428.2 L208.3 428.6 L209.5 428.5 L210.7 428.9 L212.0 429.2 L213.3 429.4 L214.8 429.5 L216.2 429.1 L217.6 429.2 L219.0 428.9 L220.3 428.9 L221.5 428.7 L222.7 428.2 L223.9 428.8 L225.0 428.7 L226.1 428.4 L227.1 428.9 L228.0 428.4 L229.0 429.1 L230.0 428.7 L231.1 429.0 L232.2 429.0 L233.4 429.4 L234.3 429.5 L235.0 429.4" fill="none" stroke="#1c1cf0" stroke-width="1.08" stroke-linejoin="round"/>
<path d="M172.0 426.2 L172.8 425.5 L173.9 425.1 L175.2 423.7 L176.6 422.9 L178.0 422.1 L179.4 421.7 L180.9 420.2 L182.4 418.9 L183.8 418.6 L185.0 417.7 L186.0 417.4 L186.8 416.3 L187.6 416.1 L188.3 415.8 L189.0 415.4 L189.7 415.4 L190.4 414.9 L191.1 415.8 L191.8 415.2 L192.5 415.4 L193.2 415.5 L193.9 415.7 L194.6 416.0 L195.3 416.0 L196.0 417.3 L196.8 417.7 L197.6 417.6 L198.4 419.4 L199.3 420.0 L200.0 420.7 L200.7 420.3 L201.3 421.0 L201.8 421.9 L202.4 423.2 L203.0 423.2 L203.6 424.8 L204.2 424.8 L204.8 425.3 L205.4 426.4 L206.2 427.9 M206.2 427.9 L207.2 428.2 M207.2 428.2 L208.3 428.6 M208.3 428.6 L209.5 428.5 M209.5 428.5 L210.7 428.9 M210.7 428.9 L212.0 429.2 M212.0 429.2 L213.3 429.4 M213.3 429.4 L214.8 429.5 M214.8 429.5 L216.2 429.1 M216.2 429.1 L217.6 429.2 M217.6 429.2 L219.0 428.9 M219.0 428.9 L220.3 428.9 M220.3 428.9 L221.5 428.7 M221.5 428.7 L222.7 428.2 M222.7 428.2 L223.9 428.8 M223.9 428.8 L225.0 428.7 M225.0 428.7 L226.1 428.4 M226.1 428.4 L227.1 428.9 M227.1 428.9 L228.0 428.4 M228.0 428.4 L229.0 429.1 M229.0 429.1 L230.0 428.7 M230.0 428.7 L231.1 429.0 M231.1 429.0 L232.2 429.0 M232.2 429.0 L233.4 429.4 M233.4 429.4 L234.3 429.5 M234.3 429.5 L235.0 429.4" fill="none" stroke="#1c1cf0" stroke-width="1.8" stroke-linejoin="round" stroke-linecap="round"/>
<path d="M170.8 437.836 L172.0 435.0 L173.1 435.0 L174.8 433.3 L176.6 433.5 L178.5 432.2 L180.0 432.3 L181.2 431.6 L182.2 430.6 L183.1 430.2 L184.0 429.9 L185.0 430.1 L186.0 430.0 L187.1 428.9 L188.1 429.0 L189.1 428.6 L190.0 427.9 L190.8 426.9 L191.6 426.5 L192.3 426.5 L193.1 426.1 L193.8 426.4 L194.4 425.9 L195.0 426.9 L195.7 427.2 L196.3 428.2 L197.0 428.6 L197.8 428.8 L198.6 429.9 L199.4 431.1 L200.3 432.1 L201.2 431.9 L202.2 433.5 L203.3 434.7 L204.3 435.4 L205.3 436.1 L206.2 437.0 L207.1 437.5 L208.0 437.7 L208.8 437.8 L209.5 437.7 L210.0 437.8 L210.0 437.836 Z" fill="#7b7be0" fill-opacity="0.34"/>
<line x1="170.8" y1="437.5" x2="278" y2="437.5" stroke="#8b8be0" stroke-width="1.0"/>
<path d="M171.60000000000002 437.836 L171.60000000000002 428 M171.60000000000002 436.336 L172.00 435.00" fill="none" stroke="#1c1cf0" stroke-width="1.8" stroke-linejoin="round"/>
<path d="M172.0 435.0 L173.1 435.0 L174.8 433.3 L176.6 433.5 L178.5 432.2 L180.0 432.3 L181.2 431.6 L182.2 430.6 L183.1 430.2 L184.0 429.9 L185.0 430.1 L186.0 430.0 L187.1 428.9 L188.1 429.0 L189.1 428.6 L190.0 427.9 L190.8 426.9 L191.6 426.5 L192.3 426.5 L193.1 426.1 L193.8 426.4 L194.4 425.9 L195.0 426.9 L195.7 427.2 L196.3 428.2 L197.0 428.6 L197.8 428.8 L198.6 429.9 L199.4 431.1 L200.3 432.1 L201.2 431.9 L202.2 433.5 L203.3 434.7 L204.3 435.4 L205.3 436.1 L206.2 437.0 L207.1 437.5 L208.0 437.7 L208.8 437.8 L209.5 437.7 L210.0 437.8" fill="none" stroke="#1c1cf0" stroke-width="1.08" stroke-linejoin="round"/>
<path d="M172.0 435.0 L173.1 435.0 L174.8 433.3 L176.6 433.5 L178.5 432.2 L180.0 432.3 L181.2 431.6 L182.2 430.6 L183.1 430.2 L184.0 429.9 L185.0 430.1 L186.0 430.0 L187.1 428.9 L188.1 429.0 L189.1 428.6 L190.0 427.9 L190.8 426.9 L191.6 426.5 L192.3 426.5 L193.1 426.1 L193.8 426.4 L194.4 425.9 L195.0 426.9 L195.7 427.2 L196.3 428.2 L197.0 428.6 L197.8 428.8 L198.6 429.9 L199.4 431.1 L200.3 432.1 L201.2 431.9 L202.2 433.5 L203.3 434.7 L204.3 435.4 L205.3 436.1 M205.3 436.1 L206.2 437.0 M206.2 437.0 L207.1 437.5 M207.1 437.5 L208.0 437.7 M208.0 437.7 L208.8 437.8 M208.8 437.8 L209.5 437.7 M209.5 437.7 L210.0 437.8" fill="none" stroke="#1c1cf0" stroke-width="1.8" stroke-linejoin="round" stroke-linecap="round"/>
<path d="M170.8 446.153 L172.0 443.8 L173.1 443.9 L174.8 443.3 L176.6 442.3 L178.5 440.6 L180.0 440.9 L181.2 439.6 L182.2 439.1 L183.1 439.0 L184.0 439.0 L185.0 437.6 L186.0 436.7 L187.1 436.7 L188.1 435.7 L189.1 435.6 L190.0 434.3 L190.8 433.9 L191.6 434.3 L192.3 432.9 L193.1 433.0 L193.8 433.6 L194.4 433.7 L195.1 433.9 L195.7 432.9 L196.4 433.3 L197.0 433.5 L197.6 434.1 L198.2 434.7 L198.8 434.9 L199.4 434.6 L200.0 434.6 L200.7 435.9 L201.3 437.2 L202.0 437.9 L202.8 438.9 L203.5 439.4 L204.3 441.5 L205.1 442.3 L205.9 443.5 L206.7 444.0 L207.5 445.3 L208.3 445.3 L209.1 445.6 L209.9 445.9 L210.5 445.9 L211.0 446.0 L211.0 446.153 Z" fill="#7b7be0" fill-opacity="0.34"/>
<line x1="170.8" y1="446.5" x2="278" y2="446.5" stroke="#8b8be0" stroke-width="1.0"/>
<path d="M171.60000000000002 446.153 L171.60000000000002 437 M171.60000000000002 444.653 L172.00 443.75" fill="none" stroke="#1c1cf0" stroke-width="1.8" stroke-linejoin="round"/>
<path d="M172.0 443.8 L173.1 443.9 L174.8 443.3 L176.6 442.3 L178.5 440.6 L180.0 440.9 L181.2 439.6 L182.2 439.1 L183.1 439.0 L184.0 439.0 L185.0 437.6 L186.0 436.7 L187.1 436.7 L188.1 435.7 L189.1 435.6 L190.0 434.3 L190.8 433.9 L191.6 434.3 L192.3 432.9 L193.1 433.0 L193.8 433.6 L194.4 433.7 L195.1 433.9 L195.7 432.9 L196.4 433.3 L197.0 433.5 L197.6 434.1 L198.2 434.7 L198.8 434.9 L199.4 434.6 L200.0 434.6 L200.7 435.9 L201.3 437.2 L202.0 437.9 L202.8 438.9 L203.5 439.4 L204.3 441.5 L205.1 442.3 L205.9 443.5 L206.7 444.0 L207.5 445.3 L208.3 445.3 L209.1 445.6 L209.9 445.9 L210.5 445.9 L211.0 446.0" fill="none" stroke="#1c1cf0" stroke-width="1.08" stroke-linejoin="round"/>
<path d="M172.0 443.8 L173.1 443.9 L174.8 443.3 L176.6 442.3 L178.5 440.6 L180.0 440.9 L181.2 439.6 L182.2 439.1 L183.1 439.0 L184.0 439.0 L185.0 437.6 L186.0 436.7 L187.1 436.7 L188.1 435.7 L189.1 435.6 L190.0 434.3 L190.8 433.9 L191.6 434.3 L192.3 432.9 L193.1 433.0 L193.8 433.6 L194.4 433.7 L195.1 433.9 L195.7 432.9 L196.4 433.3 L197.0 433.5 L197.6 434.1 L198.2 434.7 L198.8 434.9 L199.4 434.6 L200.0 434.6 L200.7 435.9 L201.3 437.2 L202.0 437.9 L202.8 438.9 L203.5 439.4 L204.3 441.5 L205.1 442.3 L205.9 443.5 L206.7 444.0 L207.5 445.3 M207.5 445.3 L208.3 445.3 M208.3 445.3 L209.1 445.6 M209.1 445.6 L209.9 445.9 M209.9 445.9 L210.5 445.9 M210.5 445.9 L211.0 446.0" fill="none" stroke="#1c1cf0" stroke-width="1.8" stroke-linejoin="round" stroke-linecap="round"/>
<path d="M170.8 454.47 L172.0 451.2 L173.1 450.9 L174.6 451.1 L176.5 450.6 L178.3 450.2 L180.0 449.4 L181.6 448.6 L183.1 448.7 L184.7 447.9 L186.1 448.2 L187.5 447.6 L188.7 446.7 L189.9 446.0 L191.0 446.4 L192.0 445.7 L193.0 445.5 L194.0 445.0 L194.9 444.0 L195.9 444.4 L196.7 443.5 L197.5 443.3 L198.2 443.3 L198.8 444.1 L199.4 444.7 L199.9 445.7 L200.5 445.7 L201.1 446.9 L201.8 447.8 L202.4 448.5 L203.1 449.8 L203.8 450.6 L204.4 451.2 L205.1 450.8 L205.7 451.1 L206.4 452.1 L207.0 452.2 L207.6 452.6 L208.2 453.2 L208.7 453.1 L209.3 453.7 L210.0 453.7 L210.8 453.9 L211.7 454.1 L212.6 454.2 L213.4 454.2 L214.0 454.3 L214.0 454.47 Z" fill="#7b7be0" fill-opacity="0.34"/>
<line x1="170.8" y1="454.5" x2="278" y2="454.5" stroke="#8b8be0" stroke-width="1.0"/>
<path d="M171.60000000000002 454.47 L171.60000000000002 445 M171.60000000000002 452.97 L172.00 451.25" fill="none" stroke="#1c1cf0" stroke-width="1.8" stroke-linejoin="round"/>
<path d="M172.0 451.2 L173.1 450.9 L174.6 451.1 L176.5 450.6 L178.3 450.2 L180.0 449.4 L181.6 448.6 L183.1 448.7 L184.7 447.9 L186.1 448.2 L187.5 447.6 L188.7 446.7 L189.9 446.0 L191.0 446.4 L192.0 445.7 L193.0 445.5 L194.0 445.0 L194.9 444.0 L195.9 444.4 L196.7 443.5 L197.5 443.3 L198.2 443.3 L198.8 444.1 L199.4 444.7 L199.9 445.7 L200.5 445.7 L201.1 446.9 L201.8 447.8 L202.4 448.5 L203.1 449.8 L203.8 450.6 L204.4 451.2 L205.1 450.8 L205.7 451.1 L206.4 452.1 L207.0 452.2 L207.6 452.6 L208.2 453.2 L208.7 453.1 L209.3 453.7 L210.0 453.7 L210.8 453.9 L211.7 454.1 L212.6 454.2 L213.4 454.2 L214.0 454.3" fill="none" stroke="#1c1cf0" stroke-width="1.08" stroke-linejoin="round"/>
<path d="M172.0 451.2 L173.1 450.9 L174.6 451.1 L176.5 450.6 L178.3 450.2 L180.0 449.4 L181.6 448.6 L183.1 448.7 L184.7 447.9 L186.1 448.2 L187.5 447.6 L188.7 446.7 L189.9 446.0 L191.0 446.4 L192.0 445.7 L193.0 445.5 L194.0 445.0 L194.9 444.0 L195.9 444.4 L196.7 443.5 L197.5 443.3 L198.2 443.3 L198.8 444.1 L199.4 444.7 L199.9 445.7 L200.5 445.7 L201.1 446.9 L201.8 447.8 L202.4 448.5 L203.1 449.8 L203.8 450.6 L204.4 451.2 L205.1 450.8 L205.7 451.1 L206.4 452.1 L207.0 452.2 L207.6 452.6 M207.6 452.6 L208.2 453.2 M208.2 453.2 L208.7 453.1 M208.7 453.1 L209.3 453.7 M209.3 453.7 L210.0 453.7 M210.0 453.7 L210.8 453.9 M210.8 453.9 L211.7 454.1 M211.7 454.1 L212.6 454.2 M212.6 454.2 L213.4 454.2 M213.4 454.2 L214.0 454.3" fill="none" stroke="#1c1cf0" stroke-width="1.8" stroke-linejoin="round" stroke-linecap="round"/>
<path d="M170.8 462.78700000000003 L172.0 460.0 L173.1 459.2 L174.6 459.5 L176.5 459.2 L178.3 458.1 L180.0 456.8 L181.6 457.5 L183.1 456.5 L184.7 456.0 L186.1 455.9 L187.5 455.2 L188.7 454.6 L189.9 453.2 L191.0 452.6 L192.0 451.8 L193.0 451.2 L194.0 451.3 L194.9 450.1 L195.8 450.1 L196.7 449.9 L197.5 450.3 L198.3 450.4 L198.9 449.9 L199.6 450.6 L200.3 450.9 L201.0 452.3 L201.8 453.0 L202.6 452.5 L203.4 453.0 L204.2 453.9 L205.0 455.0 L205.8 455.6 L206.6 457.1 L207.4 457.8 L208.2 457.8 L209.0 459.6 L209.7 459.9 L210.4 460.3 L211.1 461.2 L211.8 462.3 L212.5 462.7 L213.3 462.8 L214.1 462.8 L214.9 462.8 L215.5 462.8 L216.0 462.8 L216.0 462.78700000000003 Z" fill="#7b7be0" fill-opacity="0.34"/>
<line x1="170.8" y1="462.5" x2="278" y2="462.5" stroke="#8b8be0" stroke-width="1.0"/>
<path d="M171.60000000000002 462.78700000000003 L171.60000000000002 453 M171.60000000000002 461.28700000000003 L172.00 460.00" fill="none" stroke="#1c1cf0" stroke-width="1.8" stroke-linejoin="round"/>
<path d="M172.0 460.0 L173.1 459.2 L174.6 459.5 L176.5 459.2 L178.3 458.1 L180.0 456.8 L181.6 457.5 L183.1 456.5 L184.7 456.0 L186.1 455.9 L187.5 455.2 L188.7 454.6 L189.9 453.2 L191.0 452.6 L192.0 451.8 L193.0 451.2 L194.0 451.3 L194.9 450.1 L195.8 450.1 L196.7 449.9 L197.5 450.3 L198.3 450.4 L198.9 449.9 L199.6 450.6 L200.3 450.9 L201.0 452.3 L201.8 453.0 L202.6 452.5 L203.4 453.0 L204.2 453.9 L205.0 455.0 L205.8 455.6 L206.6 457.1 L207.4 457.8 L208.2 457.8 L209.0 459.6 L209.7 459.9 L210.4 460.3 L211.1 461.2 L211.8 462.3 L212.5 462.7 L213.3 462.8 L214.1 462.8 L214.9 462.8 L215.5 462.8 L216.0 462.8" fill="none" stroke="#1c1cf0" stroke-width="1.08" stroke-linejoin="round"/>
<path d="M172.0 460.0 L173.1 459.2 L174.6 459.5 L176.5 459.2 L178.3 458.1 L180.0 456.8 L181.6 457.5 L183.1 456.5 L184.7 456.0 L186.1 455.9 L187.5 455.2 L188.7 454.6 L189.9 453.2 L191.0 452.6 L192.0 451.8 L193.0 451.2 L194.0 451.3 L194.9 450.1 L195.8 450.1 L196.7 449.9 L197.5 450.3 L198.3 450.4 L198.9 449.9 L199.6 450.6 L200.3 450.9 L201.0 452.3 L201.8 453.0 L202.6 452.5 L203.4 453.0 L204.2 453.9 L205.0 455.0 L205.8 455.6 L206.6 457.1 L207.4 457.8 L208.2 457.8 L209.0 459.6 L209.7 459.9 L210.4 460.3 L211.1 461.2 M211.1 461.2 L211.8 462.3 M211.8 462.3 L212.5 462.7 M212.5 462.7 L213.3 462.8 M213.3 462.8 L214.1 462.8 M214.1 462.8 L214.9 462.8 M214.9 462.8 L215.5 462.8 M215.5 462.8 L216.0 462.8" fill="none" stroke="#1c1cf0" stroke-width="1.8" stroke-linejoin="round" stroke-linecap="round"/>
<path d="M170.8 471.10400000000004 L172.0 468.8 L172.7 468.3 L173.6 467.7 L174.7 467.7 L175.9 467.0 L177.0 465.6 L178.1 465.6 L179.3 464.5 L180.4 464.0 L181.5 462.8 L182.5 462.3 L183.3 462.0 L184.0 461.5 L184.7 460.8 L185.3 459.7 L186.0 459.1 L186.8 458.7 L187.6 458.8 L188.4 457.8 L189.2 457.9 L190.0 457.2 L190.7 457.7 L191.4 458.0 L192.1 458.4 L192.8 458.1 L193.5 459.2 L194.3 459.9 L195.1 460.6 L195.9 461.1 L196.7 461.8 L197.5 462.8 L198.2 463.2 L198.9 463.6 L199.6 464.6 L200.3 465.6 L201.0 466.8 L201.8 467.1 L202.6 468.0 L203.4 469.0 L204.2 469.2 L205.0 470.2 L205.9 470.3 L206.8 470.6 L207.7 470.7 L208.5 470.8 L209.0 471.0 L209.0 471.10400000000004 Z" fill="#000" fill-opacity="0.19"/>
<line x1="170.8" y1="471.5" x2="278" y2="471.5" stroke="#878787" stroke-width="1.0"/>
<path d="M171.60000000000002 471.10400000000004 L171.60000000000002 462 M171.60000000000002 469.60400000000004 L172.00 468.75" fill="none" stroke="#111" stroke-width="1.7" stroke-linejoin="round"/>
<path d="M172.0 468.8 L172.7 468.3 L173.6 467.7 L174.7 467.7 L175.9 467.0 L177.0 465.6 L178.1 465.6 L179.3 464.5 L180.4 464.0 L181.5 462.8 L182.5 462.3 L183.3 462.0 L184.0 461.5 L184.7 460.8 L185.3 459.7 L186.0 459.1 L186.8 458.7 L187.6 458.8 L188.4 457.8 L189.2 457.9 L190.0 457.2 L190.7 457.7 L191.4 458.0 L192.1 458.4 L192.8 458.1 L193.5 459.2 L194.3 459.9 L195.1 460.6 L195.9 461.1 L196.7 461.8 L197.5 462.8 L198.2 463.2 L198.9 463.6 L199.6 464.6 L200.3 465.6 L201.0 466.8 L201.8 467.1 L202.6 468.0 L203.4 469.0 L204.2 469.2 L205.0 470.2 L205.9 470.3 L206.8 470.6 L207.7 470.7 L208.5 470.8 L209.0 471.0" fill="none" stroke="#111" stroke-width="1.02" stroke-linejoin="round"/>
<path d="M172.0 468.8 L172.7 468.3 L173.6 467.7 L174.7 467.7 L175.9 467.0 L177.0 465.6 L178.1 465.6 L179.3 464.5 L180.4 464.0 L181.5 462.8 L182.5 462.3 L183.3 462.0 L184.0 461.5 L184.7 460.8 L185.3 459.7 L186.0 459.1 L186.8 458.7 L187.6 458.8 L188.4 457.8 L189.2 457.9 L190.0 457.2 L190.7 457.7 L191.4 458.0 L192.1 458.4 L192.8 458.1 L193.5 459.2 L194.3 459.9 L195.1 460.6 L195.9 461.1 L196.7 461.8 L197.5 462.8 L198.2 463.2 L198.9 463.6 L199.6 464.6 L200.3 465.6 L201.0 466.8 L201.8 467.1 L202.6 468.0 L203.4 469.0 L204.2 469.2 M204.2 469.2 L205.0 470.2 M205.0 470.2 L205.9 470.3 M205.9 470.3 L206.8 470.6 M206.8 470.6 L207.7 470.7 M207.7 470.7 L208.5 470.8 M208.5 470.8 L209.0 471.0" fill="none" stroke="#111" stroke-width="1.7" stroke-linejoin="round" stroke-linecap="round"/>
<path d="M170.8 479.42100000000005 L172.0 476.2 L172.8 475.6 L174.0 474.4 L175.3 473.9 L176.7 472.5 L178.0 472.3 L179.2 471.5 L180.4 470.5 L181.6 470.1 L182.7 469.1 L183.8 468.8 L184.7 468.6 L185.5 468.5 L186.4 469.5 L187.2 469.8 L188.0 470.0 L188.9 470.3 L189.8 471.2 L190.8 471.4 L191.7 472.2 L192.5 472.6 L193.3 473.3 L193.9 473.8 L194.6 474.3 L195.3 474.6 L196.0 475.3 L196.8 475.8 L197.6 477.3 L198.4 477.9 L199.2 478.3 L200.0 478.9 L200.9 478.9 L201.8 479.2 L202.7 479.2 L203.5 479.3 L204.0 479.4 L204.0 479.42100000000005 Z" fill="#000" fill-opacity="0.19"/>
<line x1="170.8" y1="479.5" x2="278" y2="479.5" stroke="#878787" stroke-width="1.0"/>
<path d="M171.60000000000002 479.42100000000005 L171.60000000000002 470 M171.60000000000002 477.92100000000005 L172.00 476.25" fill="none" stroke="#111" stroke-width="1.7" stroke-linejoin="round"/>
<path d="M172.0 476.2 L172.8 475.6 L174.0 474.4 L175.3 473.9 L176.7 472.5 L178.0 472.3 L179.2 471.5 L180.4 470.5 L181.6 470.1 L182.7 469.1 L183.8 468.8 L184.7 468.6 L185.5 468.5 L186.4 469.5 L187.2 469.8 L188.0 470.0 L188.9 470.3 L189.8 471.2 L190.8 471.4 L191.7 472.2 L192.5 472.6 L193.3 473.3 L193.9 473.8 L194.6 474.3 L195.3 474.6 L196.0 475.3 L196.8 475.8 L197.6 477.3 L198.4 477.9 L199.2 478.3 L200.0 478.9 L200.9 478.9 L201.8 479.2 L202.7 479.2 L203.5 479.3 L204.0 479.4" fill="none" stroke="#111" stroke-width="1.02" stroke-linejoin="round"/>
<path d="M172.0 476.2 L172.8 475.6 L174.0 474.4 L175.3 473.9 L176.7 472.5 L178.0 472.3 L179.2 471.5 L180.4 470.5 L181.6 470.1 L182.7 469.1 L183.8 468.8 L184.7 468.6 L185.5 468.5 L186.4 469.5 L187.2 469.8 L188.0 470.0 L188.9 470.3 L189.8 471.2 L190.8 471.4 L191.7 472.2 L192.5 472.6 L193.3 473.3 L193.9 473.8 L194.6 474.3 L195.3 474.6 L196.0 475.3 L196.8 475.8 L197.6 477.3 L198.4 477.9 M198.4 477.9 L199.2 478.3 M199.2 478.3 L200.0 478.9 M200.0 478.9 L200.9 478.9 M200.9 478.9 L201.8 479.2 M201.8 479.2 L202.7 479.2 M202.7 479.2 L203.5 479.3 M203.5 479.3 L204.0 479.4" fill="none" stroke="#111" stroke-width="1.7" stroke-linejoin="round" stroke-linecap="round"/>
<path d="M170.8 487.738 L172.0 485.0 L172.8 484.6 L173.9 483.6 L175.2 482.6 L176.6 480.9 L178.0 480.2 L179.4 479.3 L180.9 478.1 L182.4 477.3 L183.8 476.5 L185.0 476.5 L186.0 476.6 L186.8 476.8 L187.6 477.4 L188.3 477.8 L189.0 478.2 L189.7 478.6 L190.4 478.8 L191.1 478.8 L191.8 479.5 L192.5 479.9 L193.2 480.9 L193.9 481.4 L194.6 482.1 L195.3 482.3 L196.0 483.4 L196.8 484.6 L197.6 485.6 L198.4 486.2 L199.2 486.9 L200.0 487.5 L200.9 487.7 L201.8 487.7 L202.7 487.7 L203.5 487.7 L204.0 487.7 L204.0 487.738 Z" fill="#000" fill-opacity="0.19"/>
<line x1="170.8" y1="487.5" x2="278" y2="487.5" stroke="#878787" stroke-width="1.0"/>
<path d="M171.60000000000002 487.738 L171.60000000000002 478 M171.60000000000002 486.238 L172.00 485.00" fill="none" stroke="#111" stroke-width="1.7" stroke-linejoin="round"/>
<path d="M172.0 485.0 L172.8 484.6 L173.9 483.6 L175.2 482.6 L176.6 480.9 L178.0 480.2 L179.4 479.3 L180.9 478.1 L182.4 477.3 L183.8 476.5 L185.0 476.5 L186.0 476.6 L186.8 476.8 L187.6 477.4 L188.3 477.8 L189.0 478.2 L189.7 478.6 L190.4 478.8 L191.1 478.8 L191.8 479.5 L192.5 479.9 L193.2 480.9 L193.9 481.4 L194.6 482.1 L195.3 482.3 L196.0 483.4 L196.8 484.6 L197.6 485.6 L198.4 486.2 L199.2 486.9 L200.0 487.5 L200.9 487.7 L201.8 487.7 L202.7 487.7 L203.5 487.7 L204.0 487.7" fill="none" stroke="#111" stroke-width="1.02" stroke-linejoin="round"/>
<path d="M172.0 485.0 L172.8 484.6 L173.9 483.6 L175.2 482.6 L176.6 480.9 L178.0 480.2 L179.4 479.3 L180.9 478.1 L182.4 477.3 L183.8 476.5 L185.0 476.5 L186.0 476.6 L186.8 476.8 L187.6 477.4 L188.3 477.8 L189.0 478.2 L189.7 478.6 L190.4 478.8 L191.1 478.8 L191.8 479.5 L192.5 479.9 L193.2 480.9 L193.9 481.4 L194.6 482.1 L195.3 482.3 L196.0 483.4 L196.8 484.6 L197.6 485.6 L198.4 486.2 M198.4 486.2 L199.2 486.9 M199.2 486.9 L200.0 487.5 M200.0 487.5 L200.9 487.7 M200.9 487.7 L201.8 487.7 M201.8 487.7 L202.7 487.7 M202.7 487.7 L203.5 487.7 M203.5 487.7 L204.0 487.7" fill="none" stroke="#111" stroke-width="1.7" stroke-linejoin="round" stroke-linecap="round"/>
<path d="M170.8 496.055 L172.0 493.5 L173.1 493.1 L174.7 492.3 L176.6 491.8 L178.4 490.4 L180.0 490.2 L181.3 489.6 L182.5 489.0 L183.6 488.2 L184.7 488.3 L185.8 487.9 L187.0 487.3 L188.2 486.6 L189.4 485.8 L190.5 485.0 L191.5 485.6 L192.3 485.3 L193.1 485.7 L193.7 486.7 L194.3 487.4 L195.0 488.4 L195.6 488.7 L196.3 489.2 L196.9 489.8 L197.6 491.2 L198.4 491.2 L199.4 492.3 L200.6 493.6 L201.9 494.4 L203.1 495.2 L204.2 495.7 L205.1 496.1 L206.0 496.1 L206.8 496.1 L207.5 496.1 L208.0 496.1 L208.0 496.055 Z" fill="#000" fill-opacity="0.19"/>
<line x1="170.8" y1="496.5" x2="278" y2="496.5" stroke="#878787" stroke-width="1.0"/>
<path d="M171.60000000000002 496.055 L171.60000000000002 487 M171.60000000000002 494.555 L172.00 493.50" fill="none" stroke="#111" stroke-width="1.7" stroke-linejoin="round"/>
<path d="M172.0 493.5 L173.1 493.1 L174.7 492.3 L176.6 491.8 L178.4 490.4 L180.0 490.2 L181.3 489.6 L182.5 489.0 L183.6 488.2 L184.7 488.3 L185.8 487.9 L187.0 487.3 L188.2 486.6 L189.4 485.8 L190.5 485.0 L191.5 485.6 L192.3 485.3 L193.1 485.7 L193.7 486.7 L194.3 487.4 L195.0 488.4 L195.6 488.7 L196.3 489.2 L196.9 489.8 L197.6 491.2 L198.4 491.2 L199.4 492.3 L200.6 493.6 L201.9 494.4 L203.1 495.2 L204.2 495.7 L205.1 496.1 L206.0 496.1 L206.8 496.1 L207.5 496.1 L208.0 496.1" fill="none" stroke="#111" stroke-width="1.02" stroke-linejoin="round"/>
<path d="M172.0 493.5 L173.1 493.1 L174.7 492.3 L176.6 491.8 L178.4 490.4 L180.0 490.2 L181.3 489.6 L182.5 489.0 L183.6 488.2 L184.7 488.3 L185.8 487.9 L187.0 487.3 L188.2 486.6 L189.4 485.8 L190.5 485.0 L191.5 485.6 L192.3 485.3 L193.1 485.7 L193.7 486.7 L194.3 487.4 L195.0 488.4 L195.6 488.7 L196.3 489.2 L196.9 489.8 L197.6 491.2 L198.4 491.2 L199.4 492.3 L200.6 493.6 L201.9 494.4 M201.9 494.4 L203.1 495.2 M203.1 495.2 L204.2 495.7 M204.2 495.7 L205.1 496.1 M205.1 496.1 L206.0 496.1 M206.0 496.1 L206.8 496.1 M206.8 496.1 L207.5 496.1 M207.5 496.1 L208.0 496.1" fill="none" stroke="#111" stroke-width="1.7" stroke-linejoin="round" stroke-linecap="round"/>
<path d="M170.8 504.372 L173.0 497.9 L173.6 497.9 L174.5 496.5 L175.5 496.7 L176.6 495.8 L177.7 494.7 L178.8 494.1 L180.1 493.9 L181.3 493.0 L182.5 492.9 L183.5 492.1 L184.3 492.0 L185.0 491.6 L185.6 492.1 L186.2 492.8 L187.0 492.7 L188.0 493.9 L189.1 494.5 L190.2 494.9 L191.4 496.2 L192.7 497.1 L194.1 498.4 L195.5 500.0 L197.0 501.4 L198.4 502.6 L199.6 503.8 L200.6 504.2 L201.4 504.3 L202.1 504.4 L202.6 504.4 L203.0 504.4 L203.0 504.372 Z" fill="#000" fill-opacity="0.19"/>
<line x1="170.8" y1="504.5" x2="278" y2="504.5" stroke="#878787" stroke-width="1.0"/>
<path d="M171.60000000000002 504.372 L171.60000000000002 495 M171.60000000000002 502.872 L173.00 497.90" fill="none" stroke="#111" stroke-width="1.7" stroke-linejoin="round"/>
<path d="M173.0 497.9 L173.6 497.9 L174.5 496.5 L175.5 496.7 L176.6 495.8 L177.7 494.7 L178.8 494.1 L180.1 493.9 L181.3 493.0 L182.5 492.9 L183.5 492.1 L184.3 492.0 L185.0 491.6 L185.6 492.1 L186.2 492.8 L187.0 492.7 L188.0 493.9 L189.1 494.5 L190.2 494.9 L191.4 496.2 L192.7 497.1 L194.1 498.4 L195.5 500.0 L197.0 501.4 L198.4 502.6 L199.6 503.8 L200.6 504.2 L201.4 504.3 L202.1 504.4 L202.6 504.4 L203.0 504.4" fill="none" stroke="#111" stroke-width="1.02" stroke-linejoin="round"/>
<path d="M173.0 497.9 L173.6 497.9 L174.5 496.5 L175.5 496.7 L176.6 495.8 L177.7 494.7 L178.8 494.1 L180.1 493.9 L181.3 493.0 L182.5 492.9 L183.5 492.1 L184.3 492.0 L185.0 491.6 L185.6 492.1 L186.2 492.8 L187.0 492.7 L188.0 493.9 L189.1 494.5 L190.2 494.9 L191.4 496.2 L192.7 497.1 L194.1 498.4 L195.5 500.0 L197.0 501.4 L198.4 502.6 M198.4 502.6 L199.6 503.8 M199.6 503.8 L200.6 504.2 M200.6 504.2 L201.4 504.3 M201.4 504.3 L202.1 504.4 M202.1 504.4 L202.6 504.4 M202.6 504.4 L203.0 504.4" fill="none" stroke="#111" stroke-width="1.7" stroke-linejoin="round" stroke-linecap="round"/>
<path d="M170.8 512.6890000000001 L173.0 507.7 L174.0 507.2 L175.4 506.1 L177.0 505.4 L178.6 504.7 L180.0 503.5 L181.3 502.7 L182.5 502.3 L183.6 501.9 L184.7 501.4 L185.8 501.0 L186.8 500.5 L187.8 500.0 L188.7 499.7 L189.6 499.7 L190.4 500.6 L191.2 500.4 L191.9 500.6 L192.6 501.4 L193.3 502.0 L194.0 502.8 L194.8 503.7 L195.5 503.7 L196.3 504.9 L197.1 505.8 L198.0 506.8 L199.0 507.7 L200.0 509.4 L201.0 510.5 L202.0 511.2 L203.0 511.7 L203.9 512.1 L204.9 512.2 L205.7 512.5 L206.5 512.6 L207.0 512.5 L207.0 512.6890000000001 Z" fill="#000" fill-opacity="0.19"/>
<line x1="170.8" y1="512.5" x2="278" y2="512.5" stroke="#878787" stroke-width="1.0"/>
<path d="M171.60000000000002 512.6890000000001 L171.60000000000002 503 M171.60000000000002 511.1890000000001 L173.00 507.70" fill="none" stroke="#111" stroke-width="1.7" stroke-linejoin="round"/>
<path d="M173.0 507.7 L174.0 507.2 L175.4 506.1 L177.0 505.4 L178.6 504.7 L180.0 503.5 L181.3 502.7 L182.5 502.3 L183.6 501.9 L184.7 501.4 L185.8 501.0 L186.8 500.5 L187.8 500.0 L188.7 499.7 L189.6 499.7 L190.4 500.6 L191.2 500.4 L191.9 500.6 L192.6 501.4 L193.3 502.0 L194.0 502.8 L194.8 503.7 L195.5 503.7 L196.3 504.9 L197.1 505.8 L198.0 506.8 L199.0 507.7 L200.0 509.4 L201.0 510.5 L202.0 511.2 L203.0 511.7 L203.9 512.1 L204.9 512.2 L205.7 512.5 L206.5 512.6 L207.0 512.5" fill="none" stroke="#111" stroke-width="1.02" stroke-linejoin="round"/>
<path d="M173.0 507.7 L174.0 507.2 L175.4 506.1 L177.0 505.4 L178.6 504.7 L180.0 503.5 L181.3 502.7 L182.5 502.3 L183.6 501.9 L184.7 501.4 L185.8 501.0 L186.8 500.5 L187.8 500.0 L188.7 499.7 L189.6 499.7 L190.4 500.6 L191.2 500.4 L191.9 500.6 L192.6 501.4 L193.3 502.0 L194.0 502.8 L194.8 503.7 L195.5 503.7 L196.3 504.9 L197.1 505.8 L198.0 506.8 L199.0 507.7 L200.0 509.4 L201.0 510.5 L202.0 511.2 M202.0 511.2 L203.0 511.7 M203.0 511.7 L203.9 512.1 M203.9 512.1 L204.9 512.2 M204.9 512.2 L205.7 512.5 M205.7 512.5 L206.5 512.6 M206.5 512.6 L207.0 512.5" fill="none" stroke="#111" stroke-width="1.7" stroke-linejoin="round" stroke-linecap="round"/>
<path d="M170.8 521.0060000000001 L173.0 512.3 L173.8 511.6 L175.0 511.0 L176.3 509.9 L177.7 509.0 L178.8 508.3 L179.7 507.8 L180.6 507.6 L181.4 507.3 L182.2 507.4 L182.9 507.4 L183.5 507.8 L184.1 508.1 L184.6 508.7 L185.2 509.0 L186.0 509.9 L186.9 511.3 L188.0 512.5 L189.1 514.2 L190.3 515.7 L191.5 517.1 L192.8 517.9 L194.2 518.5 L195.6 519.5 L197.0 519.9 L198.4 520.4 L199.8 520.8 L201.4 520.9 L202.8 520.9 L204.1 521.0 L205.0 521.0 L205.0 521.0060000000001 Z" fill="#000" fill-opacity="0.09"/>
<line x1="170.8" y1="521.5" x2="278" y2="521.5" stroke="#bdbdbd" stroke-width="1.0"/>
<path d="M171.60000000000002 521.0060000000001 L171.60000000000002 506 M171.60000000000002 519.5060000000001 L173.00 512.30" fill="none" stroke="#999" stroke-width="1.7" stroke-linejoin="round"/>
<path d="M173.0 512.3 L173.8 511.6 L175.0 511.0 L176.3 509.9 L177.7 509.0 L178.8 508.3 L179.7 507.8 L180.6 507.6 L181.4 507.3 L182.2 507.4 L182.9 507.4 L183.5 507.8 L184.1 508.1 L184.6 508.7 L185.2 509.0 L186.0 509.9 L186.9 511.3 L188.0 512.5 L189.1 514.2 L190.3 515.7 L191.5 517.1 L192.8 517.9 L194.2 518.5 L195.6 519.5 L197.0 519.9 L198.4 520.4 L199.8 520.8 L201.4 520.9 L202.8 520.9 L204.1 521.0 L205.0 521.0" fill="none" stroke="#999" stroke-width="0.72" stroke-linejoin="round"/>
<path d="M173.0 512.3 L173.8 511.6 L175.0 511.0 L176.3 509.9 L177.7 509.0 L178.8 508.3 L179.7 507.8 L180.6 507.6 L181.4 507.3 L182.2 507.4 L182.9 507.4 L183.5 507.8 L184.1 508.1 L184.6 508.7 L185.2 509.0 L186.0 509.9 L186.9 511.3 L188.0 512.5 L189.1 514.2 L190.3 515.7 L191.5 517.1 L192.8 517.9 L194.2 518.5 L195.6 519.5 M195.6 519.5 L197.0 519.9 M197.0 519.9 L198.4 520.4 M198.4 520.4 L199.8 520.8 M199.8 520.8 L201.4 520.9 M201.4 520.9 L202.8 520.9 M202.8 520.9 L204.1 521.0 M204.1 521.0 L205.0 521.0" fill="none" stroke="#999" stroke-width="1.2" stroke-linejoin="round" stroke-linecap="round"/>
<text x="247.20" y="370.10" font-size="8.36" fill="#cf4229" stroke="#cf4229" stroke-width="0.18" textLength="27.72" lengthAdjust="spacingAndGlyphs">AML&#160;33</text>
<text x="247.20" y="378.42" font-size="8.36" fill="#cf4229" stroke="#cf4229" stroke-width="0.18" textLength="27.72" lengthAdjust="spacingAndGlyphs">AML&#160;32</text>
<text x="247.20" y="386.73" font-size="8.36" fill="#cf4229" stroke="#cf4229" stroke-width="0.18" textLength="27.72" lengthAdjust="spacingAndGlyphs">AML&#160;31</text>
<text x="247.20" y="395.05" font-size="8.36" fill="#cf4229" stroke="#cf4229" stroke-width="0.18" textLength="27.72" lengthAdjust="spacingAndGlyphs">AML&#160;29</text>
<text x="247.20" y="403.37" font-size="8.36" fill="#cf4229" stroke="#cf4229" stroke-width="0.18" textLength="27.72" lengthAdjust="spacingAndGlyphs">AML&#160;27</text>
<text x="247.20" y="411.69" font-size="8.36" fill="#cf4229" stroke="#cf4229" stroke-width="0.18" textLength="23.20" lengthAdjust="spacingAndGlyphs">AML&#160;5</text>
<text x="247.20" y="420.00" font-size="8.36" fill="#40409e" stroke="#40409e" stroke-width="0.18" textLength="27.72" lengthAdjust="spacingAndGlyphs">AML&#160;23</text>
<text x="247.20" y="428.32" font-size="8.36" fill="#40409e" stroke="#40409e" stroke-width="0.18" textLength="27.72" lengthAdjust="spacingAndGlyphs">AML&#160;22</text>
<text x="247.20" y="436.64" font-size="8.36" fill="#40409e" stroke="#40409e" stroke-width="0.18" textLength="27.72" lengthAdjust="spacingAndGlyphs">AML&#160;20</text>
<text x="247.20" y="444.95" font-size="8.36" fill="#40409e" stroke="#40409e" stroke-width="0.18" textLength="27.72" lengthAdjust="spacingAndGlyphs">AML&#160;19</text>
<text x="247.20" y="453.27" font-size="8.36" fill="#40409e" stroke="#40409e" stroke-width="0.18" textLength="27.72" lengthAdjust="spacingAndGlyphs">AML&#160;16</text>
<text x="247.20" y="461.59" font-size="8.36" fill="#40409e" stroke="#40409e" stroke-width="0.18" textLength="27.72" lengthAdjust="spacingAndGlyphs">AML&#160;13</text>
<text x="247.20" y="469.90" font-size="8.36" fill="#111" stroke="#111" stroke-width="0.18" textLength="24.85" lengthAdjust="spacingAndGlyphs">NBM&#160;6</text>
<text x="247.20" y="478.22" font-size="8.36" fill="#111" stroke="#111" stroke-width="0.18" textLength="24.85" lengthAdjust="spacingAndGlyphs">NBM&#160;5</text>
<text x="247.20" y="486.54" font-size="8.36" fill="#111" stroke="#111" stroke-width="0.18" textLength="24.85" lengthAdjust="spacingAndGlyphs">NBM&#160;4</text>
<text x="247.20" y="494.86" font-size="8.36" fill="#111" stroke="#111" stroke-width="0.18" textLength="24.85" lengthAdjust="spacingAndGlyphs">NBM&#160;3</text>
<text x="247.20" y="503.17" font-size="8.36" fill="#111" stroke="#111" stroke-width="0.18" textLength="24.85" lengthAdjust="spacingAndGlyphs">NBM&#160;2</text>
<text x="247.20" y="511.49" font-size="8.36" fill="#111" stroke="#111" stroke-width="0.18" textLength="24.85" lengthAdjust="spacingAndGlyphs">NBM&#160;1</text>
<text x="214.50" y="519.71" font-size="8.36" fill="#9a9a9a" textLength="56.90" lengthAdjust="spacingAndGlyphs">No&#160;stain&#160;control</text>
<line x1="170.8" y1="524.4" x2="277.5" y2="524.4" stroke="#444" stroke-width="0.8"/>
<line x1="170.8" y1="524.0" x2="170.8" y2="526.4" stroke="#111" stroke-width="1.1"/>
<line x1="178.8299751343367" y1="524.4" x2="178.8299751343367" y2="525.6999999999999" stroke="#444" stroke-width="0.7"/>
<line x1="183.527209469647" y1="524.4" x2="183.527209469647" y2="525.6999999999999" stroke="#444" stroke-width="0.7"/>
<line x1="186.8599502686734" y1="524.4" x2="186.8599502686734" y2="525.6999999999999" stroke="#444" stroke-width="0.7"/>
<line x1="189.4450248656633" y1="524.4" x2="189.4450248656633" y2="525.6999999999999" stroke="#444" stroke-width="0.7"/>
<line x1="191.5571846039837" y1="524.4" x2="191.5571846039837" y2="525.6999999999999" stroke="#444" stroke-width="0.7"/>
<line x1="193.3429902173803" y1="524.4" x2="193.3429902173803" y2="525.6999999999999" stroke="#444" stroke-width="0.7"/>
<line x1="194.8899254030101" y1="524.4" x2="194.8899254030101" y2="525.6999999999999" stroke="#444" stroke-width="0.7"/>
<line x1="196.254418939294" y1="524.4" x2="196.254418939294" y2="525.6999999999999" stroke="#444" stroke-width="0.7"/>
<line x1="197.47500000000002" y1="524.0" x2="197.47500000000002" y2="526.4" stroke="#111" stroke-width="1.1"/>
<line x1="205.50497513433672" y1="524.4" x2="205.50497513433672" y2="525.6999999999999" stroke="#444" stroke-width="0.7"/>
<line x1="210.20220946964702" y1="524.4" x2="210.20220946964702" y2="525.6999999999999" stroke="#444" stroke-width="0.7"/>
<line x1="213.5349502686734" y1="524.4" x2="213.5349502686734" y2="525.6999999999999" stroke="#444" stroke-width="0.7"/>
<line x1="216.1200248656633" y1="524.4" x2="216.1200248656633" y2="525.6999999999999" stroke="#444" stroke-width="0.7"/>
<line x1="218.23218460398368" y1="524.4" x2="218.23218460398368" y2="525.6999999999999" stroke="#444" stroke-width="0.7"/>
<line x1="220.01799021738032" y1="524.4" x2="220.01799021738032" y2="525.6999999999999" stroke="#444" stroke-width="0.7"/>
<line x1="221.5649254030101" y1="524.4" x2="221.5649254030101" y2="525.6999999999999" stroke="#444" stroke-width="0.7"/>
<line x1="222.929418939294" y1="524.4" x2="222.929418939294" y2="525.6999999999999" stroke="#444" stroke-width="0.7"/>
<line x1="224.15" y1="524.0" x2="224.15" y2="526.4" stroke="#111" stroke-width="1.1"/>
<line x1="232.1799751343367" y1="524.4" x2="232.1799751343367" y2="525.6999999999999" stroke="#444" stroke-width="0.7"/>
<line x1="236.877209469647" y1="524.4" x2="236.877209469647" y2="525.6999999999999" stroke="#444" stroke-width="0.7"/>
<line x1="240.20995026867342" y1="524.4" x2="240.20995026867342" y2="525.6999999999999" stroke="#444" stroke-width="0.7"/>
<line x1="242.79502486566332" y1="524.4" x2="242.79502486566332" y2="525.6999999999999" stroke="#444" stroke-width="0.7"/>
<line x1="244.9071846039837" y1="524.4" x2="244.9071846039837" y2="525.6999999999999" stroke="#444" stroke-width="0.7"/>
<line x1="246.69299021738033" y1="524.4" x2="246.69299021738033" y2="525.6999999999999" stroke="#444" stroke-width="0.7"/>
<line x1="248.2399254030101" y1="524.4" x2="248.2399254030101" y2="525.6999999999999" stroke="#444" stroke-width="0.7"/>
<line x1="249.604418939294" y1="524.4" x2="249.604418939294" y2="525.6999999999999" stroke="#444" stroke-width="0.7"/>
<line x1="250.825" y1="524.0" x2="250.825" y2="526.4" stroke="#111" stroke-width="1.1"/>
<line x1="258.8549751343367" y1="524.4" x2="258.8549751343367" y2="525.6999999999999" stroke="#444" stroke-width="0.7"/>
<line x1="263.552209469647" y1="524.4" x2="263.552209469647" y2="525.6999999999999" stroke="#444" stroke-width="0.7"/>
<line x1="266.8849502686734" y1="524.4" x2="266.8849502686734" y2="525.6999999999999" stroke="#444" stroke-width="0.7"/>
<line x1="269.4700248656633" y1="524.4" x2="269.4700248656633" y2="525.6999999999999" stroke="#444" stroke-width="0.7"/>
<line x1="271.5821846039837" y1="524.4" x2="271.5821846039837" y2="525.6999999999999" stroke="#444" stroke-width="0.7"/>
<line x1="273.36799021738034" y1="524.4" x2="273.36799021738034" y2="525.6999999999999" stroke="#444" stroke-width="0.7"/>
<line x1="274.9149254030101" y1="524.4" x2="274.9149254030101" y2="525.6999999999999" stroke="#444" stroke-width="0.7"/>
<line x1="276.279418939294" y1="524.4" x2="276.279418939294" y2="525.6999999999999" stroke="#444" stroke-width="0.7"/>
<line x1="277.5" y1="524.0" x2="277.5" y2="526.4" stroke="#111" stroke-width="1.1"/>
<text x="169.50" y="535.6" font-size="8.0" text-anchor="middle" fill="#111">10</text>
<text x="173.90" y="532.70" font-size="4.4" text-anchor="start" fill="#222">0</text>
<text x="196.18" y="535.6" font-size="8.0" text-anchor="middle" fill="#111">10</text>
<text x="200.58" y="532.70" font-size="4.4" text-anchor="start" fill="#222">1</text>
<text x="222.85" y="535.6" font-size="8.0" text-anchor="middle" fill="#111">10</text>
<text x="227.25" y="532.70" font-size="4.4" text-anchor="start" fill="#222">2</text>
<text x="249.52" y="535.6" font-size="8.0" text-anchor="middle" fill="#111">10</text>
<text x="253.92" y="532.70" font-size="4.4" text-anchor="start" fill="#222">3</text>
<text x="276.20" y="535.6" font-size="8.0" text-anchor="middle" fill="#111">10</text>
<text x="280.60" y="532.70" font-size="4.4" text-anchor="start" fill="#222">4</text>
<text x="327.50" y="342.20" font-size="9.3" fill="#1a1a1a" stroke="#1a1a1a" stroke-width="0.12" textLength="23.46" lengthAdjust="spacingAndGlyphs">CD34</text>
<text x="350.96" y="338.57" font-size="6.696000000000001" fill="#1a1a1a" stroke="#1a1a1a" stroke-width="0.12" textLength="3.86" lengthAdjust="spacingAndGlyphs">+</text>
<text x="354.82" y="342.20" font-size="9.3" fill="#1a1a1a" stroke="#1a1a1a" stroke-width="0.12" textLength="23.46" lengthAdjust="spacingAndGlyphs">CD38</text>
<text x="378.28" y="338.76" font-size="6.696000000000001" fill="#1a1a1a" stroke="#1a1a1a" stroke-width="0.12" textLength="2.20" lengthAdjust="spacingAndGlyphs">-</text>
<text x="380.48" y="342.20" font-size="9.3" fill="#1a1a1a" stroke="#1a1a1a" stroke-width="0.12" textLength="43.52" lengthAdjust="spacingAndGlyphs">&#160;AML&#160;Cells</text>
<line x1="321.3" y1="349.0" x2="321.3" y2="524.4" stroke="#c8c8c8" stroke-width="0.9"/>
<line x1="430.4" y1="349.0" x2="430.4" y2="524.4" stroke="#c0c0c0" stroke-width="0.9"/>
<line x1="320.90000000000003" y1="349.4" x2="430.79999999999995" y2="349.4" stroke="#7a7a7a" stroke-width="1.0"/>
<path d="M321.3 370.5 L323.0 370.5 L324.4 370.5 L326.4 370.5 L328.7 370.5 L331.0 370.5 L333.0 370.4 L334.8 370.2 L336.5 369.7 L338.2 369.4 L339.7 368.9 L341.0 368.4 L342.1 368.3 L342.9 367.6 L343.7 367.1 L344.3 366.6 L345.0 365.7 L345.6 365.8 L346.2 365.2 L346.7 365.0 L347.3 364.6 L348.0 364.0 L348.8 362.8 L349.7 362.2 L350.7 360.9 L351.7 360.2 L352.6 359.3 L353.5 358.4 L354.5 357.4 L355.4 356.5 L356.3 355.1 L357.2 354.4 L358.1 353.8 L359.0 353.7 L359.8 353.4 L360.6 353.4 L361.3 353.5 L361.9 353.3 L362.3 353.8 L362.7 354.4 L363.1 354.5 L363.5 354.8 L363.9 355.3 L364.2 355.9 L364.5 356.4 L364.9 357.3 L365.3 357.9 L365.8 359.0 L366.3 360.5 L366.9 361.2 L367.5 362.6 L368.0 363.8 L368.4 365.3 L368.8 366.2 L369.1 367.5 L369.5 368.6 L370.0 369.0 L370.6 369.7 L371.4 370.2 L372.2 370.3 L372.9 370.5 L373.4 370.5 L373.4 370.5 Z" fill="#e77a7a" fill-opacity="0.3"/>
<line x1="321.3" y1="370.5" x2="430.4" y2="370.5" stroke="#ddb8b8" stroke-width="1.0"/>
<path d="M322.1 370.5 L322.1 362 M322.1 369.0 L323.00 370.50" fill="none" stroke="#e98d8d" stroke-width="1.7" stroke-linejoin="round"/>
<path d="M323.0 370.5 L324.4 370.5 L326.4 370.5 L328.7 370.5 L331.0 370.5 L333.0 370.4 L334.8 370.2 L336.5 369.7 L338.2 369.4 L339.7 368.9 L341.0 368.4 L342.1 368.3 L342.9 367.6 L343.7 367.1 L344.3 366.6 L345.0 365.7 L345.6 365.8 L346.2 365.2 L346.7 365.0 L347.3 364.6 L348.0 364.0 L348.8 362.8 L349.7 362.2 L350.7 360.9 L351.7 360.2 L352.6 359.3 L353.5 358.4 L354.5 357.4 L355.4 356.5 L356.3 355.1 L357.2 354.4 L358.1 353.8 L359.0 353.7 L359.8 353.4 L360.6 353.4 L361.3 353.5 L361.9 353.3 L362.3 353.8 L362.7 354.4 L363.1 354.5 L363.5 354.8 L363.9 355.3 L364.2 355.9 L364.5 356.4 L364.9 357.3 L365.3 357.9 L365.8 359.0 L366.3 360.5 L366.9 361.2 L367.5 362.6 L368.0 363.8 L368.4 365.3 L368.8 366.2 L369.1 367.5 L369.5 368.6 L370.0 369.0 L370.6 369.7 L371.4 370.2 L372.2 370.3 L372.9 370.5 L373.4 370.5" fill="none" stroke="#e98d8d" stroke-width="0.72" stroke-linejoin="round"/>
<path d="M323.0 370.5 L324.4 370.5 M324.4 370.5 L326.4 370.5 M326.4 370.5 L328.7 370.5 M328.7 370.5 L331.0 370.5 M331.0 370.5 L333.0 370.4 M333.0 370.4 L334.8 370.2 M334.8 370.2 L336.5 369.7 M336.5 369.7 L338.2 369.4 M338.2 369.4 L339.7 368.9 M339.7 368.9 L341.0 368.4 L342.1 368.3 L342.9 367.6 L343.7 367.1 L344.3 366.6 L345.0 365.7 L345.6 365.8 L346.2 365.2 L346.7 365.0 L347.3 364.6 L348.0 364.0 L348.8 362.8 L349.7 362.2 L350.7 360.9 L351.7 360.2 L352.6 359.3 L353.5 358.4 L354.5 357.4 L355.4 356.5 L356.3 355.1 L357.2 354.4 L358.1 353.8 L359.0 353.7 L359.8 353.4 L360.6 353.4 L361.3 353.5 L361.9 353.3 L362.3 353.8 L362.7 354.4 L363.1 354.5 L363.5 354.8 L363.9 355.3 L364.2 355.9 L364.5 356.4 L364.9 357.3 L365.3 357.9 L365.8 359.0 L366.3 360.5 L366.9 361.2 L367.5 362.6 L368.0 363.8 L368.4 365.3 L368.8 366.2 L369.1 367.5 L369.5 368.6 M369.5 368.6 L370.0 369.0 M370.0 369.0 L370.6 369.7 M370.6 369.7 L371.4 370.2 M371.4 370.2 L372.2 370.3 M372.2 370.3 L372.9 370.5 M372.9 370.5 L373.4 370.5" fill="none" stroke="#e98d8d" stroke-width="1.2" stroke-linejoin="round" stroke-linecap="round"/>
<path d="M321.3 382.3 L323.0 381.5 L324.4 381.3 L326.4 381.2 L328.7 381.1 L331.0 380.6 L333.0 380.6 L334.8 380.3 L336.5 379.8 L338.2 379.7 L339.7 379.0 L341.0 378.8 L342.1 378.4 L342.9 378.1 L343.6 377.0 L344.3 376.8 L345.0 376.0 L345.8 375.4 L346.5 375.0 L347.2 374.2 L348.0 373.9 L349.0 373.1 L350.2 372.0 L351.7 370.6 L353.2 369.0 L354.7 367.2 L356.0 366.3 L357.2 365.3 L358.4 364.8 L359.4 363.9 L360.4 364.1 L361.3 363.4 L362.0 363.3 L362.6 363.4 L363.1 364.0 L363.5 364.2 L364.0 365.2 L364.5 365.4 L365.0 366.3 L365.5 367.4 L366.0 368.4 L366.5 369.9 L366.9 371.3 L367.3 373.6 L367.8 375.7 L368.2 377.5 L368.7 378.6 L369.3 379.7 L370.1 380.8 L370.9 381.3 L371.5 381.7 L372.0 382.2 L372.0 382.3 Z" fill="#e77a7a" fill-opacity="0.3"/>
<line x1="321.3" y1="382.5" x2="430.4" y2="382.5" stroke="#daa6a6" stroke-width="1.0"/>
<path d="M322.1 382.3 L322.1 374 M322.1 380.8 L323.00 381.50" fill="none" stroke="#e26060" stroke-width="1.7" stroke-linejoin="round"/>
<path d="M323.0 381.5 L324.4 381.3 L326.4 381.2 L328.7 381.1 L331.0 380.6 L333.0 380.6 L334.8 380.3 L336.5 379.8 L338.2 379.7 L339.7 379.0 L341.0 378.8 L342.1 378.4 L342.9 378.1 L343.6 377.0 L344.3 376.8 L345.0 376.0 L345.8 375.4 L346.5 375.0 L347.2 374.2 L348.0 373.9 L349.0 373.1 L350.2 372.0 L351.7 370.6 L353.2 369.0 L354.7 367.2 L356.0 366.3 L357.2 365.3 L358.4 364.8 L359.4 363.9 L360.4 364.1 L361.3 363.4 L362.0 363.3 L362.6 363.4 L363.1 364.0 L363.5 364.2 L364.0 365.2 L364.5 365.4 L365.0 366.3 L365.5 367.4 L366.0 368.4 L366.5 369.9 L366.9 371.3 L367.3 373.6 L367.8 375.7 L368.2 377.5 L368.7 378.6 L369.3 379.7 L370.1 380.8 L370.9 381.3 L371.5 381.7 L372.0 382.2" fill="none" stroke="#e26060" stroke-width="0.84" stroke-linejoin="round"/>
<path d="M323.0 381.5 L324.4 381.3 M324.4 381.3 L326.4 381.2 M326.4 381.2 L328.7 381.1 M328.7 381.1 L331.0 380.6 M331.0 380.6 L333.0 380.6 M333.0 380.6 L334.8 380.3 L336.5 379.8 L338.2 379.7 L339.7 379.0 L341.0 378.8 L342.1 378.4 L342.9 378.1 L343.6 377.0 L344.3 376.8 L345.0 376.0 L345.8 375.4 L346.5 375.0 L347.2 374.2 L348.0 373.9 L349.0 373.1 L350.2 372.0 L351.7 370.6 L353.2 369.0 L354.7 367.2 L356.0 366.3 L357.2 365.3 L358.4 364.8 L359.4 363.9 L360.4 364.1 L361.3 363.4 L362.0 363.3 L362.6 363.4 L363.1 364.0 L363.5 364.2 L364.0 365.2 L364.5 365.4 L365.0 366.3 L365.5 367.4 L366.0 368.4 L366.5 369.9 L366.9 371.3 L367.3 373.6 L367.8 375.7 L368.2 377.5 L368.7 378.6 L369.3 379.7 L370.1 380.8 M370.1 380.8 L370.9 381.3 M370.9 381.3 L371.5 381.7 M371.5 381.7 L372.0 382.2" fill="none" stroke="#e26060" stroke-width="1.4" stroke-linejoin="round" stroke-linecap="round"/>
<path d="M321.3 394.1 L323.0 392.7 L323.5 392.5 L324.3 392.3 L325.1 391.8 L326.1 391.2 L327.0 390.9 L327.9 390.9 L328.8 390.1 L329.8 389.8 L330.9 389.9 L332.0 389.1 L333.3 388.7 L334.7 388.3 L336.2 387.5 L337.7 386.6 L339.0 386.0 L340.2 384.8 L341.4 383.3 L342.5 382.3 L343.6 380.7 L344.5 380.0 L345.3 379.3 L346.0 379.2 L346.7 378.8 L347.3 378.3 L348.0 378.5 L348.7 378.3 L349.5 378.2 L350.2 378.7 L350.9 379.1 L351.5 379.7 L351.9 380.3 L352.2 380.9 L352.5 381.2 L352.7 382.1 L353.0 383.2 L353.4 384.0 L353.7 384.2 L354.1 385.0 L354.6 386.1 L355.0 387.0 L355.5 387.7 L356.0 388.3 L356.5 389.6 L357.0 390.1 L357.5 391.0 L358.0 391.7 L358.4 392.3 L358.9 393.3 L359.2 393.7 L359.5 394.1 L359.5 394.1 Z" fill="#e77a7a" fill-opacity="0.3"/>
<line x1="321.3" y1="394.5" x2="430.4" y2="394.5" stroke="#d58686" stroke-width="1.0"/>
<path d="M322.1 394.1 L322.1 382 M322.1 392.6 L323.00 392.70" fill="none" stroke="#d41010" stroke-width="1.7" stroke-linejoin="round"/>
<path d="M323.0 392.7 L323.5 392.5 L324.3 392.3 L325.1 391.8 L326.1 391.2 L327.0 390.9 L327.9 390.9 L328.8 390.1 L329.8 389.8 L330.9 389.9 L332.0 389.1 L333.3 388.7 L334.7 388.3 L336.2 387.5 L337.7 386.6 L339.0 386.0 L340.2 384.8 L341.4 383.3 L342.5 382.3 L343.6 380.7 L344.5 380.0 L345.3 379.3 L346.0 379.2 L346.7 378.8 L347.3 378.3 L348.0 378.5 L348.7 378.3 L349.5 378.2 L350.2 378.7 L350.9 379.1 L351.5 379.7 L351.9 380.3 L352.2 380.9 L352.5 381.2 L352.7 382.1 L353.0 383.2 L353.4 384.0 L353.7 384.2 L354.1 385.0 L354.6 386.1 L355.0 387.0 L355.5 387.7 L356.0 388.3 L356.5 389.6 L357.0 390.1 L357.5 391.0 L358.0 391.7 L358.4 392.3 L358.9 393.3 L359.2 393.7 L359.5 394.1" fill="none" stroke="#d41010" stroke-width="1.02" stroke-linejoin="round"/>
<path d="M323.0 392.7 L323.5 392.5 M323.5 392.5 L324.3 392.3 M324.3 392.3 L325.1 391.8 L326.1 391.2 L327.0 390.9 L327.9 390.9 L328.8 390.1 L329.8 389.8 L330.9 389.9 L332.0 389.1 L333.3 388.7 L334.7 388.3 L336.2 387.5 L337.7 386.6 L339.0 386.0 L340.2 384.8 L341.4 383.3 L342.5 382.3 L343.6 380.7 L344.5 380.0 L345.3 379.3 L346.0 379.2 L346.7 378.8 L347.3 378.3 L348.0 378.5 L348.7 378.3 L349.5 378.2 L350.2 378.7 L350.9 379.1 L351.5 379.7 L351.9 380.3 L352.2 380.9 L352.5 381.2 L352.7 382.1 L353.0 383.2 L353.4 384.0 L353.7 384.2 L354.1 385.0 L354.6 386.1 L355.0 387.0 L355.5 387.7 L356.0 388.3 L356.5 389.6 L357.0 390.1 L357.5 391.0 L358.0 391.7 L358.4 392.3 M358.4 392.3 L358.9 393.3 M358.9 393.3 L359.2 393.7 M359.2 393.7 L359.5 394.1" fill="none" stroke="#d41010" stroke-width="1.7" stroke-linejoin="round" stroke-linecap="round"/>
<path d="M321.3 405.8 L323.0 403.6 L323.9 403.1 L325.1 401.9 L326.6 400.8 L328.1 399.5 L329.5 398.2 L330.9 397.9 L332.3 396.9 L333.7 396.3 L335.1 396.1 L336.5 395.3 L337.9 393.9 L339.4 392.4 L340.8 391.4 L342.2 390.0 L343.4 389.0 L344.5 388.1 L345.6 387.7 L346.6 387.4 L347.5 386.8 L348.2 386.8 L348.8 387.1 L349.2 387.3 L349.5 388.1 L349.7 388.7 L350.0 389.4 L350.3 390.0 L350.5 391.1 L350.7 391.5 L351.0 392.4 L351.4 394.1 L352.0 395.4 L352.7 397.0 L353.5 398.8 L354.2 400.3 L354.9 402.2 L355.5 403.3 L356.1 403.7 L356.7 404.5 L357.2 405.2 L357.5 405.6 L357.5 405.8 Z" fill="#e77a7a" fill-opacity="0.3"/>
<line x1="321.3" y1="405.5" x2="430.4" y2="405.5" stroke="#c68282" stroke-width="1.0"/>
<path d="M322.1 405.8 L322.1 394 M322.1 404.3 L323.00 403.60" fill="none" stroke="#b00606" stroke-width="1.7" stroke-linejoin="round"/>
<path d="M323.0 403.6 L323.9 403.1 L325.1 401.9 L326.6 400.8 L328.1 399.5 L329.5 398.2 L330.9 397.9 L332.3 396.9 L333.7 396.3 L335.1 396.1 L336.5 395.3 L337.9 393.9 L339.4 392.4 L340.8 391.4 L342.2 390.0 L343.4 389.0 L344.5 388.1 L345.6 387.7 L346.6 387.4 L347.5 386.8 L348.2 386.8 L348.8 387.1 L349.2 387.3 L349.5 388.1 L349.7 388.7 L350.0 389.4 L350.3 390.0 L350.5 391.1 L350.7 391.5 L351.0 392.4 L351.4 394.1 L352.0 395.4 L352.7 397.0 L353.5 398.8 L354.2 400.3 L354.9 402.2 L355.5 403.3 L356.1 403.7 L356.7 404.5 L357.2 405.2 L357.5 405.6" fill="none" stroke="#b00606" stroke-width="1.02" stroke-linejoin="round"/>
<path d="M323.0 403.6 L323.9 403.1 L325.1 401.9 L326.6 400.8 L328.1 399.5 L329.5 398.2 L330.9 397.9 L332.3 396.9 L333.7 396.3 L335.1 396.1 L336.5 395.3 L337.9 393.9 L339.4 392.4 L340.8 391.4 L342.2 390.0 L343.4 389.0 L344.5 388.1 L345.6 387.7 L346.6 387.4 L347.5 386.8 L348.2 386.8 L348.8 387.1 L349.2 387.3 L349.5 388.1 L349.7 388.7 L350.0 389.4 L350.3 390.0 L350.5 391.1 L350.7 391.5 L351.0 392.4 L351.4 394.1 L352.0 395.4 L352.7 397.0 L353.5 398.8 L354.2 400.3 L354.9 402.2 L355.5 403.3 L356.1 403.7 L356.7 404.5 M356.7 404.5 L357.2 405.2 M357.2 405.2 L357.5 405.6" fill="none" stroke="#b00606" stroke-width="1.7" stroke-linejoin="round" stroke-linecap="round"/>
<path d="M321.3 417.5 L323.0 416.2 L324.7 416.2 L327.2 416.0 L329.9 415.8 L332.7 415.6 L335.0 415.6 L336.8 415.4 L338.4 414.9 L339.9 414.6 L341.2 414.2 L342.5 413.5 L343.7 413.0 L344.9 412.4 L346.0 411.4 L347.0 410.7 L348.0 409.3 L349.0 408.7 L349.9 407.7 L350.8 407.0 L351.7 405.6 L352.5 405.1 L353.3 404.5 L354.0 403.4 L354.7 402.6 L355.4 402.4 L356.0 401.4 L356.6 401.0 L357.1 400.3 L357.6 399.2 L358.2 398.7 L358.8 399.0 L359.4 399.2 L360.0 399.4 L360.7 400.2 L361.4 400.5 L362.0 401.2 L362.6 401.2 L363.2 400.8 L363.7 400.7 L364.3 400.7 L365.0 401.4 L365.7 402.1 L366.6 403.7 L367.4 405.5 L368.2 407.2 L369.0 408.9 L369.7 410.7 L370.5 412.3 L371.2 414.3 L371.9 416.0 L372.5 417.1 L373.1 417.5 L373.7 417.5 L374.2 417.5 L374.7 417.5 L375.0 417.5 L375.0 417.5 Z" fill="#e77a7a" fill-opacity="0.3"/>
<line x1="321.3" y1="417.5" x2="430.4" y2="417.5" stroke="#b78383" stroke-width="1.0"/>
<path d="M322.1 417.5 L322.1 406 M322.1 416.0 L323.00 416.25" fill="none" stroke="#8a0808" stroke-width="1.7" stroke-linejoin="round"/>
<path d="M323.0 416.2 L324.7 416.2 L327.2 416.0 L329.9 415.8 L332.7 415.6 L335.0 415.6 L336.8 415.4 L338.4 414.9 L339.9 414.6 L341.2 414.2 L342.5 413.5 L343.7 413.0 L344.9 412.4 L346.0 411.4 L347.0 410.7 L348.0 409.3 L349.0 408.7 L349.9 407.7 L350.8 407.0 L351.7 405.6 L352.5 405.1 L353.3 404.5 L354.0 403.4 L354.7 402.6 L355.4 402.4 L356.0 401.4 L356.6 401.0 L357.1 400.3 L357.6 399.2 L358.2 398.7 L358.8 399.0 L359.4 399.2 L360.0 399.4 L360.7 400.2 L361.4 400.5 L362.0 401.2 L362.6 401.2 L363.2 400.8 L363.7 400.7 L364.3 400.7 L365.0 401.4 L365.7 402.1 L366.6 403.7 L367.4 405.5 L368.2 407.2 L369.0 408.9 L369.7 410.7 L370.5 412.3 L371.2 414.3 L371.9 416.0 L372.5 417.1 L373.1 417.5 L373.7 417.5 L374.2 417.5 L374.7 417.5 L375.0 417.5" fill="none" stroke="#8a0808" stroke-width="1.02" stroke-linejoin="round"/>
<path d="M323.0 416.2 L324.7 416.2 M324.7 416.2 L327.2 416.0 M327.2 416.0 L329.9 415.8 M329.9 415.8 L332.7 415.6 M332.7 415.6 L335.0 415.6 M335.0 415.6 L336.8 415.4 L338.4 414.9 L339.9 414.6 L341.2 414.2 L342.5 413.5 L343.7 413.0 L344.9 412.4 L346.0 411.4 L347.0 410.7 L348.0 409.3 L349.0 408.7 L349.9 407.7 L350.8 407.0 L351.7 405.6 L352.5 405.1 L353.3 404.5 L354.0 403.4 L354.7 402.6 L355.4 402.4 L356.0 401.4 L356.6 401.0 L357.1 400.3 L357.6 399.2 L358.2 398.7 L358.8 399.0 L359.4 399.2 L360.0 399.4 L360.7 400.2 L361.4 400.5 L362.0 401.2 L362.6 401.2 L363.2 400.8 L363.7 400.7 L364.3 400.7 L365.0 401.4 L365.7 402.1 L366.6 403.7 L367.4 405.5 L368.2 407.2 L369.0 408.9 L369.7 410.7 L370.5 412.3 L371.2 414.3 L371.9 416.0 M371.9 416.0 L372.5 417.1 M372.5 417.1 L373.1 417.5 M373.1 417.5 L373.7 417.5 M373.7 417.5 L374.2 417.5 M374.2 417.5 L374.7 417.5 M374.7 417.5 L375.0 417.5" fill="none" stroke="#8a0808" stroke-width="1.7" stroke-linejoin="round" stroke-linecap="round"/>
<path d="M321.3 429.3 L323.0 425.0 L324.0 424.8 L325.4 423.8 L327.0 423.4 L328.6 422.5 L330.0 422.1 L331.1 421.4 L332.1 421.1 L333.0 421.2 L334.0 420.2 L335.0 419.8 L336.1 419.4 L337.3 418.5 L338.5 417.6 L339.8 416.7 L341.0 415.8 L342.3 414.8 L343.8 413.9 L345.2 413.4 L346.4 412.7 L347.5 412.1 L348.3 412.1 L348.8 412.0 L349.2 412.5 L349.6 412.8 L350.0 413.3 L350.5 413.6 L351.0 413.6 L351.4 413.9 L351.9 414.5 L352.5 414.8 L353.1 415.7 L353.8 417.1 L354.5 418.4 L355.3 419.8 L356.0 421.3 L356.8 422.4 L357.6 423.9 L358.4 425.7 L359.3 427.4 L360.0 428.4 L360.7 429.1 L361.4 429.3 L362.1 429.3 L362.6 429.3 L363.0 429.2 L363.0 429.3 Z" fill="#7b7be0" fill-opacity="0.34"/>
<line x1="321.3" y1="429.5" x2="430.4" y2="429.5" stroke="#a2a2df" stroke-width="1.0"/>
<path d="M322.1 429.3 L322.1 414 M322.1 427.8 L323.00 425.00" fill="none" stroke="#5656ee" stroke-width="1.7" stroke-linejoin="round"/>
<path d="M323.0 425.0 L324.0 424.8 L325.4 423.8 L327.0 423.4 L328.6 422.5 L330.0 422.1 L331.1 421.4 L332.1 421.1 L333.0 421.2 L334.0 420.2 L335.0 419.8 L336.1 419.4 L337.3 418.5 L338.5 417.6 L339.8 416.7 L341.0 415.8 L342.3 414.8 L343.8 413.9 L345.2 413.4 L346.4 412.7 L347.5 412.1 L348.3 412.1 L348.8 412.0 L349.2 412.5 L349.6 412.8 L350.0 413.3 L350.5 413.6 L351.0 413.6 L351.4 413.9 L351.9 414.5 L352.5 414.8 L353.1 415.7 L353.8 417.1 L354.5 418.4 L355.3 419.8 L356.0 421.3 L356.8 422.4 L357.6 423.9 L358.4 425.7 L359.3 427.4 L360.0 428.4 L360.7 429.1 L361.4 429.3 L362.1 429.3 L362.6 429.3 L363.0 429.2" fill="none" stroke="#5656ee" stroke-width="0.84" stroke-linejoin="round"/>
<path d="M323.0 425.0 L324.0 424.8 L325.4 423.8 L327.0 423.4 L328.6 422.5 L330.0 422.1 L331.1 421.4 L332.1 421.1 L333.0 421.2 L334.0 420.2 L335.0 419.8 L336.1 419.4 L337.3 418.5 L338.5 417.6 L339.8 416.7 L341.0 415.8 L342.3 414.8 L343.8 413.9 L345.2 413.4 L346.4 412.7 L347.5 412.1 L348.3 412.1 L348.8 412.0 L349.2 412.5 L349.6 412.8 L350.0 413.3 L350.5 413.6 L351.0 413.6 L351.4 413.9 L351.9 414.5 L352.5 414.8 L353.1 415.7 L353.8 417.1 L354.5 418.4 L355.3 419.8 L356.0 421.3 L356.8 422.4 L357.6 423.9 L358.4 425.7 L359.3 427.4 M359.3 427.4 L360.0 428.4 M360.0 428.4 L360.7 429.1 M360.7 429.1 L361.4 429.3 M361.4 429.3 L362.1 429.3 M362.1 429.3 L362.6 429.3 M362.6 429.3 L363.0 429.2" fill="none" stroke="#5656ee" stroke-width="1.4" stroke-linejoin="round" stroke-linecap="round"/>
<path d="M321.3 441.1 L323.0 437.5 L323.8 436.9 L325.0 436.3 L326.3 435.6 L327.7 434.8 L329.0 434.1 L330.2 433.6 L331.4 432.9 L332.6 432.4 L333.8 431.8 L335.0 431.3 L336.3 430.1 L337.5 429.6 L338.8 428.0 L340.1 427.1 L341.2 426.0 L342.4 425.5 L343.4 424.1 L344.4 423.0 L345.4 422.2 L346.2 421.8 L347.0 422.3 L347.7 422.4 L348.3 423.4 L348.9 423.6 L349.5 424.3 L350.1 425.0 L350.7 425.2 L351.3 426.3 L351.9 426.7 L352.5 427.7 L353.1 428.4 L353.7 429.6 L354.3 431.2 L354.9 432.5 L355.5 434.3 L356.1 435.6 L356.8 437.1 L357.5 438.4 L358.2 439.5 L358.8 440.4 L359.3 441.0 L359.8 441.1 L360.3 441.1 L360.7 441.1 L361.0 441.1 L361.0 441.1 Z" fill="#7b7be0" fill-opacity="0.34"/>
<line x1="321.3" y1="441.5" x2="430.4" y2="441.5" stroke="#9191d6" stroke-width="1.0"/>
<path d="M322.1 441.1 L322.1 426 M322.1 439.6 L323.00 437.50" fill="none" stroke="#2a2ad8" stroke-width="1.7" stroke-linejoin="round"/>
<path d="M323.0 437.5 L323.8 436.9 L325.0 436.3 L326.3 435.6 L327.7 434.8 L329.0 434.1 L330.2 433.6 L331.4 432.9 L332.6 432.4 L333.8 431.8 L335.0 431.3 L336.3 430.1 L337.5 429.6 L338.8 428.0 L340.1 427.1 L341.2 426.0 L342.4 425.5 L343.4 424.1 L344.4 423.0 L345.4 422.2 L346.2 421.8 L347.0 422.3 L347.7 422.4 L348.3 423.4 L348.9 423.6 L349.5 424.3 L350.1 425.0 L350.7 425.2 L351.3 426.3 L351.9 426.7 L352.5 427.7 L353.1 428.4 L353.7 429.6 L354.3 431.2 L354.9 432.5 L355.5 434.3 L356.1 435.6 L356.8 437.1 L357.5 438.4 L358.2 439.5 L358.8 440.4 L359.3 441.0 L359.8 441.1 L360.3 441.1 L360.7 441.1 L361.0 441.1" fill="none" stroke="#2a2ad8" stroke-width="1.02" stroke-linejoin="round"/>
<path d="M323.0 437.5 L323.8 436.9 L325.0 436.3 L326.3 435.6 L327.7 434.8 L329.0 434.1 L330.2 433.6 L331.4 432.9 L332.6 432.4 L333.8 431.8 L335.0 431.3 L336.3 430.1 L337.5 429.6 L338.8 428.0 L340.1 427.1 L341.2 426.0 L342.4 425.5 L343.4 424.1 L344.4 423.0 L345.4 422.2 L346.2 421.8 L347.0 422.3 L347.7 422.4 L348.3 423.4 L348.9 423.6 L349.5 424.3 L350.1 425.0 L350.7 425.2 L351.3 426.3 L351.9 426.7 L352.5 427.7 L353.1 428.4 L353.7 429.6 L354.3 431.2 L354.9 432.5 L355.5 434.3 L356.1 435.6 L356.8 437.1 L357.5 438.4 L358.2 439.5 M358.2 439.5 L358.8 440.4 M358.8 440.4 L359.3 441.0 M359.3 441.0 L359.8 441.1 M359.8 441.1 L360.3 441.1 M360.3 441.1 L360.7 441.1 M360.7 441.1 L361.0 441.1" fill="none" stroke="#2a2ad8" stroke-width="1.7" stroke-linejoin="round" stroke-linecap="round"/>
<path d="M321.3 452.6 L323.0 450.0 L323.8 449.5 L325.0 448.8 L326.3 447.8 L327.7 447.3 L329.0 446.7 L330.2 445.9 L331.3 444.9 L332.5 444.4 L333.7 443.5 L335.0 443.1 L336.4 442.1 L338.0 441.1 L339.5 440.7 L341.1 439.4 L342.5 438.5 L343.9 437.5 L345.3 436.9 L346.6 435.8 L347.8 434.5 L348.8 434.3 L349.4 434.3 L349.9 434.4 L350.3 435.0 L350.6 435.6 L351.0 436.1 L351.5 436.6 L352.0 436.7 L352.5 437.2 L353.1 438.2 L353.8 438.9 L354.5 440.1 L355.3 441.0 L356.2 442.2 L357.1 443.7 L358.0 445.2 L358.9 446.4 L359.9 447.8 L360.8 449.8 L361.7 451.0 L362.5 451.8 L363.2 452.4 L363.8 452.5 L364.3 452.5 L364.7 452.5 L365.0 452.5 L365.0 452.6 Z" fill="#7b7be0" fill-opacity="0.34"/>
<line x1="321.3" y1="452.5" x2="430.4" y2="452.5" stroke="#8888ca" stroke-width="1.0"/>
<path d="M322.1 452.6 L322.1 438 M322.1 451.1 L323.00 450.00" fill="none" stroke="#1414b8" stroke-width="1.7" stroke-linejoin="round"/>
<path d="M323.0 450.0 L323.8 449.5 L325.0 448.8 L326.3 447.8 L327.7 447.3 L329.0 446.7 L330.2 445.9 L331.3 444.9 L332.5 444.4 L333.7 443.5 L335.0 443.1 L336.4 442.1 L338.0 441.1 L339.5 440.7 L341.1 439.4 L342.5 438.5 L343.9 437.5 L345.3 436.9 L346.6 435.8 L347.8 434.5 L348.8 434.3 L349.4 434.3 L349.9 434.4 L350.3 435.0 L350.6 435.6 L351.0 436.1 L351.5 436.6 L352.0 436.7 L352.5 437.2 L353.1 438.2 L353.8 438.9 L354.5 440.1 L355.3 441.0 L356.2 442.2 L357.1 443.7 L358.0 445.2 L358.9 446.4 L359.9 447.8 L360.8 449.8 L361.7 451.0 L362.5 451.8 L363.2 452.4 L363.8 452.5 L364.3 452.5 L364.7 452.5 L365.0 452.5" fill="none" stroke="#1414b8" stroke-width="1.02" stroke-linejoin="round"/>
<path d="M323.0 450.0 L323.8 449.5 L325.0 448.8 L326.3 447.8 L327.7 447.3 L329.0 446.7 L330.2 445.9 L331.3 444.9 L332.5 444.4 L333.7 443.5 L335.0 443.1 L336.4 442.1 L338.0 441.1 L339.5 440.7 L341.1 439.4 L342.5 438.5 L343.9 437.5 L345.3 436.9 L346.6 435.8 L347.8 434.5 L348.8 434.3 L349.4 434.3 L349.9 434.4 L350.3 435.0 L350.6 435.6 L351.0 436.1 L351.5 436.6 L352.0 436.7 L352.5 437.2 L353.1 438.2 L353.8 438.9 L354.5 440.1 L355.3 441.0 L356.2 442.2 L357.1 443.7 L358.0 445.2 L358.9 446.4 L359.9 447.8 L360.8 449.8 L361.7 451.0 M361.7 451.0 L362.5 451.8 M362.5 451.8 L363.2 452.4 M363.2 452.4 L363.8 452.5 M363.8 452.5 L364.3 452.5 M364.3 452.5 L364.7 452.5 M364.7 452.5 L365.0 452.5" fill="none" stroke="#1414b8" stroke-width="1.7" stroke-linejoin="round" stroke-linecap="round"/>
<path d="M321.3 464.2 L323.0 461.2 L323.9 461.0 L325.3 460.6 L326.8 460.3 L328.5 460.1 L330.0 459.6 L331.5 459.4 L333.0 458.7 L334.5 458.4 L336.1 457.7 L337.5 457.5 L338.9 456.9 L340.2 456.6 L341.5 456.0 L342.7 455.3 L344.0 455.1 L345.2 454.3 L346.5 453.8 L347.7 453.7 L348.9 453.0 L350.0 452.7 L351.1 451.4 L352.1 450.6 L353.1 450.0 L354.1 448.7 L355.0 448.2 L355.9 447.2 L356.7 446.9 L357.4 446.6 L358.1 446.5 L358.8 446.4 L359.3 446.2 L359.7 446.7 L360.1 446.9 L360.5 447.1 L361.0 447.3 L361.5 448.1 L362.0 448.4 L362.5 448.7 L363.1 449.0 L363.8 450.2 L364.5 450.9 L365.3 452.2 L366.2 454.0 L367.1 455.7 L368.0 456.7 L368.9 458.5 L369.9 460.2 L370.8 461.3 L371.7 462.9 L372.5 463.9 L373.2 464.2 L373.8 464.2 L374.3 464.2 L374.7 464.2 L375.0 464.2 L375.0 464.2 Z" fill="#7b7be0" fill-opacity="0.34"/>
<line x1="321.3" y1="464.5" x2="430.4" y2="464.5" stroke="#8484bd" stroke-width="1.0"/>
<path d="M322.1 464.2 L322.1 450 M322.1 462.7 L323.00 461.25" fill="none" stroke="#0a0a98" stroke-width="1.7" stroke-linejoin="round"/>
<path d="M323.0 461.2 L323.9 461.0 L325.3 460.6 L326.8 460.3 L328.5 460.1 L330.0 459.6 L331.5 459.4 L333.0 458.7 L334.5 458.4 L336.1 457.7 L337.5 457.5 L338.9 456.9 L340.2 456.6 L341.5 456.0 L342.7 455.3 L344.0 455.1 L345.2 454.3 L346.5 453.8 L347.7 453.7 L348.9 453.0 L350.0 452.7 L351.1 451.4 L352.1 450.6 L353.1 450.0 L354.1 448.7 L355.0 448.2 L355.9 447.2 L356.7 446.9 L357.4 446.6 L358.1 446.5 L358.8 446.4 L359.3 446.2 L359.7 446.7 L360.1 446.9 L360.5 447.1 L361.0 447.3 L361.5 448.1 L362.0 448.4 L362.5 448.7 L363.1 449.0 L363.8 450.2 L364.5 450.9 L365.3 452.2 L366.2 454.0 L367.1 455.7 L368.0 456.7 L368.9 458.5 L369.9 460.2 L370.8 461.3 L371.7 462.9 L372.5 463.9 L373.2 464.2 L373.8 464.2 L374.3 464.2 L374.7 464.2 L375.0 464.2" fill="none" stroke="#0a0a98" stroke-width="1.02" stroke-linejoin="round"/>
<path d="M323.0 461.2 L323.9 461.0 L325.3 460.6 L326.8 460.3 L328.5 460.1 L330.0 459.6 L331.5 459.4 L333.0 458.7 L334.5 458.4 L336.1 457.7 L337.5 457.5 L338.9 456.9 L340.2 456.6 L341.5 456.0 L342.7 455.3 L344.0 455.1 L345.2 454.3 L346.5 453.8 L347.7 453.7 L348.9 453.0 L350.0 452.7 L351.1 451.4 L352.1 450.6 L353.1 450.0 L354.1 448.7 L355.0 448.2 L355.9 447.2 L356.7 446.9 L357.4 446.6 L358.1 446.5 L358.8 446.4 L359.3 446.2 L359.7 446.7 L360.1 446.9 L360.5 447.1 L361.0 447.3 L361.5 448.1 L362.0 448.4 L362.5 448.7 L363.1 449.0 L363.8 450.2 L364.5 450.9 L365.3 452.2 L366.2 454.0 L367.1 455.7 L368.0 456.7 L368.9 458.5 L369.9 460.2 L370.8 461.3 L371.7 462.9 M371.7 462.9 L372.5 463.9 M372.5 463.9 L373.2 464.2 M373.2 464.2 L373.8 464.2 M373.8 464.2 L374.3 464.2 M374.3 464.2 L374.7 464.2 M374.7 464.2 L375.0 464.2" fill="none" stroke="#0a0a98" stroke-width="1.7" stroke-linejoin="round" stroke-linecap="round"/>
<path d="M321.3 475.7 L323.0 471.2 L324.3 470.8 L326.3 470.3 L328.5 470.2 L330.7 469.7 L332.5 469.0 L334.0 467.8 L335.3 466.8 L336.6 465.7 L337.7 464.6 L338.8 463.9 L339.7 463.0 L340.6 461.9 L341.4 461.4 L342.2 461.0 L343.0 460.1 L343.9 459.3 L344.9 458.3 L345.8 457.5 L346.7 456.9 L347.5 456.5 L348.1 456.3 L348.6 456.7 L349.1 457.3 L349.5 457.9 L350.0 458.4 L350.5 458.8 L351.0 459.1 L351.4 460.1 L351.9 460.5 L352.5 461.4 L353.1 462.5 L353.8 463.4 L354.5 464.5 L355.3 465.6 L356.0 466.8 L356.8 468.6 L357.7 470.1 L358.5 472.0 L359.3 473.5 L360.0 474.6 L360.6 475.0 L361.0 475.5 L361.4 475.5 L361.8 475.5 L362.0 475.6 L362.0 475.7 Z" fill="#7b7be0" fill-opacity="0.34"/>
<line x1="321.3" y1="475.5" x2="430.4" y2="475.5" stroke="#8282ad" stroke-width="1.0"/>
<path d="M322.1 475.7 L322.1 462 M322.1 474.2 L323.00 471.25" fill="none" stroke="#060670" stroke-width="1.7" stroke-linejoin="round"/>
<path d="M323.0 471.2 L324.3 470.8 L326.3 470.3 L328.5 470.2 L330.7 469.7 L332.5 469.0 L334.0 467.8 L335.3 466.8 L336.6 465.7 L337.7 464.6 L338.8 463.9 L339.7 463.0 L340.6 461.9 L341.4 461.4 L342.2 461.0 L343.0 460.1 L343.9 459.3 L344.9 458.3 L345.8 457.5 L346.7 456.9 L347.5 456.5 L348.1 456.3 L348.6 456.7 L349.1 457.3 L349.5 457.9 L350.0 458.4 L350.5 458.8 L351.0 459.1 L351.4 460.1 L351.9 460.5 L352.5 461.4 L353.1 462.5 L353.8 463.4 L354.5 464.5 L355.3 465.6 L356.0 466.8 L356.8 468.6 L357.7 470.1 L358.5 472.0 L359.3 473.5 L360.0 474.6 L360.6 475.0 L361.0 475.5 L361.4 475.5 L361.8 475.5 L362.0 475.6" fill="none" stroke="#060670" stroke-width="1.02" stroke-linejoin="round"/>
<path d="M323.0 471.2 L324.3 470.8 L326.3 470.3 L328.5 470.2 L330.7 469.7 L332.5 469.0 L334.0 467.8 L335.3 466.8 L336.6 465.7 L337.7 464.6 L338.8 463.9 L339.7 463.0 L340.6 461.9 L341.4 461.4 L342.2 461.0 L343.0 460.1 L343.9 459.3 L344.9 458.3 L345.8 457.5 L346.7 456.9 L347.5 456.5 L348.1 456.3 L348.6 456.7 L349.1 457.3 L349.5 457.9 L350.0 458.4 L350.5 458.8 L351.0 459.1 L351.4 460.1 L351.9 460.5 L352.5 461.4 L353.1 462.5 L353.8 463.4 L354.5 464.5 L355.3 465.6 L356.0 466.8 L356.8 468.6 L357.7 470.1 L358.5 472.0 L359.3 473.5 L360.0 474.6 M360.0 474.6 L360.6 475.0 M360.6 475.0 L361.0 475.5 M361.0 475.5 L361.4 475.5 M361.4 475.5 L361.8 475.5 M361.8 475.5 L362.0 475.6" fill="none" stroke="#060670" stroke-width="1.7" stroke-linejoin="round" stroke-linecap="round"/>
<path d="M321.3 487.2 L323.0 485.0 L323.3 484.2 L323.6 483.3 L324.1 482.0 L324.5 481.1 L325.0 479.8 L325.5 479.4 L325.9 478.2 L326.4 477.5 L326.9 476.9 L327.5 476.2 L328.1 475.6 L328.8 474.4 L329.5 473.4 L330.3 472.5 L331.0 472.0 L331.8 471.4 L332.6 470.2 L333.5 469.7 L334.3 469.1 L335.0 468.7 L335.6 469.0 L336.1 468.7 L336.6 469.1 L337.0 469.7 L337.5 470.0 L338.0 470.1 L338.4 470.1 L338.8 470.1 L339.3 470.6 L340.0 471.2 L340.8 472.2 L341.8 473.5 L342.9 475.0 L344.0 476.4 L345.0 478.1 L346.0 479.9 L347.1 481.7 L348.1 483.6 L349.1 485.2 L350.0 486.3 L350.8 486.9 L351.5 487.2 L352.1 487.0 L352.6 487.0 L353.0 487.0 L353.0 487.2 Z" fill="#000" fill-opacity="0.19"/>
<line x1="321.3" y1="487.5" x2="430.4" y2="487.5" stroke="#878787" stroke-width="1.0"/>
<path d="M322.1 487.2 L322.1 472 M322.1 485.7 L323.00 485.00" fill="none" stroke="#111" stroke-width="1.8" stroke-linejoin="round"/>
<path d="M323.0 485.0 L323.3 484.2 L323.6 483.3 L324.1 482.0 L324.5 481.1 L325.0 479.8 L325.5 479.4 L325.9 478.2 L326.4 477.5 L326.9 476.9 L327.5 476.2 L328.1 475.6 L328.8 474.4 L329.5 473.4 L330.3 472.5 L331.0 472.0 L331.8 471.4 L332.6 470.2 L333.5 469.7 L334.3 469.1 L335.0 468.7 L335.6 469.0 L336.1 468.7 L336.6 469.1 L337.0 469.7 L337.5 470.0 L338.0 470.1 L338.4 470.1 L338.8 470.1 L339.3 470.6 L340.0 471.2 L340.8 472.2 L341.8 473.5 L342.9 475.0 L344.0 476.4 L345.0 478.1 L346.0 479.9 L347.1 481.7 L348.1 483.6 L349.1 485.2 L350.0 486.3 L350.8 486.9 L351.5 487.2 L352.1 487.0 L352.6 487.0 L353.0 487.0" fill="none" stroke="#111" stroke-width="1.08" stroke-linejoin="round"/>
<path d="M323.0 485.0 L323.3 484.2 L323.6 483.3 L324.1 482.0 L324.5 481.1 L325.0 479.8 L325.5 479.4 L325.9 478.2 L326.4 477.5 L326.9 476.9 L327.5 476.2 L328.1 475.6 L328.8 474.4 L329.5 473.4 L330.3 472.5 L331.0 472.0 L331.8 471.4 L332.6 470.2 L333.5 469.7 L334.3 469.1 L335.0 468.7 L335.6 469.0 L336.1 468.7 L336.6 469.1 L337.0 469.7 L337.5 470.0 L338.0 470.1 L338.4 470.1 L338.8 470.1 L339.3 470.6 L340.0 471.2 L340.8 472.2 L341.8 473.5 L342.9 475.0 L344.0 476.4 L345.0 478.1 L346.0 479.9 L347.1 481.7 L348.1 483.6 L349.1 485.2 L350.0 486.3 M350.0 486.3 L350.8 486.9 M350.8 486.9 L351.5 487.2 M351.5 487.2 L352.1 487.0 M352.1 487.0 L352.6 487.0 M352.6 487.0 L353.0 487.0" fill="none" stroke="#111" stroke-width="1.8" stroke-linejoin="round" stroke-linecap="round"/>
<path d="M321.3 498.8 L323.0 495.0 L323.5 494.3 L324.3 492.8 L325.2 491.1 L326.1 489.2 L327.0 488.2 L327.8 487.0 L328.6 485.6 L329.4 485.0 L330.2 483.8 L331.0 482.8 L331.8 482.3 L332.6 481.7 L333.5 481.0 L334.3 480.1 L335.0 480.1 L335.7 480.2 L336.3 480.5 L336.8 480.4 L337.4 480.9 L338.0 481.2 L338.6 481.8 L339.2 482.0 L339.8 482.5 L340.5 483.1 L341.2 484.0 L342.1 485.0 L343.0 486.1 L344.0 487.3 L345.0 488.6 L346.0 490.2 L347.1 491.6 L348.2 493.4 L349.3 495.1 L350.4 496.6 L351.2 498.1 L352.0 498.6 L352.7 498.8 L353.2 498.8 L353.7 498.8 L354.0 498.7 L354.0 498.8 Z" fill="#000" fill-opacity="0.19"/>
<line x1="321.3" y1="498.5" x2="430.4" y2="498.5" stroke="#878787" stroke-width="1.0"/>
<path d="M322.1 498.8 L322.1 484 M322.1 497.3 L323.00 495.00" fill="none" stroke="#111" stroke-width="1.8" stroke-linejoin="round"/>
<path d="M323.0 495.0 L323.5 494.3 L324.3 492.8 L325.2 491.1 L326.1 489.2 L327.0 488.2 L327.8 487.0 L328.6 485.6 L329.4 485.0 L330.2 483.8 L331.0 482.8 L331.8 482.3 L332.6 481.7 L333.5 481.0 L334.3 480.1 L335.0 480.1 L335.7 480.2 L336.3 480.5 L336.8 480.4 L337.4 480.9 L338.0 481.2 L338.6 481.8 L339.2 482.0 L339.8 482.5 L340.5 483.1 L341.2 484.0 L342.1 485.0 L343.0 486.1 L344.0 487.3 L345.0 488.6 L346.0 490.2 L347.1 491.6 L348.2 493.4 L349.3 495.1 L350.4 496.6 L351.2 498.1 L352.0 498.6 L352.7 498.8 L353.2 498.8 L353.7 498.8 L354.0 498.7" fill="none" stroke="#111" stroke-width="1.08" stroke-linejoin="round"/>
<path d="M323.0 495.0 L323.5 494.3 L324.3 492.8 L325.2 491.1 L326.1 489.2 L327.0 488.2 L327.8 487.0 L328.6 485.6 L329.4 485.0 L330.2 483.8 L331.0 482.8 L331.8 482.3 L332.6 481.7 L333.5 481.0 L334.3 480.1 L335.0 480.1 L335.7 480.2 L336.3 480.5 L336.8 480.4 L337.4 480.9 L338.0 481.2 L338.6 481.8 L339.2 482.0 L339.8 482.5 L340.5 483.1 L341.2 484.0 L342.1 485.0 L343.0 486.1 L344.0 487.3 L345.0 488.6 L346.0 490.2 L347.1 491.6 L348.2 493.4 L349.3 495.1 L350.4 496.6 L351.2 498.1 M351.2 498.1 L352.0 498.6 M352.0 498.6 L352.7 498.8 M352.7 498.8 L353.2 498.8 M353.2 498.8 L353.7 498.8 M353.7 498.8 L354.0 498.7" fill="none" stroke="#111" stroke-width="1.8" stroke-linejoin="round" stroke-linecap="round"/>
<path d="M321.3 510.5 L323.0 506.2 L323.7 505.8 L324.7 504.5 L325.8 503.3 L327.0 502.1 L328.0 500.7 L328.9 500.3 L329.9 499.7 L330.8 499.0 L331.7 498.5 L332.5 497.4 L333.3 496.7 L333.9 495.9 L334.6 495.0 L335.3 494.1 L336.0 493.3 L336.8 493.0 L337.6 492.1 L338.4 492.0 L339.3 491.2 L340.0 491.2 L340.7 491.6 L341.3 491.9 L341.8 492.3 L342.4 492.4 L343.0 493.0 L343.6 493.3 L344.3 493.5 L345.0 494.2 L345.6 494.1 L346.2 494.8 L346.8 495.7 L347.4 497.0 L347.9 498.1 L348.4 499.6 L349.0 501.0 L349.7 502.4 L350.4 504.8 L351.1 506.7 L351.9 508.3 L352.5 509.6 L353.1 510.3 L353.7 510.5 L354.2 510.4 L354.7 510.4 L355.0 510.4 L355.0 510.5 Z" fill="#000" fill-opacity="0.19"/>
<line x1="321.3" y1="510.5" x2="430.4" y2="510.5" stroke="#878787" stroke-width="1.0"/>
<path d="M322.1 510.5 L322.1 496 M322.1 509.0 L323.00 506.25" fill="none" stroke="#111" stroke-width="1.8" stroke-linejoin="round"/>
<path d="M323.0 506.2 L323.7 505.8 L324.7 504.5 L325.8 503.3 L327.0 502.1 L328.0 500.7 L328.9 500.3 L329.9 499.7 L330.8 499.0 L331.7 498.5 L332.5 497.4 L333.3 496.7 L333.9 495.9 L334.6 495.0 L335.3 494.1 L336.0 493.3 L336.8 493.0 L337.6 492.1 L338.4 492.0 L339.3 491.2 L340.0 491.2 L340.7 491.6 L341.3 491.9 L341.8 492.3 L342.4 492.4 L343.0 493.0 L343.6 493.3 L344.3 493.5 L345.0 494.2 L345.6 494.1 L346.2 494.8 L346.8 495.7 L347.4 497.0 L347.9 498.1 L348.4 499.6 L349.0 501.0 L349.7 502.4 L350.4 504.8 L351.1 506.7 L351.9 508.3 L352.5 509.6 L353.1 510.3 L353.7 510.5 L354.2 510.4 L354.7 510.4 L355.0 510.4" fill="none" stroke="#111" stroke-width="1.08" stroke-linejoin="round"/>
<path d="M323.0 506.2 L323.7 505.8 L324.7 504.5 L325.8 503.3 L327.0 502.1 L328.0 500.7 L328.9 500.3 L329.9 499.7 L330.8 499.0 L331.7 498.5 L332.5 497.4 L333.3 496.7 L333.9 495.9 L334.6 495.0 L335.3 494.1 L336.0 493.3 L336.8 493.0 L337.6 492.1 L338.4 492.0 L339.3 491.2 L340.0 491.2 L340.7 491.6 L341.3 491.9 L341.8 492.3 L342.4 492.4 L343.0 493.0 L343.6 493.3 L344.3 493.5 L345.0 494.2 L345.6 494.1 L346.2 494.8 L346.8 495.7 L347.4 497.0 L347.9 498.1 L348.4 499.6 L349.0 501.0 L349.7 502.4 L350.4 504.8 L351.1 506.7 L351.9 508.3 L352.5 509.6 M352.5 509.6 L353.1 510.3 M353.1 510.3 L353.7 510.5 M353.7 510.5 L354.2 510.4 M354.2 510.4 L354.7 510.4 M354.7 510.4 L355.0 510.4" fill="none" stroke="#111" stroke-width="1.8" stroke-linejoin="round" stroke-linecap="round"/>
<path d="M321.3 522.2 L323.0 518.8 L323.4 518.5 L324.0 517.6 L324.7 516.4 L325.4 515.2 L326.0 513.9 L326.6 512.5 L327.2 510.2 L327.9 508.7 L328.4 506.4 L329.0 504.8 L329.5 503.7 L330.0 502.6 L330.4 502.1 L330.8 501.6 L331.2 501.0 L331.7 501.3 L332.1 501.3 L332.6 501.8 L333.0 502.7 L333.5 503.3 L334.0 503.7 L334.5 504.1 L335.1 504.8 L335.6 505.4 L336.2 506.2 L336.9 507.5 L337.6 508.9 L338.4 510.9 L339.2 512.2 L340.0 514.1 L340.9 515.6 L341.9 517.4 L342.9 518.6 L344.0 520.3 L345.0 521.1 L346.1 521.9 L347.2 522.1 L348.4 522.1 L349.3 521.9 L350.0 522.0 L350.0 522.2 Z" fill="#000" fill-opacity="0.09"/>
<line x1="321.3" y1="522.5" x2="430.4" y2="522.5" stroke="#bdbdbd" stroke-width="1.0"/>
<path d="M322.1 522.2 L322.1 505 M322.1 520.7 L323.00 518.75" fill="none" stroke="#999" stroke-width="1.7" stroke-linejoin="round"/>
<path d="M323.0 518.8 L323.4 518.5 L324.0 517.6 L324.7 516.4 L325.4 515.2 L326.0 513.9 L326.6 512.5 L327.2 510.2 L327.9 508.7 L328.4 506.4 L329.0 504.8 L329.5 503.7 L330.0 502.6 L330.4 502.1 L330.8 501.6 L331.2 501.0 L331.7 501.3 L332.1 501.3 L332.6 501.8 L333.0 502.7 L333.5 503.3 L334.0 503.7 L334.5 504.1 L335.1 504.8 L335.6 505.4 L336.2 506.2 L336.9 507.5 L337.6 508.9 L338.4 510.9 L339.2 512.2 L340.0 514.1 L340.9 515.6 L341.9 517.4 L342.9 518.6 L344.0 520.3 L345.0 521.1 L346.1 521.9 L347.2 522.1 L348.4 522.1 L349.3 521.9 L350.0 522.0" fill="none" stroke="#999" stroke-width="0.78" stroke-linejoin="round"/>
<path d="M323.0 518.8 L323.4 518.5 L324.0 517.6 L324.7 516.4 L325.4 515.2 L326.0 513.9 L326.6 512.5 L327.2 510.2 L327.9 508.7 L328.4 506.4 L329.0 504.8 L329.5 503.7 L330.0 502.6 L330.4 502.1 L330.8 501.6 L331.2 501.0 L331.7 501.3 L332.1 501.3 L332.6 501.8 L333.0 502.7 L333.5 503.3 L334.0 503.7 L334.5 504.1 L335.1 504.8 L335.6 505.4 L336.2 506.2 L336.9 507.5 L337.6 508.9 L338.4 510.9 L339.2 512.2 L340.0 514.1 L340.9 515.6 L341.9 517.4 L342.9 518.6 L344.0 520.3 M344.0 520.3 L345.0 521.1 M345.0 521.1 L346.1 521.9 M346.1 521.9 L347.2 522.1 M347.2 522.1 L348.4 522.1 M348.4 522.1 L349.3 521.9 M349.3 521.9 L350.0 522.0" fill="none" stroke="#999" stroke-width="1.3" stroke-linejoin="round" stroke-linecap="round"/>
<text x="391.80" y="369.50" font-size="8.36" fill="#cf4229" stroke="#cf4229" stroke-width="0.18" textLength="27.72" lengthAdjust="spacingAndGlyphs">AML&#160;14</text>
<text x="391.80" y="381.30" font-size="8.36" fill="#cf4229" stroke="#cf4229" stroke-width="0.18" textLength="27.72" lengthAdjust="spacingAndGlyphs">AML&#160;13</text>
<text x="391.80" y="393.10" font-size="8.36" fill="#cf4229" stroke="#cf4229" stroke-width="0.18" textLength="23.20" lengthAdjust="spacingAndGlyphs">AML&#160;9</text>
<text x="391.80" y="404.80" font-size="8.36" fill="#cf4229" stroke="#cf4229" stroke-width="0.18" textLength="23.20" lengthAdjust="spacingAndGlyphs">AML&#160;8</text>
<text x="391.80" y="416.50" font-size="8.36" fill="#cf4229" stroke="#cf4229" stroke-width="0.18" textLength="23.20" lengthAdjust="spacingAndGlyphs">AML&#160;2</text>
<text x="391.80" y="428.30" font-size="8.36" fill="#40409e" stroke="#40409e" stroke-width="0.18" textLength="23.20" lengthAdjust="spacingAndGlyphs">AML&#160;6</text>
<text x="391.80" y="440.10" font-size="8.36" fill="#40409e" stroke="#40409e" stroke-width="0.18" textLength="23.20" lengthAdjust="spacingAndGlyphs">AML&#160;5</text>
<text x="391.80" y="451.60" font-size="8.36" fill="#40409e" stroke="#40409e" stroke-width="0.18" textLength="23.20" lengthAdjust="spacingAndGlyphs">AML&#160;4</text>
<text x="391.80" y="463.20" font-size="8.36" fill="#40409e" stroke="#40409e" stroke-width="0.18" textLength="23.20" lengthAdjust="spacingAndGlyphs">AML&#160;3</text>
<text x="391.80" y="474.70" font-size="8.36" fill="#40409e" stroke="#40409e" stroke-width="0.18" textLength="23.20" lengthAdjust="spacingAndGlyphs">AML&#160;1</text>
<text x="391.80" y="486.20" font-size="8.36" fill="#111" stroke="#111" stroke-width="0.18" textLength="24.85" lengthAdjust="spacingAndGlyphs">NBM&#160;3</text>
<text x="391.80" y="497.80" font-size="8.36" fill="#111" stroke="#111" stroke-width="0.18" textLength="24.85" lengthAdjust="spacingAndGlyphs">NBM&#160;2</text>
<text x="391.80" y="509.50" font-size="8.36" fill="#111" stroke="#111" stroke-width="0.18" textLength="24.85" lengthAdjust="spacingAndGlyphs">NBM&#160;1</text>
<text x="364.50" y="521.10" font-size="8.36" fill="#9a9a9a" textLength="57.30" lengthAdjust="spacingAndGlyphs">No&#160;stain&#160;control</text>
<line x1="321.3" y1="524.4" x2="429.9" y2="524.4" stroke="#444" stroke-width="0.8"/>
<line x1="321.3" y1="524.0" x2="321.3" y2="526.4" stroke="#111" stroke-width="1.1"/>
<line x1="329.4729643822771" y1="524.4" x2="329.4729643822771" y2="525.6999999999999" stroke="#444" stroke-width="0.7"/>
<line x1="334.2538420656388" y1="524.4" x2="334.2538420656388" y2="525.6999999999999" stroke="#444" stroke-width="0.7"/>
<line x1="337.6459287645542" y1="524.4" x2="337.6459287645542" y2="525.6999999999999" stroke="#444" stroke-width="0.7"/>
<line x1="340.2770356177229" y1="524.4" x2="340.2770356177229" y2="525.6999999999999" stroke="#444" stroke-width="0.7"/>
<line x1="342.4268064479159" y1="524.4" x2="342.4268064479159" y2="525.6999999999999" stroke="#444" stroke-width="0.7"/>
<line x1="344.2444117863871" y1="524.4" x2="344.2444117863871" y2="525.6999999999999" stroke="#444" stroke-width="0.7"/>
<line x1="345.8188931468313" y1="524.4" x2="345.8188931468313" y2="525.6999999999999" stroke="#444" stroke-width="0.7"/>
<line x1="347.2076841312777" y1="524.4" x2="347.2076841312777" y2="525.6999999999999" stroke="#444" stroke-width="0.7"/>
<line x1="348.45" y1="524.0" x2="348.45" y2="526.4" stroke="#111" stroke-width="1.1"/>
<line x1="356.6229643822771" y1="524.4" x2="356.6229643822771" y2="525.6999999999999" stroke="#444" stroke-width="0.7"/>
<line x1="361.40384206563886" y1="524.4" x2="361.40384206563886" y2="525.6999999999999" stroke="#444" stroke-width="0.7"/>
<line x1="364.79592876455416" y1="524.4" x2="364.79592876455416" y2="525.6999999999999" stroke="#444" stroke-width="0.7"/>
<line x1="367.42703561772294" y1="524.4" x2="367.42703561772294" y2="525.6999999999999" stroke="#444" stroke-width="0.7"/>
<line x1="369.57680644791594" y1="524.4" x2="369.57680644791594" y2="525.6999999999999" stroke="#444" stroke-width="0.7"/>
<line x1="371.3944117863871" y1="524.4" x2="371.3944117863871" y2="525.6999999999999" stroke="#444" stroke-width="0.7"/>
<line x1="372.96889314683125" y1="524.4" x2="372.96889314683125" y2="525.6999999999999" stroke="#444" stroke-width="0.7"/>
<line x1="374.35768413127767" y1="524.4" x2="374.35768413127767" y2="525.6999999999999" stroke="#444" stroke-width="0.7"/>
<line x1="375.6" y1="524.0" x2="375.6" y2="526.4" stroke="#111" stroke-width="1.1"/>
<line x1="383.7729643822771" y1="524.4" x2="383.7729643822771" y2="525.6999999999999" stroke="#444" stroke-width="0.7"/>
<line x1="388.55384206563883" y1="524.4" x2="388.55384206563883" y2="525.6999999999999" stroke="#444" stroke-width="0.7"/>
<line x1="391.9459287645542" y1="524.4" x2="391.9459287645542" y2="525.6999999999999" stroke="#444" stroke-width="0.7"/>
<line x1="394.5770356177229" y1="524.4" x2="394.5770356177229" y2="525.6999999999999" stroke="#444" stroke-width="0.7"/>
<line x1="396.7268064479159" y1="524.4" x2="396.7268064479159" y2="525.6999999999999" stroke="#444" stroke-width="0.7"/>
<line x1="398.54441178638706" y1="524.4" x2="398.54441178638706" y2="525.6999999999999" stroke="#444" stroke-width="0.7"/>
<line x1="400.1188931468313" y1="524.4" x2="400.1188931468313" y2="525.6999999999999" stroke="#444" stroke-width="0.7"/>
<line x1="401.50768413127764" y1="524.4" x2="401.50768413127764" y2="525.6999999999999" stroke="#444" stroke-width="0.7"/>
<line x1="402.75" y1="524.0" x2="402.75" y2="526.4" stroke="#111" stroke-width="1.1"/>
<line x1="410.9229643822771" y1="524.4" x2="410.9229643822771" y2="525.6999999999999" stroke="#444" stroke-width="0.7"/>
<line x1="415.7038420656388" y1="524.4" x2="415.7038420656388" y2="525.6999999999999" stroke="#444" stroke-width="0.7"/>
<line x1="419.0959287645542" y1="524.4" x2="419.0959287645542" y2="525.6999999999999" stroke="#444" stroke-width="0.7"/>
<line x1="421.7270356177229" y1="524.4" x2="421.7270356177229" y2="525.6999999999999" stroke="#444" stroke-width="0.7"/>
<line x1="423.8768064479159" y1="524.4" x2="423.8768064479159" y2="525.6999999999999" stroke="#444" stroke-width="0.7"/>
<line x1="425.69441178638704" y1="524.4" x2="425.69441178638704" y2="525.6999999999999" stroke="#444" stroke-width="0.7"/>
<line x1="427.26889314683126" y1="524.4" x2="427.26889314683126" y2="525.6999999999999" stroke="#444" stroke-width="0.7"/>
<line x1="428.6576841312776" y1="524.4" x2="428.6576841312776" y2="525.6999999999999" stroke="#444" stroke-width="0.7"/>
<line x1="429.9" y1="524.0" x2="429.9" y2="526.4" stroke="#111" stroke-width="1.1"/>
<text x="320.00" y="535.6" font-size="8.0" text-anchor="middle" fill="#111">10</text>
<text x="324.40" y="532.70" font-size="4.4" text-anchor="start" fill="#222">0</text>
<text x="347.15" y="535.6" font-size="8.0" text-anchor="middle" fill="#111">10</text>
<text x="351.55" y="532.70" font-size="4.4" text-anchor="start" fill="#222">1</text>
<text x="374.30" y="535.6" font-size="8.0" text-anchor="middle" fill="#111">10</text>
<text x="378.70" y="532.70" font-size="4.4" text-anchor="start" fill="#222">2</text>
<text x="401.45" y="535.6" font-size="8.0" text-anchor="middle" fill="#111">10</text>
<text x="405.85" y="532.70" font-size="4.4" text-anchor="start" fill="#222">3</text>
<text x="428.60" y="535.6" font-size="8.0" text-anchor="middle" fill="#111">10</text>
<text x="433.00" y="532.70" font-size="4.4" text-anchor="start" fill="#222">4</text>
<text x="82.20" y="575.00" font-size="9.3" fill="#1a1a1a" stroke="#1a1a1a" stroke-width="0.12" textLength="23.34" lengthAdjust="spacingAndGlyphs">CD34</text>
<text x="105.54" y="571.37" font-size="6.696000000000001" fill="#1a1a1a" stroke="#1a1a1a" stroke-width="0.12" textLength="3.84" lengthAdjust="spacingAndGlyphs">+</text>
<text x="109.38" y="575.00" font-size="9.3" fill="#1a1a1a" stroke="#1a1a1a" stroke-width="0.12" textLength="22.82" lengthAdjust="spacingAndGlyphs">&#160;Cells</text>
<line x1="49.5" y1="593.3" x2="49.5" y2="666.6" stroke="#1a1a1a" stroke-width="1.3"/>
<line x1="49" y1="666" x2="165" y2="666" stroke="#1a1a1a" stroke-width="1.5"/>
<line x1="46.5" y1="666.0" x2="49.5" y2="666.0" stroke="#1a1a1a" stroke-width="1.0"/>
<text x="42.9" y="668.5" font-size="7.4" text-anchor="end" fill="#111" font-weight="normal" stroke="#111" stroke-width="0.12">0</text>
<line x1="46.5" y1="648.55" x2="49.5" y2="648.55" stroke="#1a1a1a" stroke-width="1.0"/>
<text x="42.9" y="651.05" font-size="7.4" text-anchor="end" fill="#111" font-weight="normal" stroke="#111" stroke-width="0.12">10</text>
<line x1="46.5" y1="631.1" x2="49.5" y2="631.1" stroke="#1a1a1a" stroke-width="1.0"/>
<text x="42.9" y="633.6" font-size="7.4" text-anchor="end" fill="#111" font-weight="normal" stroke="#111" stroke-width="0.12">20</text>
<line x1="46.5" y1="613.65" x2="49.5" y2="613.65" stroke="#1a1a1a" stroke-width="1.0"/>
<text x="42.9" y="616.15" font-size="7.4" text-anchor="end" fill="#111" font-weight="normal" stroke="#111" stroke-width="0.12">30</text>
<line x1="46.5" y1="596.2" x2="49.5" y2="596.2" stroke="#1a1a1a" stroke-width="1.0"/>
<text x="42.9" y="598.7" font-size="7.4" text-anchor="end" fill="#111" font-weight="normal" stroke="#111" stroke-width="0.12">40</text>
<rect x="60.60" y="660.20" width="20.20" height="5.80" fill="#69a947"/>
<line x1="60.6" y1="660.5" x2="80.8" y2="660.5" stroke="#4a8a2c" stroke-width="0.7"/>
<line x1="70.7" y1="659" x2="70.7" y2="660.2" stroke="#4a4a4a" stroke-width="1.2"/>
<line x1="65.0" y1="659" x2="76.4" y2="659" stroke="#4a4a4a" stroke-width="1.2"/>
<rect x="91.70" y="655.80" width="20.20" height="10.20" fill="#2b4a82"/>
<line x1="91.7" y1="656.1" x2="111.9" y2="656.1" stroke="#1d3a6c" stroke-width="0.7"/>
<line x1="101.80000000000001" y1="651" x2="101.80000000000001" y2="655.8000000000001" stroke="#4a4a4a" stroke-width="1.2"/>
<line x1="96.30000000000001" y1="651" x2="107.30000000000001" y2="651" stroke="#4a4a4a" stroke-width="1.2"/>
<rect x="123.50" y="638.50" width="19.90" height="27.50" fill="#a3002b"/>
<line x1="123.5" y1="638.8" x2="143.4" y2="638.8" stroke="#850020" stroke-width="0.7"/>
<line x1="133.45" y1="615.8" x2="133.45" y2="638.5" stroke="#4a4a4a" stroke-width="1.2"/>
<line x1="128.1" y1="615.8" x2="138.79999999999998" y2="615.8" stroke="#4a4a4a" stroke-width="1.2"/>
<line x1="70.7" y1="666" x2="70.7" y2="669" stroke="#1a1a1a" stroke-width="1"/>
<line x1="101.8" y1="666" x2="101.8" y2="669" stroke="#1a1a1a" stroke-width="1"/>
<line x1="133.5" y1="666" x2="133.5" y2="669" stroke="#1a1a1a" stroke-width="1"/>
<text x="70.7" y="677.7" font-size="7.3" text-anchor="middle" fill="#222" font-weight="normal" stroke="#222" stroke-width="0.12">NBM</text>
<text x="101.5" y="677.7" font-size="7.3" text-anchor="middle" fill="#222" font-weight="normal" stroke="#222" stroke-width="0.12">non-MLL</text>
<text x="132.7" y="677.7" font-size="7.3" text-anchor="middle" fill="#222" font-weight="normal" stroke="#222" stroke-width="0.12">MLL</text>
<line x1="70.5" y1="591.5" x2="127" y2="591.5" stroke="#3a3a3a" stroke-width="1.15"/>
<text x="98.7" y="589.8" font-size="5.6" text-anchor="middle" fill="#222" font-weight="normal" stroke="#222" stroke-width="0.12">P=0.0061</text>
<line x1="70.7" y1="603.4" x2="99.5" y2="603.4" stroke="#3a3a3a" stroke-width="1.15"/>
<text x="85.1" y="601.6" font-size="5.6" text-anchor="middle" fill="#222" font-weight="normal" stroke="#222" stroke-width="0.12">P=0.0025</text>
<line x1="106.7" y1="603.4" x2="135" y2="603.4" stroke="#3a3a3a" stroke-width="1.15"/>
<text x="120.6" y="601.6" font-size="5.6" text-anchor="middle" fill="#222" font-weight="normal" stroke="#222" stroke-width="0.12">P=0.0057</text>
<text x="239.80" y="575.00" font-size="9.3" fill="#1a1a1a" stroke="#1a1a1a" stroke-width="0.12" textLength="23.02" lengthAdjust="spacingAndGlyphs">CD34</text>
<text x="262.82" y="571.37" font-size="6.696000000000001" fill="#1a1a1a" stroke="#1a1a1a" stroke-width="0.12" textLength="3.79" lengthAdjust="spacingAndGlyphs">+</text>
<text x="266.61" y="575.00" font-size="9.3" fill="#1a1a1a" stroke="#1a1a1a" stroke-width="0.12" textLength="23.02" lengthAdjust="spacingAndGlyphs">CD38</text>
<text x="289.63" y="571.56" font-size="6.696000000000001" fill="#1a1a1a" stroke="#1a1a1a" stroke-width="0.12" textLength="2.16" lengthAdjust="spacingAndGlyphs">-</text>
<text x="291.79" y="575.00" font-size="9.3" fill="#1a1a1a" stroke="#1a1a1a" stroke-width="0.12" textLength="22.51" lengthAdjust="spacingAndGlyphs">&#160;Cells</text>
<line x1="219" y1="586" x2="219" y2="666.6" stroke="#1a1a1a" stroke-width="1.3"/>
<line x1="218.5" y1="666" x2="333.5" y2="666" stroke="#1a1a1a" stroke-width="1.5"/>
<line x1="216" y1="666.0" x2="219" y2="666.0" stroke="#1a1a1a" stroke-width="1.0"/>
<text x="213.4" y="668.5" font-size="7.4" text-anchor="end" fill="#111" font-weight="normal" stroke="#111" stroke-width="0.12">0</text>
<line x1="216" y1="646.7" x2="219" y2="646.7" stroke="#1a1a1a" stroke-width="1.0"/>
<text x="213.4" y="649.2" font-size="7.4" text-anchor="end" fill="#111" font-weight="normal" stroke="#111" stroke-width="0.12">5</text>
<line x1="216" y1="627.4" x2="219" y2="627.4" stroke="#1a1a1a" stroke-width="1.0"/>
<text x="213.4" y="629.9" font-size="7.4" text-anchor="end" fill="#111" font-weight="normal" stroke="#111" stroke-width="0.12">10</text>
<line x1="216" y1="608.1" x2="219" y2="608.1" stroke="#1a1a1a" stroke-width="1.0"/>
<text x="213.4" y="610.6" font-size="7.4" text-anchor="end" fill="#111" font-weight="normal" stroke="#111" stroke-width="0.12">15</text>
<line x1="216" y1="588.8" x2="219" y2="588.8" stroke="#1a1a1a" stroke-width="1.0"/>
<text x="213.4" y="591.3" font-size="7.4" text-anchor="end" fill="#111" font-weight="normal" stroke="#111" stroke-width="0.12">20</text>
<rect x="236.90" y="654.10" width="30.50" height="11.90" fill="#69a947"/>
<line x1="236.9" y1="654.4" x2="267.4" y2="654.4" stroke="#4a8a2c" stroke-width="0.7"/>
<line x1="252.14999999999998" y1="652.4" x2="252.14999999999998" y2="654.1" stroke="#4a4a4a" stroke-width="1.2"/>
<line x1="245.64999999999998" y1="652.4" x2="258.65" y2="652.4" stroke="#4a4a4a" stroke-width="1.2"/>
<rect x="285.90" y="624.70" width="31.50" height="41.30" fill="#2b4a82"/>
<line x1="285.9" y1="625" x2="317.4" y2="625" stroke="#1d3a6c" stroke-width="0.7"/>
<line x1="301.65" y1="602.5" x2="301.65" y2="624.7" stroke="#4a4a4a" stroke-width="1.2"/>
<line x1="294.15" y1="602.5" x2="309.15" y2="602.5" stroke="#4a4a4a" stroke-width="1.2"/>
<line x1="252.2" y1="666" x2="252.2" y2="669" stroke="#1a1a1a" stroke-width="1"/>
<line x1="301.5" y1="666" x2="301.5" y2="669" stroke="#1a1a1a" stroke-width="1"/>
<text x="252.2" y="677.7" font-size="7.3" text-anchor="middle" fill="#222" font-weight="normal" stroke="#222" stroke-width="0.12">NBM</text>
<text x="301.5" y="677.7" font-size="7.3" text-anchor="middle" fill="#222" font-weight="normal" stroke="#222" stroke-width="0.12">AML</text>
<line x1="253.6" y1="594.7" x2="299.2" y2="594.7" stroke="#3a3a3a" stroke-width="1.15"/>
<text x="276.7" y="592.4" font-size="5.6" text-anchor="middle" fill="#222" font-weight="normal" stroke="#222" stroke-width="0.12">P=0.002</text>
<text x="403.20" y="575.00" font-size="9.3" fill="#1a1a1a" stroke="#1a1a1a" stroke-width="0.12" textLength="22.93" lengthAdjust="spacingAndGlyphs">CD34</text>
<text x="426.13" y="571.37" font-size="6.696000000000001" fill="#1a1a1a" stroke="#1a1a1a" stroke-width="0.12" textLength="3.77" lengthAdjust="spacingAndGlyphs">+</text>
<text x="429.90" y="575.00" font-size="9.3" fill="#1a1a1a" stroke="#1a1a1a" stroke-width="0.12" textLength="22.93" lengthAdjust="spacingAndGlyphs">CD38</text>
<text x="452.83" y="571.56" font-size="6.696000000000001" fill="#1a1a1a" stroke="#1a1a1a" stroke-width="0.12" textLength="2.15" lengthAdjust="spacingAndGlyphs">-</text>
<text x="454.98" y="575.00" font-size="9.3" fill="#1a1a1a" stroke="#1a1a1a" stroke-width="0.12" textLength="22.42" lengthAdjust="spacingAndGlyphs">&#160;Cells</text>
<line x1="382.4" y1="589" x2="382.4" y2="666.6" stroke="#1a1a1a" stroke-width="1.3"/>
<line x1="382" y1="666" x2="497" y2="666" stroke="#1a1a1a" stroke-width="1.5"/>
<line x1="379.4" y1="666.0" x2="382.4" y2="666.0" stroke="#1a1a1a" stroke-width="1.0"/>
<text x="376.2" y="668.5" font-size="7.4" text-anchor="end" fill="#111" font-weight="normal" stroke="#111" stroke-width="0.12">0</text>
<line x1="379.4" y1="651.0" x2="382.4" y2="651.0" stroke="#1a1a1a" stroke-width="1.0"/>
<text x="376.2" y="653.5" font-size="7.4" text-anchor="end" fill="#111" font-weight="normal" stroke="#111" stroke-width="0.12">5</text>
<line x1="379.4" y1="636.0" x2="382.4" y2="636.0" stroke="#1a1a1a" stroke-width="1.0"/>
<text x="376.2" y="638.5" font-size="7.4" text-anchor="end" fill="#111" font-weight="normal" stroke="#111" stroke-width="0.12">10</text>
<line x1="379.4" y1="621.0" x2="382.4" y2="621.0" stroke="#1a1a1a" stroke-width="1.0"/>
<text x="376.2" y="623.5" font-size="7.4" text-anchor="end" fill="#111" font-weight="normal" stroke="#111" stroke-width="0.12">15</text>
<line x1="379.4" y1="606.0" x2="382.4" y2="606.0" stroke="#1a1a1a" stroke-width="1.0"/>
<text x="376.2" y="608.5" font-size="7.4" text-anchor="end" fill="#111" font-weight="normal" stroke="#111" stroke-width="0.12">20</text>
<line x1="379.4" y1="591.0" x2="382.4" y2="591.0" stroke="#1a1a1a" stroke-width="1.0"/>
<text x="376.2" y="593.5" font-size="7.4" text-anchor="end" fill="#111" font-weight="normal" stroke="#111" stroke-width="0.12">25</text>
<rect x="393.90" y="657.00" width="20.80" height="9.00" fill="#69a947"/>
<line x1="393.9" y1="657.3" x2="414.7" y2="657.3" stroke="#4a8a2c" stroke-width="0.7"/>
<line x1="404.29999999999995" y1="655.9" x2="404.29999999999995" y2="657.0" stroke="#4a4a4a" stroke-width="1.2"/>
<line x1="400.04999999999995" y1="655.9" x2="408.54999999999995" y2="655.9" stroke="#4a4a4a" stroke-width="1.2"/>
<rect x="427.10" y="641.40" width="20.20" height="24.60" fill="#2b4a82"/>
<line x1="427.1" y1="641.7" x2="447.3" y2="641.7" stroke="#1d3a6c" stroke-width="0.7"/>
<line x1="437.20000000000005" y1="626.4" x2="437.20000000000005" y2="641.4000000000001" stroke="#4a4a4a" stroke-width="1.2"/>
<line x1="432.20000000000005" y1="626.4" x2="442.20000000000005" y2="626.4" stroke="#4a4a4a" stroke-width="1.2"/>
<rect x="460.00" y="627.00" width="20.20" height="39.00" fill="#a3002b"/>
<line x1="460" y1="627.3" x2="480.2" y2="627.3" stroke="#850020" stroke-width="0.7"/>
<line x1="470.1" y1="609.1" x2="470.1" y2="627.0" stroke="#4a4a4a" stroke-width="1.2"/>
<line x1="465.1" y1="609.1" x2="475.1" y2="609.1" stroke="#4a4a4a" stroke-width="1.2"/>
<line x1="404.3" y1="666" x2="404.3" y2="669" stroke="#1a1a1a" stroke-width="1"/>
<line x1="437.2" y1="666" x2="437.2" y2="669" stroke="#1a1a1a" stroke-width="1"/>
<line x1="470.1" y1="666" x2="470.1" y2="669" stroke="#1a1a1a" stroke-width="1"/>
<text x="404.6" y="677.7" font-size="7.3" text-anchor="middle" fill="#222" font-weight="normal" stroke="#222" stroke-width="0.12">NBM</text>
<text x="436.9" y="677.7" font-size="7.3" text-anchor="middle" fill="#222" font-weight="normal" stroke="#222" stroke-width="0.12">non-MLL</text>
<text x="469.5" y="677.7" font-size="7.3" text-anchor="middle" fill="#222" font-weight="normal" stroke="#222" stroke-width="0.12">MLL</text>
<line x1="405.2" y1="605.4" x2="464.6" y2="605.4" stroke="#3a3a3a" stroke-width="1.15"/>
<text x="434.9" y="603.2" font-size="5.6" text-anchor="middle" fill="#222" font-weight="normal" stroke="#222" stroke-width="0.12">P=0.008</text>
<line x1="405.2" y1="617.2" x2="436.9" y2="617.2" stroke="#3a3a3a" stroke-width="1.15"/>
<text x="421.3" y="615" font-size="5.6" text-anchor="middle" fill="#222" font-weight="normal" stroke="#222" stroke-width="0.12">P=0.042</text>
</svg>
<div class="frame"></div>
</body></html>
